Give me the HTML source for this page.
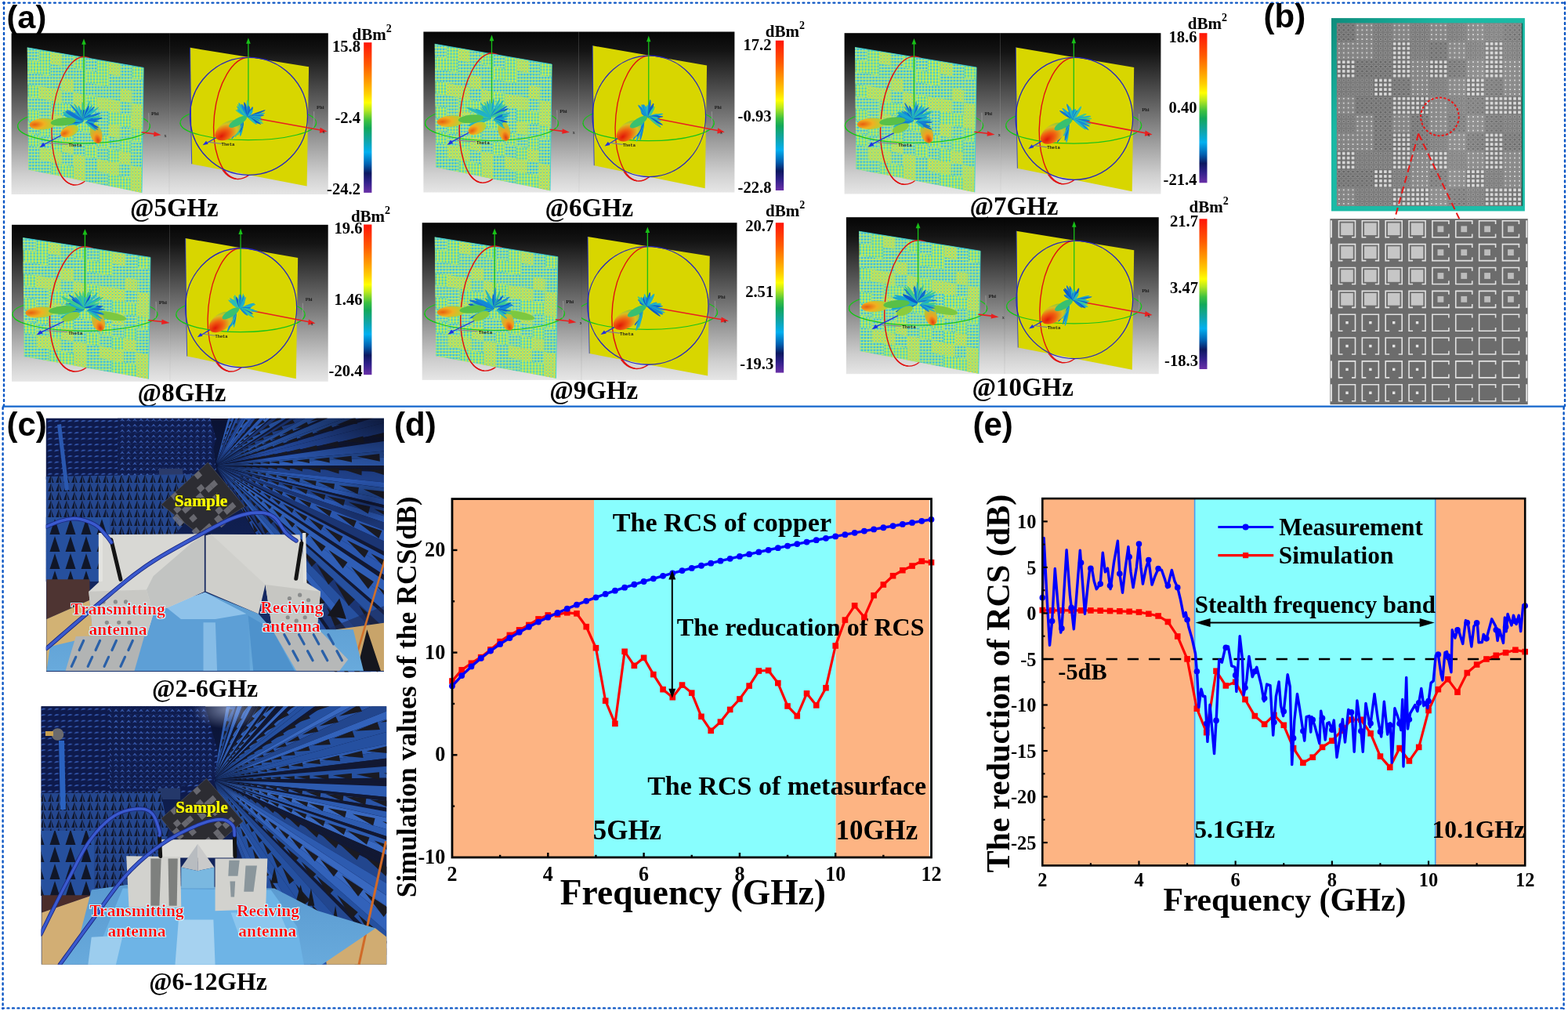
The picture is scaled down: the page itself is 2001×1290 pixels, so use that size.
<!DOCTYPE html>
<html><head><meta charset="utf-8"><title>Metasurface RCS figure</title>
<style>
html,body{margin:0;padding:0;background:#fff;}
body{width:2001px;height:1290px;overflow:hidden;position:relative;}
body>svg{position:absolute;left:0;top:0;display:block;}
</style></head>
<body>
<svg width="2001" height="1290" viewBox="0 0 2001 1290">
<defs>
<linearGradient id="simbg" x1="0" y1="0" x2="0" y2="1">
<stop offset="0" stop-color="#050505"/><stop offset="0.12" stop-color="#141414"/>
<stop offset="0.5" stop-color="#707070"/><stop offset="0.88" stop-color="#cfcfcf"/>
<stop offset="1" stop-color="#e6e6e6"/></linearGradient>
<linearGradient id="cbar" x1="0" y1="0" x2="0" y2="1">
<stop offset="0" stop-color="#ff1408"/><stop offset="0.15" stop-color="#ff5a00"/>
<stop offset="0.26" stop-color="#ff9c00"/><stop offset="0.34" stop-color="#ffcf00"/>
<stop offset="0.40" stop-color="#ffff00"/><stop offset="0.45" stop-color="#b8e820"/>
<stop offset="0.52" stop-color="#3cc040"/><stop offset="0.57" stop-color="#12a85a"/>
<stop offset="0.65" stop-color="#10a4a4"/><stop offset="0.73" stop-color="#00b0f0"/>
<stop offset="0.81" stop-color="#0060b0"/><stop offset="0.87" stop-color="#0c1860"/>
<stop offset="0.93" stop-color="#30208a"/><stop offset="1" stop-color="#6a30a8"/></linearGradient>
<pattern id="mtex" width="3.8" height="4.0" patternUnits="userSpaceOnUse">
<rect width="3.8" height="4.0" fill="#9ae67c"/>
<rect x="0.2" y="0.3" width="1.6" height="1.6" fill="#f2ee22"/>
<rect x="2.1" y="2.2" width="1.5" height="1.5" fill="#1cb8f2"/>
<rect x="2.1" y="0.3" width="1.4" height="1.3" fill="#5ce0c4"/>
</pattern>
<pattern id="mtex2" width="3.8" height="4.0" patternUnits="userSpaceOnUse">
<rect width="3.8" height="4.0" fill="#b4e868"/>
<rect x="0.2" y="0.3" width="1.7" height="1.7" fill="#ffc414"/>
<rect x="2.1" y="2.2" width="1.4" height="1.4" fill="#40c8e0"/>
</pattern>
<pattern id="mtexY" width="3.8" height="4.0" patternUnits="userSpaceOnUse">
<rect width="3.8" height="4.0" fill="#9ee27c"/>
<rect x="0.2" y="0.3" width="1.7" height="1.7" fill="#f6d62a"/>
<rect x="2.1" y="2.2" width="1.5" height="1.5" fill="#e8ee30"/>
<rect x="2.2" y="0.4" width="1.1" height="1.1" fill="#30bce8"/>
</pattern>
<pattern id="mtexB" width="3.8" height="4.0" patternUnits="userSpaceOnUse">
<rect width="3.8" height="4.0" fill="#8ee0a2"/>
<rect x="0.2" y="0.3" width="1.7" height="1.7" fill="#20acec"/>
<rect x="2.1" y="2.2" width="1.5" height="1.5" fill="#eaf030"/>
<rect x="2.2" y="0.4" width="1.1" height="1.0" fill="#40c8e0"/>
</pattern>
<radialGradient id="lobeO" cx="0.2" cy="0.5" r="0.8">
<stop offset="0" stop-color="#e86010"/><stop offset="0.45" stop-color="#f0b020"/><stop offset="1" stop-color="#a8d838"/></radialGradient>
<radialGradient id="lobeD" cx="0.5" cy="0.85" r="0.8">
<stop offset="0" stop-color="#e04010"/><stop offset="0.4" stop-color="#f0a020"/><stop offset="1" stop-color="#a0d040"/></radialGradient>
<radialGradient id="lobeR" cx="0.2" cy="0.6" r="0.8">
<stop offset="0" stop-color="#e01808"/><stop offset="0.4" stop-color="#f06010"/><stop offset="0.75" stop-color="#d8c020"/><stop offset="1" stop-color="#80c840"/></radialGradient>
<pattern id="cB" x="1705.9" y="29.6" width="5.9" height="5.83" patternUnits="userSpaceOnUse">
<rect width="5.92" height="5.92" fill="#6c6c6c"/>
<rect x="1.15" y="1.15" width="3.6" height="3.6" fill="#dcdcdc"/></pattern>
<pattern id="cD" x="1705.9" y="29.6" width="5.9" height="5.83" patternUnits="userSpaceOnUse">
<rect width="5.92" height="5.92" fill="#747474"/>
<rect x="0.9" y="0.9" width="4.1" height="4.1" fill="none" stroke="#a2a2a2" stroke-width="0.6"/>
<circle cx="2.96" cy="2.96" r="0.95" fill="#f2f2f2"/></pattern>
<pattern id="cR" x="1705.9" y="29.6" width="5.9" height="5.83" patternUnits="userSpaceOnUse">
<rect width="5.92" height="5.92" fill="#787878"/>
<circle cx="2.96" cy="2.96" r="1.7" fill="#6a6a6a" stroke="#a8a8a8" stroke-width="0.6"/></pattern>
<pattern id="cC" x="1705.9" y="29.6" width="5.9" height="5.83" patternUnits="userSpaceOnUse">
<rect width="5.92" height="5.92" fill="#727272"/>
<rect x="1.0" y="1.2" width="3.9" height="3.5" rx="1.3" fill="#5e5e5e" stroke="#b0b0b0" stroke-width="0.6"/></pattern>
<linearGradient id="tealg" x1="0" y1="0" x2="1" y2="1">
<stop offset="0" stop-color="#0e8c7c"/><stop offset="0.3" stop-color="#1ab8a4"/><stop offset="1" stop-color="#1ebfaa"/></linearGradient>
<linearGradient id="bLight" x1="0" y1="0" x2="1" y2="0.3">
<stop offset="0" stop-color="#ffffff" stop-opacity="0"/><stop offset="0.55" stop-color="#ffffff" stop-opacity="0.04"/>
<stop offset="0.8" stop-color="#ffffff" stop-opacity="0.12"/><stop offset="1" stop-color="#ffffff" stop-opacity="0.06"/></linearGradient>
<linearGradient id="chamberTop" x1="0" y1="0" x2="0" y2="1">
<stop offset="0" stop-color="#0a1232"/><stop offset="0.6" stop-color="#12245c"/><stop offset="1" stop-color="#1a3470"/></linearGradient>
<pattern id="pyr" width="8.5" height="7.5" patternUnits="userSpaceOnUse">
<rect width="8.5" height="7.5" fill="#0e1a4c"/>
<path d="M0.8 6 Q4 2.6 7.6 4.6 L4.6 5.4 Z" fill="#3a62c0"/></pattern>
<pattern id="pyr2" width="8" height="7" patternUnits="userSpaceOnUse">
<rect width="8" height="7" fill="#0f1c4e"/>
<path d="M1 5.5 L4 1.8 L7 5.5 L4 4.3 Z" fill="#4068c4"/></pattern>
<pattern id="cones" width="10" height="11" patternUnits="userSpaceOnUse">
<rect width="10" height="11" fill="#24468e"/>
<polygon points="5,0.5 8.8,11 1.2,11" fill="#101830"/><polygon points="5,0.5 6.6,11 5,11" fill="#28468a"/></pattern>
<pattern id="conesBig" width="20" height="22" patternUnits="userSpaceOnUse">
<rect width="20" height="22" fill="#26509e"/>
<polygon points="10,2 16.5,22 3.5,22" fill="#101628"/></pattern>
<linearGradient id="foamG" x1="0" y1="0" x2="0" y2="1">
<stop offset="0" stop-color="#5a9ad0"/><stop offset="1" stop-color="#68aadc"/></linearGradient>
<linearGradient id="antG" x1="0" y1="0" x2="1" y2="1">
<stop offset="0" stop-color="#e2e2de"/><stop offset="1" stop-color="#c4c4c0"/></linearGradient>
<radialGradient id="cornerDark" cx="1" cy="0" r="1">
<stop offset="0" stop-color="#060a1c" stop-opacity="0.75"/><stop offset="0.6" stop-color="#060a1c" stop-opacity="0.25"/><stop offset="1" stop-color="#060a1c" stop-opacity="0"/></radialGradient>
<radialGradient id="vpGlow" cx="0.5" cy="0.5" r="0.5">
<stop offset="0" stop-color="#05081a" stop-opacity="0.85"/><stop offset="1" stop-color="#05081a" stop-opacity="0"/></radialGradient>
<radialGradient id="lightGlow" cx="0.5" cy="0.5" r="0.5">
<stop offset="0" stop-color="#c8d8ff" stop-opacity="0.55"/><stop offset="1" stop-color="#c8d8ff" stop-opacity="0"/></radialGradient>
<filter id="rglow" x="-5%" y="-20%" width="110%" height="140%">
<feMorphology in="SourceAlpha" operator="dilate" radius="1.1" result="d"/>
<feFlood flood-color="#c8f4ff"/><feComposite in2="d" operator="in" result="o"/>
<feMerge><feMergeNode in="o"/><feMergeNode in="SourceGraphic"/></feMerge></filter>
<filter id="yshadow" x="-5%" y="-20%" width="110%" height="140%">
<feMorphology in="SourceAlpha" operator="dilate" radius="0.8" result="d"/>
<feFlood flood-color="#30301a"/><feComposite in2="d" operator="in" result="o"/>
<feMerge><feMergeNode in="o"/><feMergeNode in="SourceGraphic"/></feMerge></filter>
</defs>
<rect x="0" y="0" width="2001" height="1290" fill="#ffffff"/>
<g transform="translate(14.6 42.3)">
<rect x="0" y="0" width="201.5" height="205.7" fill="url(#simbg)"/>
<rect x="201.5" y="0" width="202.7" height="205.7" fill="url(#simbg)"/>
<line x1="201.5" y1="0" x2="201.5" y2="205.7" stroke="#000" stroke-opacity="0.07" stroke-width="1"/>
<svg x="0" y="0" width="201.5" height="205.7" viewBox="0 0 201.5 205.7" overflow="hidden">
<g transform="matrix(1 0 0 1 0 0)">
<ellipse cx="87" cy="112" rx="35" ry="82" fill="none" stroke="#e01010" stroke-width="1.4" transform="rotate(5 87 112)"/>
<ellipse cx="92.4" cy="118.6" rx="84.4" ry="22" fill="none" stroke="#18c418" stroke-width="1.2"/>
<polygon points="20.2,18.5 168.6,44.1 166.4,203.6 21.6,174.2" fill="url(#mtex)"/>
<polygon points="20.2,18.5 35.04,21.06 35.14,36.67 20.34,34.07" fill="url(#mtexB)"/>
<polygon points="49.88,23.62 64.72,26.18 64.75,41.86 49.95,39.27" fill="url(#mtexY)"/>
<polygon points="64.72,26.18 79.56,28.74 79.56,44.46 64.75,41.86" fill="url(#mtexB)"/>
<polygon points="94.4,31.3 109.24,33.86 109.16,49.66 94.36,47.06" fill="url(#mtexB)"/>
<polygon points="124.08,36.42 138.92,38.98 138.77,54.85 123.97,52.26" fill="url(#mtexY)"/>
<polygon points="138.92,38.98 153.76,41.54 153.58,57.45 138.77,54.85" fill="url(#mtexB)"/>
<polygon points="49.95,39.27 64.75,41.86 64.78,57.55 50.02,54.91" fill="url(#mtexB)"/>
<polygon points="64.75,41.86 79.56,44.46 79.55,60.18 64.78,57.55" fill="url(#mtexB)"/>
<polygon points="79.56,44.46 94.36,47.06 94.32,62.82 79.55,60.18" fill="url(#mtexB)"/>
<polygon points="123.97,52.26 138.77,54.85 138.62,70.73 123.86,68.09" fill="url(#mtexB)"/>
<polygon points="138.77,54.85 153.58,57.45 153.39,73.36 138.62,70.73" fill="url(#mtexB)"/>
<polygon points="153.58,57.45 168.38,60.05 168.16,76 153.39,73.36" fill="url(#mtexB)"/>
<polygon points="20.48,49.64 35.25,52.28 35.35,67.88 20.62,65.21" fill="url(#mtexB)"/>
<polygon points="35.25,52.28 50.02,54.91 50.08,70.56 35.35,67.88" fill="url(#mtexB)"/>
<polygon points="50.02,54.91 64.78,57.55 64.82,73.23 50.08,70.56" fill="url(#mtexB)"/>
<polygon points="64.78,57.55 79.55,60.18 79.55,75.91 64.82,73.23" fill="url(#mtexY)"/>
<polygon points="79.55,60.18 94.32,62.82 94.28,78.58 79.55,75.91" fill="url(#mtexB)"/>
<polygon points="94.32,62.82 109.09,65.46 109.01,81.25 94.28,78.58" fill="url(#mtexB)"/>
<polygon points="109.09,65.46 123.86,68.09 123.74,83.93 109.01,81.25" fill="url(#mtexB)"/>
<polygon points="123.86,68.09 138.62,70.73 138.48,86.6 123.74,83.93" fill="url(#mtexB)"/>
<polygon points="138.62,70.73 153.39,73.36 153.21,89.28 138.48,86.6" fill="url(#mtexY)"/>
<polygon points="153.39,73.36 168.16,76 167.94,91.95 153.21,89.28" fill="url(#mtexB)"/>
<polygon points="35.35,67.88 50.08,70.56 50.15,86.2 35.46,83.49" fill="url(#mtexY)"/>
<polygon points="50.08,70.56 64.82,73.23 64.85,88.92 50.15,86.2" fill="url(#mtexY)"/>
<polygon points="64.82,73.23 79.55,75.91 79.54,91.63 64.85,88.92" fill="url(#mtexB)"/>
<polygon points="79.55,75.91 94.28,78.58 94.24,94.34 79.54,91.63" fill="url(#mtexY)"/>
<polygon points="109.01,81.25 123.74,83.93 123.63,99.76 108.94,97.05" fill="url(#mtexY)"/>
<polygon points="123.74,83.93 138.48,86.6 138.33,102.48 123.63,99.76" fill="url(#mtexY)"/>
<polygon points="138.48,86.6 153.21,89.28 153.02,105.19 138.33,102.48" fill="url(#mtexB)"/>
<polygon points="153.21,89.28 167.94,91.95 167.72,107.9 153.02,105.19" fill="url(#mtexY)"/>
<polygon points="20.76,80.78 35.46,83.49 35.56,99.1 20.9,96.35" fill="url(#mtexB)"/>
<polygon points="35.46,83.49 50.15,86.2 50.22,101.85 35.56,99.1" fill="url(#mtexB)"/>
<polygon points="79.54,91.63 94.24,94.34 94.2,110.1 79.54,107.35" fill="url(#mtexY)"/>
<polygon points="94.24,94.34 108.94,97.05 108.86,112.85 94.2,110.1" fill="url(#mtexB)"/>
<polygon points="108.94,97.05 123.63,99.76 123.52,115.6 108.86,112.85" fill="url(#mtexB)"/>
<polygon points="153.02,105.19 167.72,107.9 167.5,123.85 152.84,121.1" fill="url(#mtexY)"/>
<polygon points="35.56,99.1 50.22,101.85 50.29,117.5 35.66,114.71" fill="url(#mtexB)"/>
<polygon points="50.22,101.85 64.88,104.6 64.91,120.28 50.29,117.5" fill="url(#mtexY)"/>
<polygon points="64.88,104.6 79.54,107.35 79.54,123.07 64.91,120.28" fill="url(#mtexB)"/>
<polygon points="108.86,112.85 123.52,115.6 123.41,131.44 108.78,128.65" fill="url(#mtexB)"/>
<polygon points="123.52,115.6 138.18,118.35 138.03,134.22 123.41,131.44" fill="url(#mtexY)"/>
<polygon points="138.18,118.35 152.84,121.1 152.66,137.01 138.03,134.22" fill="url(#mtexB)"/>
<polygon points="21.04,111.92 35.66,114.71 35.77,130.32 21.18,127.49" fill="url(#mtexB)"/>
<polygon points="50.29,117.5 64.91,120.28 64.94,135.97 50.36,133.14" fill="url(#mtexB)"/>
<polygon points="79.54,123.07 94.16,125.86 94.12,141.62 79.53,138.79" fill="url(#mtexB)"/>
<polygon points="94.16,125.86 108.78,128.65 108.71,144.45 94.12,141.62" fill="url(#mtexB)"/>
<polygon points="123.41,131.44 138.03,134.22 137.88,150.1 123.3,147.27" fill="url(#mtexB)"/>
<polygon points="152.66,137.01 167.28,139.8 167.06,155.75 152.47,152.92" fill="url(#mtexB)"/>
<polygon points="35.77,130.32 50.36,133.14 50.42,148.79 35.87,145.92" fill="url(#mtexB)"/>
<polygon points="64.94,135.97 79.53,138.79 79.53,154.52 64.98,151.65" fill="url(#mtexY)"/>
<polygon points="79.53,138.79 94.12,141.62 94.08,157.38 79.53,154.52" fill="url(#mtexB)"/>
<polygon points="108.71,144.45 123.3,147.27 123.18,163.11 108.63,160.24" fill="url(#mtexB)"/>
<polygon points="137.88,150.1 152.47,152.92 152.29,168.84 137.74,165.97" fill="url(#mtexY)"/>
<polygon points="152.47,152.92 167.06,155.75 166.84,171.7 152.29,168.84" fill="url(#mtexB)"/>
<polygon points="21.32,143.06 35.87,145.92 35.98,161.53 21.46,158.63" fill="url(#mtexB)"/>
<polygon points="35.87,145.92 50.42,148.79 50.49,164.43 35.98,161.53" fill="url(#mtexY)"/>
<polygon points="50.42,148.79 64.98,151.65 65.01,167.34 50.49,164.43" fill="url(#mtexY)"/>
<polygon points="64.98,151.65 79.53,154.52 79.52,170.24 65.01,167.34" fill="url(#mtexB)"/>
<polygon points="79.53,154.52 94.08,157.38 94.04,173.14 79.52,170.24" fill="url(#mtexY)"/>
<polygon points="94.08,157.38 108.63,160.24 108.56,176.04 94.04,173.14" fill="url(#mtexB)"/>
<polygon points="108.63,160.24 123.18,163.11 123.07,178.94 108.56,176.04" fill="url(#mtexY)"/>
<polygon points="123.18,163.11 137.74,165.97 137.59,181.85 123.07,178.94" fill="url(#mtexY)"/>
<polygon points="137.74,165.97 152.29,168.84 152.1,184.75 137.59,181.85" fill="url(#mtexB)"/>
<polygon points="152.29,168.84 166.84,171.7 166.62,187.65 152.1,184.75" fill="url(#mtexY)"/>
<polygon points="21.46,158.63 35.98,161.53 36.08,177.14 21.6,174.2" fill="url(#mtexB)"/>
<polygon points="35.98,161.53 50.49,164.43 50.56,180.08 36.08,177.14" fill="url(#mtexB)"/>
<polygon points="79.52,170.24 94.04,173.14 94,188.9 79.52,185.96" fill="url(#mtexY)"/>
<polygon points="94.04,173.14 108.56,176.04 108.48,191.84 94,188.9" fill="url(#mtexB)"/>
<polygon points="108.56,176.04 123.07,178.94 122.96,194.78 108.48,191.84" fill="url(#mtexB)"/>
<polygon points="152.1,184.75 166.62,187.65 166.4,203.6 151.92,200.66" fill="url(#mtexY)"/>
<polyline points="20.2,18.5 168.6,44.1 166.4,203.6" fill="none" stroke="#30d0e0" stroke-width="0.8"/>
<path d="M 94.2 30.3 A 35 82 5 0 0 79.8 193.7" fill="none" stroke="#e01010" stroke-width="1.4"/>
<path d="M 8 118.6 A 84.4 22 0 0 0 176.8 118.6" fill="none" stroke="#18c418" stroke-width="1.2"/>
<line x1="92.4" y1="111" x2="92.4" y2="12" stroke="#18c018" stroke-width="1.3"/>
<polygon points="92.4,7 89.6,14.5 95.2,14.5" fill="#18c018"/>
<line x1="166" y1="126.5" x2="184" y2="128.8" stroke="#e82020" stroke-width="1.6"/>
<polygon points="191,130 182,125.5 181.5,132" fill="#e82020"/>
<line x1="68" y1="128" x2="40" y2="143" stroke="#2030e0" stroke-width="1.3"/>
<polygon points="36,146 40.5,139.5 43.5,144" fill="#2030e0"/>
<line x1="48" y1="140" x2="72" y2="142" stroke="#808090" stroke-width="1.2"/>
<text x="73" y="145" font-family="Liberation Mono, monospace" font-size="5.6" font-weight="bold" fill="#1a1a1a">Theta</text>
<text x="178.5" y="105" font-family="Liberation Serif, serif" font-size="6.5" font-weight="bold" fill="#1a1a1a">Phi</text>
<text x="195" y="132.5" font-family="Liberation Serif, serif" font-size="6" fill="#1a1a1a">x</text>
<path d="M 174 124 Q 176 112 175 102" fill="none" stroke="#909090" stroke-width="1.2"/>
<ellipse cx="83.37" cy="109.57" rx="8.64" ry="1.3" fill="#20b0c8" transform="rotate(-177.13 83.37 109.57)"/>
<ellipse cx="83.98" cy="108.61" rx="8.14" ry="1.3" fill="#18a8d0" transform="rotate(-170.15 83.98 108.61)"/>
<ellipse cx="81.17" cy="106.44" rx="11.4" ry="1.3" fill="#3cc890" transform="rotate(-161.8 81.17 106.44)"/>
<ellipse cx="81.98" cy="105.72" rx="10.89" ry="1.3" fill="#18a8d0" transform="rotate(-156.87 81.98 105.72)"/>
<ellipse cx="81.15" cy="103.86" rx="12.46" ry="1.3" fill="#1288d8" transform="rotate(-150.51 81.15 103.86)"/>
<ellipse cx="86.11" cy="105.4" rx="7.48" ry="1.3" fill="#20b0c8" transform="rotate(-141.99 86.11 105.4)"/>
<ellipse cx="83.63" cy="100.47" rx="12.69" ry="1.3" fill="#1288d8" transform="rotate(-131.28 83.63 100.47)"/>
<ellipse cx="87.08" cy="103.98" rx="7.78" ry="1.3" fill="#1474d0" transform="rotate(-129.27 87.08 103.98)"/>
<ellipse cx="85.96" cy="100" rx="11.68" ry="1.3" fill="#2cbcb8" transform="rotate(-121.14 85.96 100)"/>
<ellipse cx="88.61" cy="101.19" rx="9.44" ry="1.3" fill="#20b0c8" transform="rotate(-111.06 88.61 101.19)"/>
<ellipse cx="90.36" cy="103.93" rx="6.28" ry="1.3" fill="#1474d0" transform="rotate(-105.09 90.36 103.93)"/>
<ellipse cx="90.95" cy="103.64" rx="6.45" ry="1.3" fill="#3cc890" transform="rotate(-99.37 90.95 103.64)"/>
<ellipse cx="91.21" cy="98.84" rx="11.19" ry="1.3" fill="#3cc890" transform="rotate(-94.03 91.21 98.84)"/>
<ellipse cx="92.15" cy="103.67" rx="6.34" ry="1.3" fill="#0a5ccc" transform="rotate(-88.62 92.15 103.67)"/>
<ellipse cx="93.51" cy="103.27" rx="6.9" ry="1.3" fill="#2cbcb8" transform="rotate(-77.32 93.51 103.27)"/>
<ellipse cx="95.99" cy="98.28" rx="12.38" ry="1.3" fill="#2cbcb8" transform="rotate(-71.2 95.99 98.28)"/>
<ellipse cx="95.47" cy="101.23" rx="9.43" ry="1.3" fill="#0a5ccc" transform="rotate(-68.44 95.47 101.23)"/>
<ellipse cx="97.57" cy="100.82" rx="10.74" ry="1.3" fill="#20b0c8" transform="rotate(-58.75 97.57 100.82)"/>
<ellipse cx="98.88" cy="101.79" rx="10.71" ry="1.3" fill="#1474d0" transform="rotate(-50.03 98.88 101.79)"/>
<ellipse cx="98.49" cy="103.45" rx="9.23" ry="1.3" fill="#18a8d0" transform="rotate(-45.26 98.49 103.45)"/>
<ellipse cx="101.79" cy="102.15" rx="12.55" ry="1.3" fill="#2cbcb8" transform="rotate(-38.75 101.79 102.15)"/>
<ellipse cx="96.62" cy="107.02" rx="5.5" ry="1.3" fill="#0a5ccc" transform="rotate(-32.79 96.62 107.02)"/>
<ellipse cx="101.4" cy="106" rx="10.21" ry="1.3" fill="#18a8d0" transform="rotate(-23.06 101.4 106)"/>
<ellipse cx="102.88" cy="106" rx="11.59" ry="1.3" fill="#1474d0" transform="rotate(-20.16 102.88 106)"/>
<ellipse cx="102.95" cy="107.97" rx="11.14" ry="1.3" fill="#3cc890" transform="rotate(-10.51 102.95 107.97)"/>
<ellipse cx="104.19" cy="109.32" rx="12.21" ry="1.3" fill="#18a8d0" transform="rotate(-3.19 104.19 109.32)"/>
<ellipse cx="78.65" cy="117.42" rx="14.41" ry="2.2" fill="#20b0c8" transform="rotate(-202.12 78.65 117.42)"/>
<ellipse cx="82.84" cy="114.27" rx="9.44" ry="2.2" fill="#18a8d0" transform="rotate(-193.9 82.84 114.27)"/>
<ellipse cx="82.06" cy="112.78" rx="9.97" ry="2.2" fill="#0a5ccc" transform="rotate(-184.48 82.06 112.78)"/>
<ellipse cx="75.93" cy="111.12" rx="16.09" ry="2.2" fill="#18a8d0" transform="rotate(-176.88 75.93 111.12)"/>
<ellipse cx="81.39" cy="110.37" rx="10.73" ry="2.2" fill="#20b0c8" transform="rotate(-171.28 81.39 110.37)"/>
<ellipse cx="79.06" cy="107.99" rx="13.55" ry="2.2" fill="#18a8d0" transform="rotate(-162.79 79.06 107.99)"/>
<ellipse cx="78.6" cy="106.42" rx="14.52" ry="2.2" fill="#2cbcb8" transform="rotate(-157.41 78.6 106.42)"/>
<ellipse cx="80.36" cy="105.77" rx="13.2" ry="2.2" fill="#1474d0" transform="rotate(-151.84 80.36 105.77)"/>
<ellipse cx="40" cy="116" rx="17" ry="7.2" fill="url(#lobeO)" transform="rotate(-4 40 116)"/>
<ellipse cx="66" cy="113" rx="16" ry="5" fill="#58c048" transform="rotate(-6 66 113)"/>
<ellipse cx="74" cy="125" rx="12" ry="7" fill="url(#lobeO)" transform="rotate(-25 74 125)"/>
<ellipse cx="108" cy="128" rx="7.5" ry="13" fill="url(#lobeD)" transform="rotate(-15 108 128)"/>
<ellipse cx="99.58" cy="111.41" rx="5.26" ry="1.3" fill="#1474d0" transform="rotate(-29.43 99.58 111.41)"/>
<ellipse cx="101.97" cy="111.52" rx="7.4" ry="1.3" fill="#1474d0" transform="rotate(-19.6 101.97 111.52)"/>
<ellipse cx="105.44" cy="110.9" rx="10.89" ry="1.3" fill="#1474d0" transform="rotate(-16.54 105.44 110.9)"/>
<ellipse cx="103.21" cy="113.02" rx="8.27" ry="1.3" fill="#1474d0" transform="rotate(-6.81 103.21 113.02)"/>
<ellipse cx="100.3" cy="114.07" rx="5.3" ry="1.3" fill="#2cbcb8" transform="rotate(0.78 100.3 114.07)"/>
<ellipse cx="100.18" cy="115.02" rx="5.28" ry="1.3" fill="#1288d8" transform="rotate(11.13 100.18 115.02)"/>
<ellipse cx="100.61" cy="115.96" rx="5.94" ry="1.3" fill="#0a5ccc" transform="rotate(19.27 100.61 115.96)"/>
<ellipse cx="103.19" cy="117.36" rx="8.85" ry="1.3" fill="#0a5ccc" transform="rotate(22.28 103.19 117.36)"/>
<ellipse cx="102.84" cy="118.66" rx="9.13" ry="1.3" fill="#1474d0" transform="rotate(30.73 102.84 118.66)"/>
<ellipse cx="101.37" cy="119.23" rx="8.24" ry="1.3" fill="#2cbcb8" transform="rotate(39.41 101.37 119.23)"/>
</g></svg>
<svg x="201.5" y="0" width="202.7" height="205.7" viewBox="201.5 0 202.7 205.7" overflow="hidden">
<g transform="matrix(1 0 0 1 0 0)">
<ellipse cx="295" cy="108.5" rx="38" ry="78" fill="none" stroke="#e01010" stroke-width="1.4" transform="rotate(6 295 108.5)"/>
<ellipse cx="302.2" cy="114.4" rx="86.8" ry="22" fill="none" stroke="#18c418" stroke-width="1.2"/>
<polygon points="228,18.5 379.5,43 377,195.2 230.1,166.9" fill="#d8d600"/>
<polyline points="228,18.5 228.5,80 230.1,166.9" fill="none" stroke="#2030d0" stroke-width="0.8"/>
<path d="M 303.1 31 A 38 78 6 0 0 286.9 186" fill="none" stroke="#e01010" stroke-width="1.4"/>
<circle cx="302.9" cy="106" r="75" fill="none" stroke="#2424c0" stroke-width="1.3"/>
<path d="M 215.4 114.4 A 86.8 22 0 0 0 389 114.4" fill="none" stroke="#18c418" stroke-width="1.2"/>
<line x1="302.3" y1="108" x2="302.3" y2="11" stroke="#18c018" stroke-width="1.3"/>
<polygon points="302.3,6 299.5,13.5 305.1,13.5" fill="#18c018"/>
<line x1="302.3" y1="107" x2="396" y2="124" stroke="#e82020" stroke-width="1.6"/>
<polygon points="403,125.5 394,120.5 393.2,127.5" fill="#e82020"/>
<line x1="262" y1="133" x2="248" y2="141" stroke="#2030e0" stroke-width="1.3"/>
<polygon points="244,143 248.5,137.5 251,141.5" fill="#2030e0"/>
<line x1="252" y1="139" x2="268" y2="141" stroke="#808090" stroke-width="1.2"/>
<text x="268" y="143.5" font-family="Liberation Mono, monospace" font-size="5.6" font-weight="bold" fill="#1a1a1a">Theta</text>
<text x="389.5" y="97" font-family="Liberation Serif, serif" font-size="6.5" font-weight="bold" fill="#1a1a1a">Phi</text>
<text x="397" y="128" font-family="Liberation Serif, serif" font-size="6" fill="#1a1a1a">x</text>
<path d="M 385 121 Q 387 110 386 100" fill="none" stroke="#909090" stroke-width="1.2"/>
<ellipse cx="294.03" cy="102.45" rx="9.17" ry="1.6" fill="#3cc890" transform="rotate(-150.3 294.03 102.45)"/>
<ellipse cx="295.06" cy="102.13" rx="8.48" ry="1.6" fill="#18a8d0" transform="rotate(-144.91 295.06 102.13)"/>
<ellipse cx="294.76" cy="100.16" rx="9.96" ry="1.6" fill="#20b0c8" transform="rotate(-136.65 294.76 100.16)"/>
<ellipse cx="295.23" cy="98.86" rx="10.58" ry="1.6" fill="#3cc890" transform="rotate(-129.75 295.23 98.86)"/>
<ellipse cx="295.93" cy="97.9" rx="10.93" ry="1.6" fill="#20b0c8" transform="rotate(-123.69 295.93 97.9)"/>
<ellipse cx="297.82" cy="98.73" rx="9.26" ry="1.6" fill="#1288d8" transform="rotate(-116.82 297.82 98.73)"/>
<ellipse cx="300.18" cy="102.04" rx="5.28" ry="1.6" fill="#18a8d0" transform="rotate(-110.1 300.18 102.04)"/>
<ellipse cx="299.55" cy="97.53" rx="9.78" ry="1.6" fill="#0a5ccc" transform="rotate(-104.52 299.55 97.53)"/>
<ellipse cx="301.62" cy="96.05" rx="10.95" ry="1.6" fill="#3cc890" transform="rotate(-92 301.62 96.05)"/>
<ellipse cx="302.14" cy="99.59" rx="7.42" ry="1.6" fill="#1474d0" transform="rotate(-88.93 302.14 99.59)"/>
<ellipse cx="302.79" cy="100.26" rx="6.79" ry="1.6" fill="#1474d0" transform="rotate(-83.29 302.79 100.26)"/>
<ellipse cx="303.55" cy="102.1" rx="5.14" ry="1.6" fill="#0a5ccc" transform="rotate(-72.49 303.55 102.1)"/>
<ellipse cx="305.01" cy="100.55" rx="7.12" ry="1.6" fill="#1474d0" transform="rotate(-65 305.01 100.55)"/>
<ellipse cx="304.78" cy="102.6" rx="5.2" ry="1.6" fill="#20b0c8" transform="rotate(-57.65 304.78 102.6)"/>
<ellipse cx="313" cy="102.58" rx="11.86" ry="1.3" fill="#0a5ccc" transform="rotate(-21.89 313 102.58)"/>
<ellipse cx="312.81" cy="104.43" rx="11.11" ry="1.3" fill="#20b0c8" transform="rotate(-13.39 312.81 104.43)"/>
<ellipse cx="308.81" cy="106.13" rx="6.86" ry="1.3" fill="#1474d0" transform="rotate(-7.29 308.81 106.13)"/>
<ellipse cx="312.34" cy="105.8" rx="10.41" ry="1.3" fill="#1474d0" transform="rotate(-6.62 312.34 105.8)"/>
<ellipse cx="310.38" cy="107.11" rx="8.38" ry="1.3" fill="#2cbcb8" transform="rotate(0.74 310.38 107.11)"/>
<ellipse cx="310.62" cy="107.99" rx="8.68" ry="1.3" fill="#1288d8" transform="rotate(6.57 310.62 107.99)"/>
<ellipse cx="311.27" cy="109.52" rx="9.61" ry="1.3" fill="#3cc890" transform="rotate(15.18 311.27 109.52)"/>
<ellipse cx="309.23" cy="109.42" rx="7.62" ry="1.3" fill="#1474d0" transform="rotate(18.48 309.23 109.42)"/>
<ellipse cx="311.62" cy="111.16" rx="10.48" ry="1.3" fill="#2cbcb8" transform="rotate(23.38 311.62 111.16)"/>
<ellipse cx="310.27" cy="111.7" rx="9.51" ry="1.3" fill="#0a5ccc" transform="rotate(29.6 310.27 111.7)"/>
<ellipse cx="307.5" cy="110.92" rx="6.75" ry="1.3" fill="#0a5ccc" transform="rotate(35.45 307.5 110.92)"/>
<ellipse cx="307.58" cy="111.76" rx="7.34" ry="1.3" fill="#2cbcb8" transform="rotate(40.47 307.58 111.76)"/>
<ellipse cx="293.95" cy="121.8" rx="10.01" ry="1.5" fill="#18a8d0" transform="rotate(101.82 293.95 121.8)"/>
<ellipse cx="293.81" cy="119.29" rx="7.61" ry="1.5" fill="#0a5ccc" transform="rotate(106.71 293.81 119.29)"/>
<ellipse cx="292.36" cy="121.22" rx="9.91" ry="1.5" fill="#3cc890" transform="rotate(111.54 292.36 121.22)"/>
<ellipse cx="293.15" cy="119.2" rx="7.74" ry="1.5" fill="#0a5ccc" transform="rotate(111.56 293.15 119.2)"/>
<ellipse cx="290.69" cy="122.44" rx="11.71" ry="1.5" fill="#3cc890" transform="rotate(116.94 290.69 122.44)"/>
<ellipse cx="288.48" cy="123.53" rx="13.76" ry="1.5" fill="#1288d8" transform="rotate(123.13 288.48 123.53)"/>
<ellipse cx="289" cy="120.33" rx="10.88" ry="1.5" fill="#1288d8" transform="rotate(130.06 289 120.33)"/>
<ellipse cx="287.26" cy="122.48" rx="13.65" ry="1.5" fill="#1474d0" transform="rotate(129.84 287.26 122.48)"/>
<ellipse cx="287.25" cy="120.23" rx="12.01" ry="1.5" fill="#1474d0" transform="rotate(136.76 287.25 120.23)"/>
<ellipse cx="286.38" cy="120.5" rx="12.84" ry="1.5" fill="#20b0c8" transform="rotate(138.53 286.38 120.5)"/>
<ellipse cx="286.48" cy="118.82" rx="11.71" ry="1.5" fill="#20b0c8" transform="rotate(144.39 286.48 118.82)"/>
<ellipse cx="284.9" cy="118.45" rx="12.84" ry="1.5" fill="#1288d8" transform="rotate(149.83 284.9 118.45)"/>
<ellipse cx="276" cy="124" rx="18" ry="10.5" fill="url(#lobeR)" transform="rotate(-32 276 124)"/>
<ellipse cx="289" cy="113" rx="13" ry="4.5" fill="#38c070" transform="rotate(-30 289 113)"/>
</g></svg>
</g>
<g transform="translate(540.4 40.5)">
<rect x="0" y="0" width="198.4" height="205" fill="url(#simbg)"/>
<rect x="198.4" y="0" width="198.6" height="205" fill="url(#simbg)"/>
<line x1="198.4" y1="0" x2="198.4" y2="205" stroke="#000" stroke-opacity="0.07" stroke-width="1"/>
<svg x="0" y="0" width="198.4" height="205" viewBox="0 0 198.4 205" overflow="hidden">
<g transform="matrix(1.007 0 0 1.01 -5.94 -2.99)">
<ellipse cx="87" cy="112" rx="35" ry="82" fill="none" stroke="#e01010" stroke-width="1.4" transform="rotate(5 87 112)"/>
<ellipse cx="92.4" cy="118.6" rx="84.4" ry="22" fill="none" stroke="#18c418" stroke-width="1.2"/>
<polygon points="20.2,18.5 168.6,44.1 166.4,203.6 21.6,174.2" fill="url(#mtex)"/>
<polygon points="20.2,18.5 35.04,21.06 35.14,36.67 20.34,34.07" fill="url(#mtexB)"/>
<polygon points="49.88,23.62 64.72,26.18 64.75,41.86 49.95,39.27" fill="url(#mtexY)"/>
<polygon points="64.72,26.18 79.56,28.74 79.56,44.46 64.75,41.86" fill="url(#mtexB)"/>
<polygon points="94.4,31.3 109.24,33.86 109.16,49.66 94.36,47.06" fill="url(#mtexB)"/>
<polygon points="124.08,36.42 138.92,38.98 138.77,54.85 123.97,52.26" fill="url(#mtexY)"/>
<polygon points="138.92,38.98 153.76,41.54 153.58,57.45 138.77,54.85" fill="url(#mtexB)"/>
<polygon points="49.95,39.27 64.75,41.86 64.78,57.55 50.02,54.91" fill="url(#mtexB)"/>
<polygon points="64.75,41.86 79.56,44.46 79.55,60.18 64.78,57.55" fill="url(#mtexB)"/>
<polygon points="79.56,44.46 94.36,47.06 94.32,62.82 79.55,60.18" fill="url(#mtexB)"/>
<polygon points="123.97,52.26 138.77,54.85 138.62,70.73 123.86,68.09" fill="url(#mtexB)"/>
<polygon points="138.77,54.85 153.58,57.45 153.39,73.36 138.62,70.73" fill="url(#mtexB)"/>
<polygon points="153.58,57.45 168.38,60.05 168.16,76 153.39,73.36" fill="url(#mtexB)"/>
<polygon points="20.48,49.64 35.25,52.28 35.35,67.88 20.62,65.21" fill="url(#mtexB)"/>
<polygon points="35.25,52.28 50.02,54.91 50.08,70.56 35.35,67.88" fill="url(#mtexB)"/>
<polygon points="50.02,54.91 64.78,57.55 64.82,73.23 50.08,70.56" fill="url(#mtexB)"/>
<polygon points="64.78,57.55 79.55,60.18 79.55,75.91 64.82,73.23" fill="url(#mtexY)"/>
<polygon points="79.55,60.18 94.32,62.82 94.28,78.58 79.55,75.91" fill="url(#mtexB)"/>
<polygon points="94.32,62.82 109.09,65.46 109.01,81.25 94.28,78.58" fill="url(#mtexB)"/>
<polygon points="109.09,65.46 123.86,68.09 123.74,83.93 109.01,81.25" fill="url(#mtexB)"/>
<polygon points="123.86,68.09 138.62,70.73 138.48,86.6 123.74,83.93" fill="url(#mtexB)"/>
<polygon points="138.62,70.73 153.39,73.36 153.21,89.28 138.48,86.6" fill="url(#mtexY)"/>
<polygon points="153.39,73.36 168.16,76 167.94,91.95 153.21,89.28" fill="url(#mtexB)"/>
<polygon points="35.35,67.88 50.08,70.56 50.15,86.2 35.46,83.49" fill="url(#mtexY)"/>
<polygon points="50.08,70.56 64.82,73.23 64.85,88.92 50.15,86.2" fill="url(#mtexY)"/>
<polygon points="64.82,73.23 79.55,75.91 79.54,91.63 64.85,88.92" fill="url(#mtexB)"/>
<polygon points="79.55,75.91 94.28,78.58 94.24,94.34 79.54,91.63" fill="url(#mtexY)"/>
<polygon points="109.01,81.25 123.74,83.93 123.63,99.76 108.94,97.05" fill="url(#mtexY)"/>
<polygon points="123.74,83.93 138.48,86.6 138.33,102.48 123.63,99.76" fill="url(#mtexY)"/>
<polygon points="138.48,86.6 153.21,89.28 153.02,105.19 138.33,102.48" fill="url(#mtexB)"/>
<polygon points="153.21,89.28 167.94,91.95 167.72,107.9 153.02,105.19" fill="url(#mtexY)"/>
<polygon points="20.76,80.78 35.46,83.49 35.56,99.1 20.9,96.35" fill="url(#mtexB)"/>
<polygon points="35.46,83.49 50.15,86.2 50.22,101.85 35.56,99.1" fill="url(#mtexB)"/>
<polygon points="79.54,91.63 94.24,94.34 94.2,110.1 79.54,107.35" fill="url(#mtexY)"/>
<polygon points="94.24,94.34 108.94,97.05 108.86,112.85 94.2,110.1" fill="url(#mtexB)"/>
<polygon points="108.94,97.05 123.63,99.76 123.52,115.6 108.86,112.85" fill="url(#mtexB)"/>
<polygon points="153.02,105.19 167.72,107.9 167.5,123.85 152.84,121.1" fill="url(#mtexY)"/>
<polygon points="35.56,99.1 50.22,101.85 50.29,117.5 35.66,114.71" fill="url(#mtexB)"/>
<polygon points="50.22,101.85 64.88,104.6 64.91,120.28 50.29,117.5" fill="url(#mtexY)"/>
<polygon points="64.88,104.6 79.54,107.35 79.54,123.07 64.91,120.28" fill="url(#mtexB)"/>
<polygon points="108.86,112.85 123.52,115.6 123.41,131.44 108.78,128.65" fill="url(#mtexB)"/>
<polygon points="123.52,115.6 138.18,118.35 138.03,134.22 123.41,131.44" fill="url(#mtexY)"/>
<polygon points="138.18,118.35 152.84,121.1 152.66,137.01 138.03,134.22" fill="url(#mtexB)"/>
<polygon points="21.04,111.92 35.66,114.71 35.77,130.32 21.18,127.49" fill="url(#mtexB)"/>
<polygon points="50.29,117.5 64.91,120.28 64.94,135.97 50.36,133.14" fill="url(#mtexB)"/>
<polygon points="79.54,123.07 94.16,125.86 94.12,141.62 79.53,138.79" fill="url(#mtexB)"/>
<polygon points="94.16,125.86 108.78,128.65 108.71,144.45 94.12,141.62" fill="url(#mtexB)"/>
<polygon points="123.41,131.44 138.03,134.22 137.88,150.1 123.3,147.27" fill="url(#mtexB)"/>
<polygon points="152.66,137.01 167.28,139.8 167.06,155.75 152.47,152.92" fill="url(#mtexB)"/>
<polygon points="35.77,130.32 50.36,133.14 50.42,148.79 35.87,145.92" fill="url(#mtexB)"/>
<polygon points="64.94,135.97 79.53,138.79 79.53,154.52 64.98,151.65" fill="url(#mtexY)"/>
<polygon points="79.53,138.79 94.12,141.62 94.08,157.38 79.53,154.52" fill="url(#mtexB)"/>
<polygon points="108.71,144.45 123.3,147.27 123.18,163.11 108.63,160.24" fill="url(#mtexB)"/>
<polygon points="137.88,150.1 152.47,152.92 152.29,168.84 137.74,165.97" fill="url(#mtexY)"/>
<polygon points="152.47,152.92 167.06,155.75 166.84,171.7 152.29,168.84" fill="url(#mtexB)"/>
<polygon points="21.32,143.06 35.87,145.92 35.98,161.53 21.46,158.63" fill="url(#mtexB)"/>
<polygon points="35.87,145.92 50.42,148.79 50.49,164.43 35.98,161.53" fill="url(#mtexY)"/>
<polygon points="50.42,148.79 64.98,151.65 65.01,167.34 50.49,164.43" fill="url(#mtexY)"/>
<polygon points="64.98,151.65 79.53,154.52 79.52,170.24 65.01,167.34" fill="url(#mtexB)"/>
<polygon points="79.53,154.52 94.08,157.38 94.04,173.14 79.52,170.24" fill="url(#mtexY)"/>
<polygon points="94.08,157.38 108.63,160.24 108.56,176.04 94.04,173.14" fill="url(#mtexB)"/>
<polygon points="108.63,160.24 123.18,163.11 123.07,178.94 108.56,176.04" fill="url(#mtexY)"/>
<polygon points="123.18,163.11 137.74,165.97 137.59,181.85 123.07,178.94" fill="url(#mtexY)"/>
<polygon points="137.74,165.97 152.29,168.84 152.1,184.75 137.59,181.85" fill="url(#mtexB)"/>
<polygon points="152.29,168.84 166.84,171.7 166.62,187.65 152.1,184.75" fill="url(#mtexY)"/>
<polygon points="21.46,158.63 35.98,161.53 36.08,177.14 21.6,174.2" fill="url(#mtexB)"/>
<polygon points="35.98,161.53 50.49,164.43 50.56,180.08 36.08,177.14" fill="url(#mtexB)"/>
<polygon points="79.52,170.24 94.04,173.14 94,188.9 79.52,185.96" fill="url(#mtexY)"/>
<polygon points="94.04,173.14 108.56,176.04 108.48,191.84 94,188.9" fill="url(#mtexB)"/>
<polygon points="108.56,176.04 123.07,178.94 122.96,194.78 108.48,191.84" fill="url(#mtexB)"/>
<polygon points="152.1,184.75 166.62,187.65 166.4,203.6 151.92,200.66" fill="url(#mtexY)"/>
<polyline points="20.2,18.5 168.6,44.1 166.4,203.6" fill="none" stroke="#30d0e0" stroke-width="0.8"/>
<path d="M 94.2 30.3 A 35 82 5 0 0 79.8 193.7" fill="none" stroke="#e01010" stroke-width="1.4"/>
<path d="M 8 118.6 A 84.4 22 0 0 0 176.8 118.6" fill="none" stroke="#18c418" stroke-width="1.2"/>
<line x1="92.4" y1="111" x2="92.4" y2="12" stroke="#18c018" stroke-width="1.3"/>
<polygon points="92.4,7 89.6,14.5 95.2,14.5" fill="#18c018"/>
<line x1="166" y1="126.5" x2="184" y2="128.8" stroke="#e82020" stroke-width="1.6"/>
<polygon points="191,130 182,125.5 181.5,132" fill="#e82020"/>
<line x1="68" y1="128" x2="40" y2="143" stroke="#2030e0" stroke-width="1.3"/>
<polygon points="36,146 40.5,139.5 43.5,144" fill="#2030e0"/>
<line x1="48" y1="140" x2="72" y2="142" stroke="#808090" stroke-width="1.2"/>
<text x="73" y="145" font-family="Liberation Mono, monospace" font-size="5.6" font-weight="bold" fill="#1a1a1a">Theta</text>
<text x="178.5" y="105" font-family="Liberation Serif, serif" font-size="6.5" font-weight="bold" fill="#1a1a1a">Phi</text>
<text x="195" y="132.5" font-family="Liberation Serif, serif" font-size="6" fill="#1a1a1a">x</text>
<path d="M 174 124 Q 176 112 175 102" fill="none" stroke="#909090" stroke-width="1.2"/>
<ellipse cx="85.47" cy="109.37" rx="6.56" ry="1.3" fill="#3cc890" transform="rotate(-174.51 85.47 109.37)"/>
<ellipse cx="83.54" cy="107.84" rx="8.74" ry="1.3" fill="#1474d0" transform="rotate(-165.66 83.54 107.84)"/>
<ellipse cx="82.7" cy="106.87" rx="9.82" ry="1.3" fill="#18a8d0" transform="rotate(-161.38 82.7 106.87)"/>
<ellipse cx="81.82" cy="105.18" rx="11.26" ry="1.3" fill="#18a8d0" transform="rotate(-154.69 81.82 105.18)"/>
<ellipse cx="87.44" cy="106.81" rx="5.56" ry="1.3" fill="#1288d8" transform="rotate(-144.97 87.44 106.81)"/>
<ellipse cx="85.16" cy="104.85" rx="8.56" ry="1.3" fill="#3cc890" transform="rotate(-143.03 85.16 104.85)"/>
<ellipse cx="85.8" cy="103.8" rx="8.77" ry="1.3" fill="#18a8d0" transform="rotate(-135 85.8 103.8)"/>
<ellipse cx="84.88" cy="101.19" rx="11.33" ry="1.3" fill="#2cbcb8" transform="rotate(-128.97 84.88 101.19)"/>
<ellipse cx="87.48" cy="102.87" rx="8.44" ry="1.3" fill="#18a8d0" transform="rotate(-122.35 87.48 102.87)"/>
<ellipse cx="87.6" cy="100.78" rx="10.22" ry="1.3" fill="#3cc890" transform="rotate(-115.53 87.6 100.78)"/>
<ellipse cx="89.17" cy="100.08" rx="10.32" ry="1.3" fill="#18a8d0" transform="rotate(-105.92 89.17 100.08)"/>
<ellipse cx="90.49" cy="102.11" rx="8.03" ry="1.3" fill="#2cbcb8" transform="rotate(-100.83 90.49 102.11)"/>
<ellipse cx="90.87" cy="99.1" rx="10.96" ry="1.3" fill="#2cbcb8" transform="rotate(-95.94 90.87 99.1)"/>
<ellipse cx="92.07" cy="101.29" rx="8.71" ry="1.3" fill="#3cc890" transform="rotate(-89.56 92.07 101.29)"/>
<ellipse cx="93.54" cy="98.74" rx="11.36" ry="1.3" fill="#18a8d0" transform="rotate(-82.23 93.54 98.74)"/>
<ellipse cx="93.59" cy="105.18" rx="5.08" ry="1.3" fill="#3cc890" transform="rotate(-71.77 93.59 105.18)"/>
<ellipse cx="97.59" cy="98.39" rx="12.88" ry="1.3" fill="#2cbcb8" transform="rotate(-64.28 97.59 98.39)"/>
<ellipse cx="94.65" cy="105.15" rx="5.53" ry="1.3" fill="#1288d8" transform="rotate(-61.31 94.65 105.15)"/>
<ellipse cx="99.75" cy="99.65" rx="12.93" ry="1.3" fill="#20b0c8" transform="rotate(-53.17 99.75 99.65)"/>
<ellipse cx="99.02" cy="102.57" rx="10.22" ry="1.3" fill="#2cbcb8" transform="rotate(-46.62 99.02 102.57)"/>
<ellipse cx="100.87" cy="102.29" rx="11.75" ry="1.3" fill="#3cc890" transform="rotate(-41 100.87 102.29)"/>
<ellipse cx="101.99" cy="103.43" rx="11.96" ry="1.3" fill="#1474d0" transform="rotate(-33.33 101.99 103.43)"/>
<ellipse cx="102.84" cy="104.89" rx="11.98" ry="1.3" fill="#0a5ccc" transform="rotate(-25.22 102.84 104.89)"/>
<ellipse cx="100.96" cy="106.53" rx="9.61" ry="1.3" fill="#3cc890" transform="rotate(-21.2 100.96 106.53)"/>
<ellipse cx="103.85" cy="108.1" rx="12.01" ry="1.3" fill="#20b0c8" transform="rotate(-9.12 103.85 108.1)"/>
<ellipse cx="102.39" cy="109.44" rx="10.41" ry="1.3" fill="#3cc890" transform="rotate(-3.1 102.39 109.44)"/>
<ellipse cx="77.31" cy="116.87" rx="15.47" ry="2.2" fill="#20b0c8" transform="rotate(-198.35 77.31 116.87)"/>
<ellipse cx="77.83" cy="115.02" rx="14.49" ry="2.2" fill="#20b0c8" transform="rotate(-192.03 77.83 115.02)"/>
<ellipse cx="75.68" cy="114.15" rx="16.46" ry="2.2" fill="#3cc890" transform="rotate(-187.51 75.68 114.15)"/>
<ellipse cx="75.89" cy="111.69" rx="16.12" ry="2.2" fill="#1288d8" transform="rotate(-178.89 75.89 111.69)"/>
<ellipse cx="81.86" cy="110.92" rx="10.2" ry="2.2" fill="#18a8d0" transform="rotate(-173.94 81.86 110.92)"/>
<ellipse cx="82.77" cy="109.57" rx="9.54" ry="2.2" fill="#3cc890" transform="rotate(-165.26 82.77 109.57)"/>
<ellipse cx="76.38" cy="105.32" rx="16.99" ry="2.2" fill="#2cbcb8" transform="rotate(-156.84 76.38 105.32)"/>
<ellipse cx="82.03" cy="106.84" rx="11.23" ry="2.2" fill="#20b0c8" transform="rotate(-152.66 82.03 106.84)"/>
<ellipse cx="40" cy="116" rx="17" ry="7.2" fill="url(#lobeO)" transform="rotate(-4 40 116)"/>
<ellipse cx="66" cy="113" rx="16" ry="5" fill="#58c048" transform="rotate(-6 66 113)"/>
<ellipse cx="74" cy="125" rx="12" ry="7" fill="url(#lobeO)" transform="rotate(-25 74 125)"/>
<ellipse cx="108" cy="128" rx="7.5" ry="13" fill="url(#lobeD)" transform="rotate(-15 108 128)"/>
<ellipse cx="100.72" cy="110.56" rx="6.68" ry="1.3" fill="#1288d8" transform="rotate(-31.03 100.72 110.56)"/>
<ellipse cx="100.7" cy="111.5" rx="6.23" ry="1.3" fill="#0a5ccc" transform="rotate(-23.72 100.7 111.5)"/>
<ellipse cx="104.5" cy="111.58" rx="9.8" ry="1.3" fill="#18a8d0" transform="rotate(-14.3 104.5 111.58)"/>
<ellipse cx="101.62" cy="113.05" rx="6.68" ry="1.3" fill="#1288d8" transform="rotate(-8.2 101.62 113.05)"/>
<ellipse cx="103.79" cy="113.72" rx="8.8" ry="1.3" fill="#20b0c8" transform="rotate(-1.82 103.79 113.72)"/>
<ellipse cx="103.81" cy="115.49" rx="8.94" ry="1.3" fill="#0a5ccc" transform="rotate(9.57 103.81 115.49)"/>
<ellipse cx="101.1" cy="116.04" rx="6.43" ry="1.3" fill="#18a8d0" transform="rotate(18.49 101.1 116.04)"/>
<ellipse cx="100.63" cy="116.54" rx="6.17" ry="1.3" fill="#3cc890" transform="rotate(24.27 100.63 116.54)"/>
<ellipse cx="100.91" cy="117.76" rx="7.01" ry="1.3" fill="#1288d8" transform="rotate(32.43 100.91 117.76)"/>
<ellipse cx="102.08" cy="119.68" rx="9.07" ry="1.3" fill="#2cbcb8" transform="rotate(38.73 102.08 119.68)"/>
</g></svg>
<svg x="198.4" y="0" width="198.6" height="205" viewBox="198.4 0 198.6 205" overflow="hidden">
<g transform="matrix(0.963 0 0 1.03 -3.76 -1.26)">
<ellipse cx="295" cy="108.5" rx="38" ry="78" fill="none" stroke="#e01010" stroke-width="1.4" transform="rotate(6 295 108.5)"/>
<ellipse cx="302.2" cy="114.4" rx="86.8" ry="22" fill="none" stroke="#18c418" stroke-width="1.2"/>
<polygon points="228,18.5 379.5,43 377,195.2 230.1,166.9" fill="#d8d600"/>
<polyline points="228,18.5 228.5,80 230.1,166.9" fill="none" stroke="#2030d0" stroke-width="0.8"/>
<path d="M 303.1 31 A 38 78 6 0 0 286.9 186" fill="none" stroke="#e01010" stroke-width="1.4"/>
<circle cx="302.9" cy="106" r="75" fill="none" stroke="#2424c0" stroke-width="1.3"/>
<path d="M 215.4 114.4 A 86.8 22 0 0 0 389 114.4" fill="none" stroke="#18c418" stroke-width="1.2"/>
<line x1="302.3" y1="108" x2="302.3" y2="11" stroke="#18c018" stroke-width="1.3"/>
<polygon points="302.3,6 299.5,13.5 305.1,13.5" fill="#18c018"/>
<line x1="302.3" y1="107" x2="396" y2="124" stroke="#e82020" stroke-width="1.6"/>
<polygon points="403,125.5 394,120.5 393.2,127.5" fill="#e82020"/>
<line x1="262" y1="133" x2="248" y2="141" stroke="#2030e0" stroke-width="1.3"/>
<polygon points="244,143 248.5,137.5 251,141.5" fill="#2030e0"/>
<line x1="252" y1="139" x2="268" y2="141" stroke="#808090" stroke-width="1.2"/>
<text x="268" y="143.5" font-family="Liberation Mono, monospace" font-size="5.6" font-weight="bold" fill="#1a1a1a">Theta</text>
<text x="389.5" y="97" font-family="Liberation Serif, serif" font-size="6.5" font-weight="bold" fill="#1a1a1a">Phi</text>
<text x="397" y="128" font-family="Liberation Serif, serif" font-size="6" fill="#1a1a1a">x</text>
<path d="M 385 121 Q 387 110 386 100" fill="none" stroke="#909090" stroke-width="1.2"/>
<ellipse cx="297.36" cy="104.39" rx="5.33" ry="1.6" fill="#1288d8" transform="rotate(-150.6 297.36 104.39)"/>
<ellipse cx="296.97" cy="103.21" rx="6.3" ry="1.6" fill="#1474d0" transform="rotate(-142.98 296.97 103.21)"/>
<ellipse cx="296.72" cy="102.32" rx="7.05" ry="1.6" fill="#18a8d0" transform="rotate(-138.43 296.72 102.32)"/>
<ellipse cx="295.19" cy="99.46" rx="10.16" ry="1.6" fill="#1288d8" transform="rotate(-132.09 295.19 99.46)"/>
<ellipse cx="297.27" cy="99.2" rx="9.12" ry="1.6" fill="#18a8d0" transform="rotate(-121.25 297.27 99.2)"/>
<ellipse cx="298.26" cy="99.08" rx="8.76" ry="1.6" fill="#1288d8" transform="rotate(-115.31 298.26 99.08)"/>
<ellipse cx="299.08" cy="99.26" rx="8.28" ry="1.6" fill="#18a8d0" transform="rotate(-110.7 299.08 99.26)"/>
<ellipse cx="300.5" cy="100.36" rx="6.81" ry="1.6" fill="#18a8d0" transform="rotate(-102.74 300.5 100.36)"/>
<ellipse cx="301.18" cy="99.43" rx="7.61" ry="1.6" fill="#2cbcb8" transform="rotate(-96.17 301.18 99.43)"/>
<ellipse cx="302.85" cy="97.53" rx="9.51" ry="1.6" fill="#1288d8" transform="rotate(-84.85 302.85 97.53)"/>
<ellipse cx="303.25" cy="96.11" rx="10.96" ry="1.6" fill="#1474d0" transform="rotate(-83.47 303.25 96.11)"/>
<ellipse cx="304.41" cy="99.76" rx="7.63" ry="1.6" fill="#0a5ccc" transform="rotate(-71.57 304.41 99.76)"/>
<ellipse cx="305.42" cy="98.39" rx="9.26" ry="1.6" fill="#0a5ccc" transform="rotate(-68.31 305.42 98.39)"/>
<ellipse cx="306.09" cy="100.37" rx="7.79" ry="1.6" fill="#3cc890" transform="rotate(-58.36 306.09 100.37)"/>
<ellipse cx="308.06" cy="105.09" rx="6.35" ry="1.3" fill="#2cbcb8" transform="rotate(-17.47 308.06 105.09)"/>
<ellipse cx="311.79" cy="104.92" rx="10" ry="1.3" fill="#20b0c8" transform="rotate(-11.98 311.79 104.92)"/>
<ellipse cx="308.79" cy="106" rx="6.86" ry="1.3" fill="#1474d0" transform="rotate(-8.39 308.79 106)"/>
<ellipse cx="311.81" cy="106.69" rx="9.81" ry="1.3" fill="#0a5ccc" transform="rotate(-1.8 311.81 106.69)"/>
<ellipse cx="309.59" cy="107.39" rx="7.6" ry="1.3" fill="#1474d0" transform="rotate(2.97 309.59 107.39)"/>
<ellipse cx="308.49" cy="107.57" rx="6.52" ry="1.3" fill="#3cc890" transform="rotate(5 308.49 107.57)"/>
<ellipse cx="309.78" cy="109.01" rx="8.03" ry="1.3" fill="#1474d0" transform="rotate(14.52 309.78 109.01)"/>
<ellipse cx="310.49" cy="109.37" rx="8.82" ry="1.3" fill="#2cbcb8" transform="rotate(15.62 310.49 109.37)"/>
<ellipse cx="307.63" cy="109.19" rx="6.04" ry="1.3" fill="#18a8d0" transform="rotate(21.29 307.63 109.19)"/>
<ellipse cx="311.57" cy="111.96" rx="10.78" ry="1.3" fill="#0a5ccc" transform="rotate(27.39 311.57 111.96)"/>
<ellipse cx="310.26" cy="113.32" rx="10.4" ry="1.3" fill="#1474d0" transform="rotate(37.43 310.26 113.32)"/>
<ellipse cx="310.19" cy="113.38" rx="10.38" ry="1.3" fill="#3cc890" transform="rotate(37.95 310.19 113.38)"/>
<ellipse cx="293.53" cy="123.92" rx="12.17" ry="1.5" fill="#1288d8" transform="rotate(101.69 293.53 123.92)"/>
<ellipse cx="294.21" cy="119.04" rx="7.26" ry="1.5" fill="#1288d8" transform="rotate(104.24 294.21 119.04)"/>
<ellipse cx="291.03" cy="124.65" rx="13.59" ry="1.5" fill="#20b0c8" transform="rotate(111.47 291.03 124.65)"/>
<ellipse cx="291.34" cy="121.5" rx="10.58" ry="1.5" fill="#1288d8" transform="rotate(116.15 291.34 121.5)"/>
<ellipse cx="291.34" cy="121.63" rx="10.69" ry="1.5" fill="#0a5ccc" transform="rotate(115.81 291.34 121.63)"/>
<ellipse cx="288.89" cy="123.5" rx="13.52" ry="1.5" fill="#1288d8" transform="rotate(121.73 288.89 123.5)"/>
<ellipse cx="289.66" cy="120.2" rx="10.37" ry="1.5" fill="#1288d8" transform="rotate(127.73 289.66 120.2)"/>
<ellipse cx="287.15" cy="122.74" rx="13.92" ry="1.5" fill="#2cbcb8" transform="rotate(129.48 287.15 122.74)"/>
<ellipse cx="287.23" cy="120.17" rx="11.99" ry="1.5" fill="#3cc890" transform="rotate(137.03 287.23 120.17)"/>
<ellipse cx="285.07" cy="120.68" rx="13.96" ry="1.5" fill="#2cbcb8" transform="rotate(141.52 285.07 120.68)"/>
<ellipse cx="286.02" cy="118.49" rx="11.9" ry="1.5" fill="#0a5ccc" transform="rotate(146.98 286.02 118.49)"/>
<ellipse cx="286.84" cy="117.56" rx="10.72" ry="1.5" fill="#0a5ccc" transform="rotate(148.73 286.84 117.56)"/>
<ellipse cx="276" cy="124" rx="18" ry="10.5" fill="url(#lobeR)" transform="rotate(-32 276 124)"/>
<ellipse cx="289" cy="113" rx="13" ry="4.5" fill="#38c070" transform="rotate(-30 289 113)"/>
</g></svg>
</g>
<g transform="translate(1077.6 42.2)">
<rect x="0" y="0" width="199.2" height="205.3" fill="url(#simbg)"/>
<rect x="199.2" y="0" width="204.6" height="205.3" fill="url(#simbg)"/>
<line x1="199.2" y1="0" x2="199.2" y2="205.3" stroke="#000" stroke-opacity="0.07" stroke-width="1"/>
<svg x="0" y="0" width="199.2" height="205.3" viewBox="0 0 199.2 205.3" overflow="hidden">
<g transform="matrix(1.045 0 0 0.998 -7.71 -0.26)">
<ellipse cx="87" cy="112" rx="35" ry="82" fill="none" stroke="#e01010" stroke-width="1.4" transform="rotate(5 87 112)"/>
<ellipse cx="92.4" cy="118.6" rx="84.4" ry="22" fill="none" stroke="#18c418" stroke-width="1.2"/>
<polygon points="20.2,18.5 168.6,44.1 166.4,203.6 21.6,174.2" fill="url(#mtex)"/>
<polygon points="20.2,18.5 35.04,21.06 35.14,36.67 20.34,34.07" fill="url(#mtexB)"/>
<polygon points="49.88,23.62 64.72,26.18 64.75,41.86 49.95,39.27" fill="url(#mtexY)"/>
<polygon points="64.72,26.18 79.56,28.74 79.56,44.46 64.75,41.86" fill="url(#mtexB)"/>
<polygon points="94.4,31.3 109.24,33.86 109.16,49.66 94.36,47.06" fill="url(#mtexB)"/>
<polygon points="124.08,36.42 138.92,38.98 138.77,54.85 123.97,52.26" fill="url(#mtexY)"/>
<polygon points="138.92,38.98 153.76,41.54 153.58,57.45 138.77,54.85" fill="url(#mtexB)"/>
<polygon points="49.95,39.27 64.75,41.86 64.78,57.55 50.02,54.91" fill="url(#mtexB)"/>
<polygon points="64.75,41.86 79.56,44.46 79.55,60.18 64.78,57.55" fill="url(#mtexB)"/>
<polygon points="79.56,44.46 94.36,47.06 94.32,62.82 79.55,60.18" fill="url(#mtexB)"/>
<polygon points="123.97,52.26 138.77,54.85 138.62,70.73 123.86,68.09" fill="url(#mtexB)"/>
<polygon points="138.77,54.85 153.58,57.45 153.39,73.36 138.62,70.73" fill="url(#mtexB)"/>
<polygon points="153.58,57.45 168.38,60.05 168.16,76 153.39,73.36" fill="url(#mtexB)"/>
<polygon points="20.48,49.64 35.25,52.28 35.35,67.88 20.62,65.21" fill="url(#mtexB)"/>
<polygon points="35.25,52.28 50.02,54.91 50.08,70.56 35.35,67.88" fill="url(#mtexB)"/>
<polygon points="50.02,54.91 64.78,57.55 64.82,73.23 50.08,70.56" fill="url(#mtexB)"/>
<polygon points="64.78,57.55 79.55,60.18 79.55,75.91 64.82,73.23" fill="url(#mtexY)"/>
<polygon points="79.55,60.18 94.32,62.82 94.28,78.58 79.55,75.91" fill="url(#mtexB)"/>
<polygon points="94.32,62.82 109.09,65.46 109.01,81.25 94.28,78.58" fill="url(#mtexB)"/>
<polygon points="109.09,65.46 123.86,68.09 123.74,83.93 109.01,81.25" fill="url(#mtexB)"/>
<polygon points="123.86,68.09 138.62,70.73 138.48,86.6 123.74,83.93" fill="url(#mtexB)"/>
<polygon points="138.62,70.73 153.39,73.36 153.21,89.28 138.48,86.6" fill="url(#mtexY)"/>
<polygon points="153.39,73.36 168.16,76 167.94,91.95 153.21,89.28" fill="url(#mtexB)"/>
<polygon points="35.35,67.88 50.08,70.56 50.15,86.2 35.46,83.49" fill="url(#mtexY)"/>
<polygon points="50.08,70.56 64.82,73.23 64.85,88.92 50.15,86.2" fill="url(#mtexY)"/>
<polygon points="64.82,73.23 79.55,75.91 79.54,91.63 64.85,88.92" fill="url(#mtexB)"/>
<polygon points="79.55,75.91 94.28,78.58 94.24,94.34 79.54,91.63" fill="url(#mtexY)"/>
<polygon points="109.01,81.25 123.74,83.93 123.63,99.76 108.94,97.05" fill="url(#mtexY)"/>
<polygon points="123.74,83.93 138.48,86.6 138.33,102.48 123.63,99.76" fill="url(#mtexY)"/>
<polygon points="138.48,86.6 153.21,89.28 153.02,105.19 138.33,102.48" fill="url(#mtexB)"/>
<polygon points="153.21,89.28 167.94,91.95 167.72,107.9 153.02,105.19" fill="url(#mtexY)"/>
<polygon points="20.76,80.78 35.46,83.49 35.56,99.1 20.9,96.35" fill="url(#mtexB)"/>
<polygon points="35.46,83.49 50.15,86.2 50.22,101.85 35.56,99.1" fill="url(#mtexB)"/>
<polygon points="79.54,91.63 94.24,94.34 94.2,110.1 79.54,107.35" fill="url(#mtexY)"/>
<polygon points="94.24,94.34 108.94,97.05 108.86,112.85 94.2,110.1" fill="url(#mtexB)"/>
<polygon points="108.94,97.05 123.63,99.76 123.52,115.6 108.86,112.85" fill="url(#mtexB)"/>
<polygon points="153.02,105.19 167.72,107.9 167.5,123.85 152.84,121.1" fill="url(#mtexY)"/>
<polygon points="35.56,99.1 50.22,101.85 50.29,117.5 35.66,114.71" fill="url(#mtexB)"/>
<polygon points="50.22,101.85 64.88,104.6 64.91,120.28 50.29,117.5" fill="url(#mtexY)"/>
<polygon points="64.88,104.6 79.54,107.35 79.54,123.07 64.91,120.28" fill="url(#mtexB)"/>
<polygon points="108.86,112.85 123.52,115.6 123.41,131.44 108.78,128.65" fill="url(#mtexB)"/>
<polygon points="123.52,115.6 138.18,118.35 138.03,134.22 123.41,131.44" fill="url(#mtexY)"/>
<polygon points="138.18,118.35 152.84,121.1 152.66,137.01 138.03,134.22" fill="url(#mtexB)"/>
<polygon points="21.04,111.92 35.66,114.71 35.77,130.32 21.18,127.49" fill="url(#mtexB)"/>
<polygon points="50.29,117.5 64.91,120.28 64.94,135.97 50.36,133.14" fill="url(#mtexB)"/>
<polygon points="79.54,123.07 94.16,125.86 94.12,141.62 79.53,138.79" fill="url(#mtexB)"/>
<polygon points="94.16,125.86 108.78,128.65 108.71,144.45 94.12,141.62" fill="url(#mtexB)"/>
<polygon points="123.41,131.44 138.03,134.22 137.88,150.1 123.3,147.27" fill="url(#mtexB)"/>
<polygon points="152.66,137.01 167.28,139.8 167.06,155.75 152.47,152.92" fill="url(#mtexB)"/>
<polygon points="35.77,130.32 50.36,133.14 50.42,148.79 35.87,145.92" fill="url(#mtexB)"/>
<polygon points="64.94,135.97 79.53,138.79 79.53,154.52 64.98,151.65" fill="url(#mtexY)"/>
<polygon points="79.53,138.79 94.12,141.62 94.08,157.38 79.53,154.52" fill="url(#mtexB)"/>
<polygon points="108.71,144.45 123.3,147.27 123.18,163.11 108.63,160.24" fill="url(#mtexB)"/>
<polygon points="137.88,150.1 152.47,152.92 152.29,168.84 137.74,165.97" fill="url(#mtexY)"/>
<polygon points="152.47,152.92 167.06,155.75 166.84,171.7 152.29,168.84" fill="url(#mtexB)"/>
<polygon points="21.32,143.06 35.87,145.92 35.98,161.53 21.46,158.63" fill="url(#mtexB)"/>
<polygon points="35.87,145.92 50.42,148.79 50.49,164.43 35.98,161.53" fill="url(#mtexY)"/>
<polygon points="50.42,148.79 64.98,151.65 65.01,167.34 50.49,164.43" fill="url(#mtexY)"/>
<polygon points="64.98,151.65 79.53,154.52 79.52,170.24 65.01,167.34" fill="url(#mtexB)"/>
<polygon points="79.53,154.52 94.08,157.38 94.04,173.14 79.52,170.24" fill="url(#mtexY)"/>
<polygon points="94.08,157.38 108.63,160.24 108.56,176.04 94.04,173.14" fill="url(#mtexB)"/>
<polygon points="108.63,160.24 123.18,163.11 123.07,178.94 108.56,176.04" fill="url(#mtexY)"/>
<polygon points="123.18,163.11 137.74,165.97 137.59,181.85 123.07,178.94" fill="url(#mtexY)"/>
<polygon points="137.74,165.97 152.29,168.84 152.1,184.75 137.59,181.85" fill="url(#mtexB)"/>
<polygon points="152.29,168.84 166.84,171.7 166.62,187.65 152.1,184.75" fill="url(#mtexY)"/>
<polygon points="21.46,158.63 35.98,161.53 36.08,177.14 21.6,174.2" fill="url(#mtexB)"/>
<polygon points="35.98,161.53 50.49,164.43 50.56,180.08 36.08,177.14" fill="url(#mtexB)"/>
<polygon points="79.52,170.24 94.04,173.14 94,188.9 79.52,185.96" fill="url(#mtexY)"/>
<polygon points="94.04,173.14 108.56,176.04 108.48,191.84 94,188.9" fill="url(#mtexB)"/>
<polygon points="108.56,176.04 123.07,178.94 122.96,194.78 108.48,191.84" fill="url(#mtexB)"/>
<polygon points="152.1,184.75 166.62,187.65 166.4,203.6 151.92,200.66" fill="url(#mtexY)"/>
<polyline points="20.2,18.5 168.6,44.1 166.4,203.6" fill="none" stroke="#30d0e0" stroke-width="0.8"/>
<path d="M 94.2 30.3 A 35 82 5 0 0 79.8 193.7" fill="none" stroke="#e01010" stroke-width="1.4"/>
<path d="M 8 118.6 A 84.4 22 0 0 0 176.8 118.6" fill="none" stroke="#18c418" stroke-width="1.2"/>
<line x1="92.4" y1="111" x2="92.4" y2="12" stroke="#18c018" stroke-width="1.3"/>
<polygon points="92.4,7 89.6,14.5 95.2,14.5" fill="#18c018"/>
<line x1="166" y1="126.5" x2="184" y2="128.8" stroke="#e82020" stroke-width="1.6"/>
<polygon points="191,130 182,125.5 181.5,132" fill="#e82020"/>
<line x1="68" y1="128" x2="40" y2="143" stroke="#2030e0" stroke-width="1.3"/>
<polygon points="36,146 40.5,139.5 43.5,144" fill="#2030e0"/>
<line x1="48" y1="140" x2="72" y2="142" stroke="#808090" stroke-width="1.2"/>
<text x="73" y="145" font-family="Liberation Mono, monospace" font-size="5.6" font-weight="bold" fill="#1a1a1a">Theta</text>
<text x="178.5" y="105" font-family="Liberation Serif, serif" font-size="6.5" font-weight="bold" fill="#1a1a1a">Phi</text>
<text x="195" y="132.5" font-family="Liberation Serif, serif" font-size="6" fill="#1a1a1a">x</text>
<path d="M 174 124 Q 176 112 175 102" fill="none" stroke="#909090" stroke-width="1.2"/>
<ellipse cx="82.08" cy="109.5" rx="9.93" ry="1.3" fill="#1288d8" transform="rotate(-177.11 82.08 109.5)"/>
<ellipse cx="81.94" cy="107.84" rx="10.29" ry="1.3" fill="#1288d8" transform="rotate(-167.87 81.94 107.84)"/>
<ellipse cx="82.54" cy="106.94" rx="9.94" ry="1.3" fill="#3cc890" transform="rotate(-162.09 82.54 106.94)"/>
<ellipse cx="82.29" cy="105.29" rx="10.79" ry="1.3" fill="#3cc890" transform="rotate(-154.11 82.29 105.29)"/>
<ellipse cx="84.31" cy="105.02" rx="9.16" ry="1.3" fill="#1288d8" transform="rotate(-147.08 84.31 105.02)"/>
<ellipse cx="85.9" cy="104.8" rx="8.02" ry="1.3" fill="#1288d8" transform="rotate(-139.59 85.9 104.8)"/>
<ellipse cx="88.04" cy="105.92" rx="5.68" ry="1.3" fill="#0a5ccc" transform="rotate(-134.14 88.04 105.92)"/>
<ellipse cx="86.16" cy="102.04" rx="9.87" ry="1.3" fill="#2cbcb8" transform="rotate(-126.26 86.16 102.04)"/>
<ellipse cx="86.47" cy="99.69" rx="11.7" ry="1.3" fill="#1474d0" transform="rotate(-118.21 86.47 99.69)"/>
<ellipse cx="89.53" cy="104.35" rx="6.16" ry="1.3" fill="#3cc890" transform="rotate(-113.62 89.53 104.35)"/>
<ellipse cx="89.34" cy="101.58" rx="8.83" ry="1.3" fill="#0a5ccc" transform="rotate(-107.53 89.34 101.58)"/>
<ellipse cx="90.83" cy="104.38" rx="5.74" ry="1.3" fill="#18a8d0" transform="rotate(-101.72 90.83 104.38)"/>
<ellipse cx="91.53" cy="103.46" rx="6.56" ry="1.3" fill="#2cbcb8" transform="rotate(-94.13 91.53 103.46)"/>
<ellipse cx="92.72" cy="101.58" rx="8.45" ry="1.3" fill="#2cbcb8" transform="rotate(-85.11 92.72 101.58)"/>
<ellipse cx="93.59" cy="98.67" rx="11.44" ry="1.3" fill="#18a8d0" transform="rotate(-82 93.59 98.67)"/>
<ellipse cx="94.55" cy="100.63" rx="9.71" ry="1.3" fill="#1474d0" transform="rotate(-74.76 94.55 100.63)"/>
<ellipse cx="94.31" cy="104.44" rx="6.02" ry="1.3" fill="#3cc890" transform="rotate(-67.43 94.31 104.44)"/>
<ellipse cx="97.21" cy="101.06" rx="10.35" ry="1.3" fill="#18a8d0" transform="rotate(-59.76 97.21 101.06)"/>
<ellipse cx="98.41" cy="102.18" rx="10.11" ry="1.3" fill="#2cbcb8" transform="rotate(-50.65 98.41 102.18)"/>
<ellipse cx="98.57" cy="103.43" rx="9.29" ry="1.3" fill="#20b0c8" transform="rotate(-44.97 98.57 103.43)"/>
<ellipse cx="101.38" cy="102.6" rx="11.95" ry="1.3" fill="#1474d0" transform="rotate(-38.25 101.38 102.6)"/>
<ellipse cx="97.77" cy="106.12" rx="6.95" ry="1.3" fill="#1288d8" transform="rotate(-33.96 97.77 106.12)"/>
<ellipse cx="103.18" cy="104.83" rx="12.32" ry="1.3" fill="#3cc890" transform="rotate(-24.8 103.18 104.83)"/>
<ellipse cx="102.95" cy="105.88" rx="11.7" ry="1.3" fill="#18a8d0" transform="rotate(-20.63 102.95 105.88)"/>
<ellipse cx="100.02" cy="108.35" rx="8.19" ry="1.3" fill="#2cbcb8" transform="rotate(-11.63 100.02 108.35)"/>
<ellipse cx="98.37" cy="109.74" rx="6.38" ry="1.3" fill="#0a5ccc" transform="rotate(-2.34 98.37 109.74)"/>
<ellipse cx="79.48" cy="116.15" rx="13.18" ry="2.2" fill="#2cbcb8" transform="rotate(-198.33 79.48 116.15)"/>
<ellipse cx="79.92" cy="114.46" rx="12.32" ry="2.2" fill="#1288d8" transform="rotate(-191.5 79.92 114.46)"/>
<ellipse cx="79.52" cy="113.63" rx="12.58" ry="2.2" fill="#1474d0" transform="rotate(-187.44 79.52 113.63)"/>
<ellipse cx="78.88" cy="112.14" rx="13.13" ry="2.2" fill="#1288d8" transform="rotate(-180.63 78.88 112.14)"/>
<ellipse cx="79.24" cy="110.56" rx="12.84" ry="2.2" fill="#1288d8" transform="rotate(-173.57 79.24 110.56)"/>
<ellipse cx="81.34" cy="109.58" rx="10.93" ry="2.2" fill="#18a8d0" transform="rotate(-167.22 81.34 109.58)"/>
<ellipse cx="82.7" cy="108.47" rx="9.95" ry="2.2" fill="#1288d8" transform="rotate(-159.24 82.7 108.47)"/>
<ellipse cx="82.03" cy="106.92" rx="11.19" ry="2.2" fill="#18a8d0" transform="rotate(-152.97 82.03 106.92)"/>
<ellipse cx="40" cy="116" rx="17" ry="7.2" fill="url(#lobeO)" transform="rotate(-4 40 116)"/>
<ellipse cx="66" cy="113" rx="16" ry="5" fill="#58c048" transform="rotate(-6 66 113)"/>
<ellipse cx="76" cy="122" rx="11" ry="5" fill="#8ccc3c" transform="rotate(-25 76 122)"/>
<ellipse cx="108" cy="128" rx="7.5" ry="13" fill="url(#lobeD)" transform="rotate(-15 108 128)"/>
<ellipse cx="101.57" cy="110.41" rx="7.49" ry="1.3" fill="#1288d8" transform="rotate(-28.63 101.57 110.41)"/>
<ellipse cx="103.41" cy="110.49" rx="9.12" ry="1.3" fill="#20b0c8" transform="rotate(-22.64 103.41 110.49)"/>
<ellipse cx="101.05" cy="112.6" rx="6.21" ry="1.3" fill="#2cbcb8" transform="rotate(-12.98 101.05 112.6)"/>
<ellipse cx="104.58" cy="112.56" rx="9.69" ry="1.3" fill="#20b0c8" transform="rotate(-8.54 104.58 112.56)"/>
<ellipse cx="105.06" cy="114.16" rx="10.06" ry="1.3" fill="#1474d0" transform="rotate(0.89 105.06 114.16)"/>
<ellipse cx="101.45" cy="115.18" rx="6.55" ry="1.3" fill="#1288d8" transform="rotate(10.33 101.45 115.18)"/>
<ellipse cx="103.78" cy="117.03" rx="9.29" ry="1.3" fill="#1474d0" transform="rotate(19.03 103.78 117.03)"/>
<ellipse cx="104.67" cy="118.82" rx="10.8" ry="1.3" fill="#1474d0" transform="rotate(26.47 104.67 118.82)"/>
<ellipse cx="99.28" cy="116.68" rx="5.05" ry="1.3" fill="#18a8d0" transform="rotate(32.04 99.28 116.68)"/>
<ellipse cx="99.72" cy="117.88" rx="6.11" ry="1.3" fill="#2cbcb8" transform="rotate(39.44 99.72 117.88)"/>
</g></svg>
<svg x="199.2" y="0" width="204.6" height="205.3" viewBox="199.2 0 204.6 205.3" overflow="hidden">
<g transform="matrix(0.996 0 0 1.04 -8.39 -1.04)">
<ellipse cx="295" cy="108.5" rx="38" ry="78" fill="none" stroke="#e01010" stroke-width="1.4" transform="rotate(6 295 108.5)"/>
<ellipse cx="302.2" cy="114.4" rx="86.8" ry="22" fill="none" stroke="#18c418" stroke-width="1.2"/>
<polygon points="228,18.5 379.5,43 377,195.2 230.1,166.9" fill="#d8d600"/>
<polyline points="228,18.5 228.5,80 230.1,166.9" fill="none" stroke="#2030d0" stroke-width="0.8"/>
<path d="M 303.1 31 A 38 78 6 0 0 286.9 186" fill="none" stroke="#e01010" stroke-width="1.4"/>
<circle cx="302.9" cy="106" r="75" fill="none" stroke="#2424c0" stroke-width="1.3"/>
<path d="M 215.4 114.4 A 86.8 22 0 0 0 389 114.4" fill="none" stroke="#18c418" stroke-width="1.2"/>
<line x1="302.3" y1="108" x2="302.3" y2="11" stroke="#18c018" stroke-width="1.3"/>
<polygon points="302.3,6 299.5,13.5 305.1,13.5" fill="#18c018"/>
<line x1="302.3" y1="107" x2="396" y2="124" stroke="#e82020" stroke-width="1.6"/>
<polygon points="403,125.5 394,120.5 393.2,127.5" fill="#e82020"/>
<line x1="262" y1="133" x2="248" y2="141" stroke="#2030e0" stroke-width="1.3"/>
<polygon points="244,143 248.5,137.5 251,141.5" fill="#2030e0"/>
<line x1="252" y1="139" x2="268" y2="141" stroke="#808090" stroke-width="1.2"/>
<text x="268" y="143.5" font-family="Liberation Mono, monospace" font-size="5.6" font-weight="bold" fill="#1a1a1a">Theta</text>
<text x="389.5" y="97" font-family="Liberation Serif, serif" font-size="6.5" font-weight="bold" fill="#1a1a1a">Phi</text>
<text x="397" y="128" font-family="Liberation Serif, serif" font-size="6" fill="#1a1a1a">x</text>
<path d="M 385 121 Q 387 110 386 100" fill="none" stroke="#909090" stroke-width="1.2"/>
<ellipse cx="292.99" cy="101.54" rx="10.53" ry="1.6" fill="#1474d0" transform="rotate(-148.79 292.99 101.54)"/>
<ellipse cx="297.54" cy="103.89" rx="5.44" ry="1.6" fill="#0a5ccc" transform="rotate(-145.12 297.54 103.89)"/>
<ellipse cx="294.75" cy="100.08" rx="10.02" ry="1.6" fill="#18a8d0" transform="rotate(-136.31 294.75 100.08)"/>
<ellipse cx="298.31" cy="102.29" rx="5.98" ry="1.6" fill="#1288d8" transform="rotate(-128.09 298.31 102.29)"/>
<ellipse cx="299.31" cy="102.36" rx="5.36" ry="1.6" fill="#1288d8" transform="rotate(-120.11 299.31 102.36)"/>
<ellipse cx="297.66" cy="97.42" rx="10.52" ry="1.6" fill="#1288d8" transform="rotate(-114.37 297.66 97.42)"/>
<ellipse cx="299.23" cy="98.85" rx="8.61" ry="1.6" fill="#2cbcb8" transform="rotate(-108.75 299.23 98.85)"/>
<ellipse cx="301.05" cy="101.64" rx="5.45" ry="1.6" fill="#20b0c8" transform="rotate(-100.09 301.05 101.64)"/>
<ellipse cx="301.44" cy="101.22" rx="5.81" ry="1.6" fill="#20b0c8" transform="rotate(-95.57 301.44 101.22)"/>
<ellipse cx="302.23" cy="100.51" rx="6.49" ry="1.6" fill="#1288d8" transform="rotate(-87.97 302.23 100.51)"/>
<ellipse cx="303.2" cy="100.55" rx="6.56" ry="1.6" fill="#18a8d0" transform="rotate(-79.48 303.2 100.55)"/>
<ellipse cx="303.88" cy="101.4" rx="5.91" ry="1.6" fill="#2cbcb8" transform="rotate(-71.44 303.88 101.4)"/>
<ellipse cx="304.71" cy="101.45" rx="6.18" ry="1.6" fill="#0a5ccc" transform="rotate(-64.01 304.71 101.45)"/>
<ellipse cx="306.99" cy="98.88" rx="9.53" ry="1.6" fill="#2cbcb8" transform="rotate(-58.45 306.99 98.88)"/>
<ellipse cx="310.33" cy="103.49" rx="9.04" ry="1.3" fill="#3cc890" transform="rotate(-22.81 310.33 103.49)"/>
<ellipse cx="308.76" cy="105.3" rx="6.97" ry="1.3" fill="#18a8d0" transform="rotate(-14.07 308.76 105.3)"/>
<ellipse cx="313.23" cy="104.93" rx="11.42" ry="1.3" fill="#20b0c8" transform="rotate(-10.45 313.23 104.93)"/>
<ellipse cx="313.74" cy="106.5" rx="11.76" ry="1.3" fill="#3cc890" transform="rotate(-2.43 313.74 106.5)"/>
<ellipse cx="312.72" cy="107.8" rx="10.75" ry="1.3" fill="#1474d0" transform="rotate(4.25 312.72 107.8)"/>
<ellipse cx="312.47" cy="107.9" rx="10.51" ry="1.3" fill="#1474d0" transform="rotate(4.9 312.47 107.9)"/>
<ellipse cx="313.19" cy="109.72" rx="11.52" ry="1.3" fill="#20b0c8" transform="rotate(13.67 313.19 109.72)"/>
<ellipse cx="308.8" cy="108.9" rx="7.06" ry="1.3" fill="#2cbcb8" transform="rotate(15.59 308.8 108.9)"/>
<ellipse cx="312.48" cy="111.24" rx="11.3" ry="1.3" fill="#1288d8" transform="rotate(22 312.48 111.24)"/>
<ellipse cx="311.02" cy="112.39" rx="10.5" ry="1.3" fill="#18a8d0" transform="rotate(30.86 311.02 112.39)"/>
<ellipse cx="311.81" cy="113.54" rx="11.79" ry="1.3" fill="#1288d8" transform="rotate(33.7 311.81 113.54)"/>
<ellipse cx="309.88" cy="113.21" rx="10.03" ry="1.3" fill="#2cbcb8" transform="rotate(38.25 309.88 113.21)"/>
<ellipse cx="294.42" cy="123.73" rx="11.83" ry="1.5" fill="#18a8d0" transform="rotate(97.65 294.42 123.73)"/>
<ellipse cx="293.47" cy="122.45" rx="10.76" ry="1.5" fill="#1474d0" transform="rotate(103.63 293.47 122.45)"/>
<ellipse cx="293.89" cy="119.07" rx="7.38" ry="1.5" fill="#1474d0" transform="rotate(106.62 293.89 119.07)"/>
<ellipse cx="292.64" cy="119.79" rx="8.48" ry="1.5" fill="#2cbcb8" transform="rotate(113.37 292.64 119.79)"/>
<ellipse cx="292.67" cy="119.04" rx="7.79" ry="1.5" fill="#18a8d0" transform="rotate(115.34 292.67 119.04)"/>
<ellipse cx="288.5" cy="123.59" rx="13.8" ry="1.5" fill="#0a5ccc" transform="rotate(122.9 288.5 123.59)"/>
<ellipse cx="287.19" cy="122.57" rx="13.76" ry="1.5" fill="#1474d0" transform="rotate(129.82 287.19 122.57)"/>
<ellipse cx="289.36" cy="119.59" rx="10.08" ry="1.5" fill="#2cbcb8" transform="rotate(131.16 289.36 119.59)"/>
<ellipse cx="285.73" cy="121.33" rx="13.87" ry="1.5" fill="#1474d0" transform="rotate(137.75 285.73 121.33)"/>
<ellipse cx="288.98" cy="118.04" rx="9.26" ry="1.5" fill="#20b0c8" transform="rotate(139.29 288.98 118.04)"/>
<ellipse cx="284.9" cy="120.03" rx="13.7" ry="1.5" fill="#1474d0" transform="rotate(144.11 284.9 120.03)"/>
<ellipse cx="284.27" cy="118.48" rx="13.4" ry="1.5" fill="#20b0c8" transform="rotate(151.09 284.27 118.48)"/>
<ellipse cx="276" cy="124" rx="18" ry="10.5" fill="url(#lobeR)" transform="rotate(-32 276 124)"/>
<ellipse cx="289" cy="113" rx="13" ry="4.5" fill="#38c070" transform="rotate(-30 289 113)"/>
</g></svg>
</g>
<g transform="translate(15 286.8)">
<rect x="0" y="0" width="201.8" height="200" fill="url(#simbg)"/>
<rect x="201.8" y="0" width="201.9" height="200" fill="url(#simbg)"/>
<line x1="201.8" y1="0" x2="201.8" y2="200" stroke="#000" stroke-opacity="0.07" stroke-width="1"/>
<svg x="0" y="0" width="201.8" height="200" viewBox="0 0 201.8 200" overflow="hidden">
<g transform="matrix(1.096 0 0 0.973 -7.84 -1.3)">
<ellipse cx="87" cy="112" rx="35" ry="82" fill="none" stroke="#e01010" stroke-width="1.4" transform="rotate(5 87 112)"/>
<ellipse cx="92.4" cy="118.6" rx="84.4" ry="22" fill="none" stroke="#18c418" stroke-width="1.2"/>
<polygon points="20.2,18.5 168.6,44.1 166.4,203.6 21.6,174.2" fill="url(#mtex)"/>
<polygon points="20.2,18.5 35.04,21.06 35.14,36.67 20.34,34.07" fill="url(#mtexB)"/>
<polygon points="49.88,23.62 64.72,26.18 64.75,41.86 49.95,39.27" fill="url(#mtexY)"/>
<polygon points="64.72,26.18 79.56,28.74 79.56,44.46 64.75,41.86" fill="url(#mtexB)"/>
<polygon points="94.4,31.3 109.24,33.86 109.16,49.66 94.36,47.06" fill="url(#mtexB)"/>
<polygon points="124.08,36.42 138.92,38.98 138.77,54.85 123.97,52.26" fill="url(#mtexY)"/>
<polygon points="138.92,38.98 153.76,41.54 153.58,57.45 138.77,54.85" fill="url(#mtexB)"/>
<polygon points="49.95,39.27 64.75,41.86 64.78,57.55 50.02,54.91" fill="url(#mtexB)"/>
<polygon points="64.75,41.86 79.56,44.46 79.55,60.18 64.78,57.55" fill="url(#mtexB)"/>
<polygon points="79.56,44.46 94.36,47.06 94.32,62.82 79.55,60.18" fill="url(#mtexB)"/>
<polygon points="123.97,52.26 138.77,54.85 138.62,70.73 123.86,68.09" fill="url(#mtexB)"/>
<polygon points="138.77,54.85 153.58,57.45 153.39,73.36 138.62,70.73" fill="url(#mtexB)"/>
<polygon points="153.58,57.45 168.38,60.05 168.16,76 153.39,73.36" fill="url(#mtexB)"/>
<polygon points="20.48,49.64 35.25,52.28 35.35,67.88 20.62,65.21" fill="url(#mtexB)"/>
<polygon points="35.25,52.28 50.02,54.91 50.08,70.56 35.35,67.88" fill="url(#mtexB)"/>
<polygon points="50.02,54.91 64.78,57.55 64.82,73.23 50.08,70.56" fill="url(#mtexB)"/>
<polygon points="64.78,57.55 79.55,60.18 79.55,75.91 64.82,73.23" fill="url(#mtexY)"/>
<polygon points="79.55,60.18 94.32,62.82 94.28,78.58 79.55,75.91" fill="url(#mtexB)"/>
<polygon points="94.32,62.82 109.09,65.46 109.01,81.25 94.28,78.58" fill="url(#mtexB)"/>
<polygon points="109.09,65.46 123.86,68.09 123.74,83.93 109.01,81.25" fill="url(#mtexB)"/>
<polygon points="123.86,68.09 138.62,70.73 138.48,86.6 123.74,83.93" fill="url(#mtexB)"/>
<polygon points="138.62,70.73 153.39,73.36 153.21,89.28 138.48,86.6" fill="url(#mtexY)"/>
<polygon points="153.39,73.36 168.16,76 167.94,91.95 153.21,89.28" fill="url(#mtexB)"/>
<polygon points="35.35,67.88 50.08,70.56 50.15,86.2 35.46,83.49" fill="url(#mtexY)"/>
<polygon points="50.08,70.56 64.82,73.23 64.85,88.92 50.15,86.2" fill="url(#mtexY)"/>
<polygon points="64.82,73.23 79.55,75.91 79.54,91.63 64.85,88.92" fill="url(#mtexB)"/>
<polygon points="79.55,75.91 94.28,78.58 94.24,94.34 79.54,91.63" fill="url(#mtexY)"/>
<polygon points="109.01,81.25 123.74,83.93 123.63,99.76 108.94,97.05" fill="url(#mtexY)"/>
<polygon points="123.74,83.93 138.48,86.6 138.33,102.48 123.63,99.76" fill="url(#mtexY)"/>
<polygon points="138.48,86.6 153.21,89.28 153.02,105.19 138.33,102.48" fill="url(#mtexB)"/>
<polygon points="153.21,89.28 167.94,91.95 167.72,107.9 153.02,105.19" fill="url(#mtexY)"/>
<polygon points="20.76,80.78 35.46,83.49 35.56,99.1 20.9,96.35" fill="url(#mtexB)"/>
<polygon points="35.46,83.49 50.15,86.2 50.22,101.85 35.56,99.1" fill="url(#mtexB)"/>
<polygon points="79.54,91.63 94.24,94.34 94.2,110.1 79.54,107.35" fill="url(#mtexY)"/>
<polygon points="94.24,94.34 108.94,97.05 108.86,112.85 94.2,110.1" fill="url(#mtexB)"/>
<polygon points="108.94,97.05 123.63,99.76 123.52,115.6 108.86,112.85" fill="url(#mtexB)"/>
<polygon points="153.02,105.19 167.72,107.9 167.5,123.85 152.84,121.1" fill="url(#mtexY)"/>
<polygon points="35.56,99.1 50.22,101.85 50.29,117.5 35.66,114.71" fill="url(#mtexB)"/>
<polygon points="50.22,101.85 64.88,104.6 64.91,120.28 50.29,117.5" fill="url(#mtexY)"/>
<polygon points="64.88,104.6 79.54,107.35 79.54,123.07 64.91,120.28" fill="url(#mtexB)"/>
<polygon points="108.86,112.85 123.52,115.6 123.41,131.44 108.78,128.65" fill="url(#mtexB)"/>
<polygon points="123.52,115.6 138.18,118.35 138.03,134.22 123.41,131.44" fill="url(#mtexY)"/>
<polygon points="138.18,118.35 152.84,121.1 152.66,137.01 138.03,134.22" fill="url(#mtexB)"/>
<polygon points="21.04,111.92 35.66,114.71 35.77,130.32 21.18,127.49" fill="url(#mtexB)"/>
<polygon points="50.29,117.5 64.91,120.28 64.94,135.97 50.36,133.14" fill="url(#mtexB)"/>
<polygon points="79.54,123.07 94.16,125.86 94.12,141.62 79.53,138.79" fill="url(#mtexB)"/>
<polygon points="94.16,125.86 108.78,128.65 108.71,144.45 94.12,141.62" fill="url(#mtexB)"/>
<polygon points="123.41,131.44 138.03,134.22 137.88,150.1 123.3,147.27" fill="url(#mtexB)"/>
<polygon points="152.66,137.01 167.28,139.8 167.06,155.75 152.47,152.92" fill="url(#mtexB)"/>
<polygon points="35.77,130.32 50.36,133.14 50.42,148.79 35.87,145.92" fill="url(#mtexB)"/>
<polygon points="64.94,135.97 79.53,138.79 79.53,154.52 64.98,151.65" fill="url(#mtexY)"/>
<polygon points="79.53,138.79 94.12,141.62 94.08,157.38 79.53,154.52" fill="url(#mtexB)"/>
<polygon points="108.71,144.45 123.3,147.27 123.18,163.11 108.63,160.24" fill="url(#mtexB)"/>
<polygon points="137.88,150.1 152.47,152.92 152.29,168.84 137.74,165.97" fill="url(#mtexY)"/>
<polygon points="152.47,152.92 167.06,155.75 166.84,171.7 152.29,168.84" fill="url(#mtexB)"/>
<polygon points="21.32,143.06 35.87,145.92 35.98,161.53 21.46,158.63" fill="url(#mtexB)"/>
<polygon points="35.87,145.92 50.42,148.79 50.49,164.43 35.98,161.53" fill="url(#mtexY)"/>
<polygon points="50.42,148.79 64.98,151.65 65.01,167.34 50.49,164.43" fill="url(#mtexY)"/>
<polygon points="64.98,151.65 79.53,154.52 79.52,170.24 65.01,167.34" fill="url(#mtexB)"/>
<polygon points="79.53,154.52 94.08,157.38 94.04,173.14 79.52,170.24" fill="url(#mtexY)"/>
<polygon points="94.08,157.38 108.63,160.24 108.56,176.04 94.04,173.14" fill="url(#mtexB)"/>
<polygon points="108.63,160.24 123.18,163.11 123.07,178.94 108.56,176.04" fill="url(#mtexY)"/>
<polygon points="123.18,163.11 137.74,165.97 137.59,181.85 123.07,178.94" fill="url(#mtexY)"/>
<polygon points="137.74,165.97 152.29,168.84 152.1,184.75 137.59,181.85" fill="url(#mtexB)"/>
<polygon points="152.29,168.84 166.84,171.7 166.62,187.65 152.1,184.75" fill="url(#mtexY)"/>
<polygon points="21.46,158.63 35.98,161.53 36.08,177.14 21.6,174.2" fill="url(#mtexB)"/>
<polygon points="35.98,161.53 50.49,164.43 50.56,180.08 36.08,177.14" fill="url(#mtexB)"/>
<polygon points="79.52,170.24 94.04,173.14 94,188.9 79.52,185.96" fill="url(#mtexY)"/>
<polygon points="94.04,173.14 108.56,176.04 108.48,191.84 94,188.9" fill="url(#mtexB)"/>
<polygon points="108.56,176.04 123.07,178.94 122.96,194.78 108.48,191.84" fill="url(#mtexB)"/>
<polygon points="152.1,184.75 166.62,187.65 166.4,203.6 151.92,200.66" fill="url(#mtexY)"/>
<polyline points="20.2,18.5 168.6,44.1 166.4,203.6" fill="none" stroke="#30d0e0" stroke-width="0.8"/>
<path d="M 94.2 30.3 A 35 82 5 0 0 79.8 193.7" fill="none" stroke="#e01010" stroke-width="1.4"/>
<path d="M 8 118.6 A 84.4 22 0 0 0 176.8 118.6" fill="none" stroke="#18c418" stroke-width="1.2"/>
<line x1="92.4" y1="111" x2="92.4" y2="12" stroke="#18c018" stroke-width="1.3"/>
<polygon points="92.4,7 89.6,14.5 95.2,14.5" fill="#18c018"/>
<line x1="166" y1="126.5" x2="184" y2="128.8" stroke="#e82020" stroke-width="1.6"/>
<polygon points="191,130 182,125.5 181.5,132" fill="#e82020"/>
<line x1="68" y1="128" x2="40" y2="143" stroke="#2030e0" stroke-width="1.3"/>
<polygon points="36,146 40.5,139.5 43.5,144" fill="#2030e0"/>
<line x1="48" y1="140" x2="72" y2="142" stroke="#808090" stroke-width="1.2"/>
<text x="73" y="145" font-family="Liberation Mono, monospace" font-size="5.6" font-weight="bold" fill="#1a1a1a">Theta</text>
<text x="178.5" y="105" font-family="Liberation Serif, serif" font-size="6.5" font-weight="bold" fill="#1a1a1a">Phi</text>
<text x="195" y="132.5" font-family="Liberation Serif, serif" font-size="6" fill="#1a1a1a">x</text>
<path d="M 174 124 Q 176 112 175 102" fill="none" stroke="#909090" stroke-width="1.2"/>
<ellipse cx="83.43" cy="108.81" rx="8.65" ry="1.3" fill="#1474d0" transform="rotate(-172.13 83.43 108.81)"/>
<ellipse cx="80.75" cy="107.41" rx="11.55" ry="1.3" fill="#1474d0" transform="rotate(-167.02 80.75 107.41)"/>
<ellipse cx="82.56" cy="107.28" rx="9.82" ry="1.3" fill="#0a5ccc" transform="rotate(-163.93 82.56 107.28)"/>
<ellipse cx="84.21" cy="106.15" rx="8.69" ry="1.3" fill="#18a8d0" transform="rotate(-153.67 84.21 106.15)"/>
<ellipse cx="87.09" cy="106.64" rx="5.95" ry="1.3" fill="#0a5ccc" transform="rotate(-145.57 87.09 106.64)"/>
<ellipse cx="84.26" cy="104.21" rx="9.67" ry="1.3" fill="#0a5ccc" transform="rotate(-143.21 84.26 104.21)"/>
<ellipse cx="82.73" cy="101.33" rx="12.69" ry="1.3" fill="#1474d0" transform="rotate(-136.94 82.73 101.33)"/>
<ellipse cx="86.14" cy="102.92" rx="9.19" ry="1.3" fill="#1288d8" transform="rotate(-129.63 86.14 102.92)"/>
<ellipse cx="86.21" cy="99.62" rx="11.89" ry="1.3" fill="#3cc890" transform="rotate(-119.12 86.21 99.62)"/>
<ellipse cx="88.82" cy="102.31" rx="8.32" ry="1.3" fill="#20b0c8" transform="rotate(-112.46 88.82 102.31)"/>
<ellipse cx="88.91" cy="99.26" rx="11.17" ry="1.3" fill="#3cc890" transform="rotate(-106.06 88.91 99.26)"/>
<ellipse cx="90.39" cy="102.21" rx="7.95" ry="1.3" fill="#3cc890" transform="rotate(-101.71 90.39 102.21)"/>
<ellipse cx="91.06" cy="99.49" rx="10.55" ry="1.3" fill="#3cc890" transform="rotate(-95.09 91.06 99.49)"/>
<ellipse cx="92.4" cy="103" rx="7.01" ry="1.3" fill="#18a8d0" transform="rotate(-86.75 92.4 103)"/>
<ellipse cx="94.42" cy="99.21" rx="11.06" ry="1.3" fill="#3cc890" transform="rotate(-77.36 94.42 99.21)"/>
<ellipse cx="96.02" cy="98.53" rx="12.16" ry="1.3" fill="#3cc890" transform="rotate(-70.68 96.02 98.53)"/>
<ellipse cx="95.44" cy="101.48" rx="9.19" ry="1.3" fill="#0a5ccc" transform="rotate(-68.04 95.44 101.48)"/>
<ellipse cx="95.13" cy="104.69" rx="6.16" ry="1.3" fill="#2cbcb8" transform="rotate(-59.51 95.13 104.69)"/>
<ellipse cx="99.52" cy="100.19" rx="12.36" ry="1.3" fill="#2cbcb8" transform="rotate(-52.52 99.52 100.19)"/>
<ellipse cx="96.2" cy="106.04" rx="5.77" ry="1.3" fill="#20b0c8" transform="rotate(-43.28 96.2 106.04)"/>
<ellipse cx="101.11" cy="102.87" rx="11.57" ry="1.3" fill="#18a8d0" transform="rotate(-38.05 101.11 102.87)"/>
<ellipse cx="102.96" cy="103.07" rx="12.97" ry="1.3" fill="#3cc890" transform="rotate(-32.29 102.96 103.07)"/>
<ellipse cx="97.27" cy="107.67" rx="5.76" ry="1.3" fill="#2cbcb8" transform="rotate(-23.8 97.27 107.67)"/>
<ellipse cx="100.84" cy="106.81" rx="9.4" ry="1.3" fill="#3cc890" transform="rotate(-19.85 100.84 106.81)"/>
<ellipse cx="99.9" cy="108.45" rx="8.05" ry="1.3" fill="#1474d0" transform="rotate(-11.08 99.9 108.45)"/>
<ellipse cx="102.95" cy="108.98" rx="11" ry="1.3" fill="#0a5ccc" transform="rotate(-5.33 102.95 108.98)"/>
<ellipse cx="77.87" cy="117.69" rx="15.23" ry="2.2" fill="#18a8d0" transform="rotate(-201.94 77.87 117.69)"/>
<ellipse cx="76.37" cy="115.32" rx="15.98" ry="2.2" fill="#3cc890" transform="rotate(-191.98 76.37 115.32)"/>
<ellipse cx="81.19" cy="113.38" rx="10.9" ry="2.2" fill="#1288d8" transform="rotate(-187.28 81.19 113.38)"/>
<ellipse cx="79.91" cy="112.04" rx="12.09" ry="2.2" fill="#3cc890" transform="rotate(-180.2 79.91 112.04)"/>
<ellipse cx="77.72" cy="110.48" rx="14.36" ry="2.2" fill="#0a5ccc" transform="rotate(-173.92 77.72 110.48)"/>
<ellipse cx="80.78" cy="108.87" rx="11.65" ry="2.2" fill="#3cc890" transform="rotate(-164.42 80.78 108.87)"/>
<ellipse cx="83.32" cy="108.71" rx="9.28" ry="2.2" fill="#18a8d0" transform="rotate(-159.27 83.32 108.71)"/>
<ellipse cx="78.48" cy="103.84" rx="15.79" ry="2.2" fill="#3cc890" transform="rotate(-148.89 78.48 103.84)"/>
<ellipse cx="40" cy="116" rx="17" ry="7.2" fill="url(#lobeO)" transform="rotate(-4 40 116)"/>
<ellipse cx="66" cy="113" rx="16" ry="5" fill="#58c048" transform="rotate(-6 66 113)"/>
<ellipse cx="76" cy="122" rx="11" ry="5" fill="#8ccc3c" transform="rotate(-25 76 122)"/>
<ellipse cx="122" cy="121" rx="19" ry="5" fill="#7cc840" transform="rotate(12 122 121)"/>
<ellipse cx="108" cy="128" rx="7.5" ry="13" fill="url(#lobeD)" transform="rotate(-15 108 128)"/>
<ellipse cx="101.53" cy="109.85" rx="7.74" ry="1.3" fill="#2cbcb8" transform="rotate(-32.43 101.53 109.85)"/>
<ellipse cx="100.73" cy="111.95" rx="6.09" ry="1.3" fill="#18a8d0" transform="rotate(-19.7 100.73 111.95)"/>
<ellipse cx="103.32" cy="111.89" rx="8.58" ry="1.3" fill="#1474d0" transform="rotate(-14.27 103.32 111.89)"/>
<ellipse cx="105.17" cy="112.93" rx="10.23" ry="1.3" fill="#1474d0" transform="rotate(-5.98 105.17 112.93)"/>
<ellipse cx="102.07" cy="114.27" rx="7.07" ry="1.3" fill="#18a8d0" transform="rotate(2.2 102.07 114.27)"/>
<ellipse cx="104.35" cy="115.61" rx="9.49" ry="1.3" fill="#20b0c8" transform="rotate(9.77 104.35 115.61)"/>
<ellipse cx="104.99" cy="116.46" rx="10.29" ry="1.3" fill="#1474d0" transform="rotate(13.84 104.99 116.46)"/>
<ellipse cx="101.72" cy="117.25" rx="7.46" ry="1.3" fill="#20b0c8" transform="rotate(25.85 101.72 117.25)"/>
<ellipse cx="103.76" cy="119.25" rx="10.22" ry="1.3" fill="#18a8d0" transform="rotate(30.96 103.76 119.25)"/>
<ellipse cx="102.98" cy="120.84" rx="10.51" ry="1.3" fill="#3cc890" transform="rotate(40.58 102.98 120.84)"/>
</g></svg>
<svg x="201.8" y="0" width="201.9" height="200" viewBox="201.8 0 201.9 200" overflow="hidden">
<g transform="matrix(0.947 0 0 1.0136 5.78 -1.45)">
<ellipse cx="295" cy="108.5" rx="38" ry="78" fill="none" stroke="#e01010" stroke-width="1.4" transform="rotate(6 295 108.5)"/>
<ellipse cx="302.2" cy="114.4" rx="86.8" ry="22" fill="none" stroke="#18c418" stroke-width="1.2"/>
<polygon points="228,18.5 379.5,43 377,195.2 230.1,166.9" fill="#d8d600"/>
<polyline points="228,18.5 228.5,80 230.1,166.9" fill="none" stroke="#2030d0" stroke-width="0.8"/>
<path d="M 303.1 31 A 38 78 6 0 0 286.9 186" fill="none" stroke="#e01010" stroke-width="1.4"/>
<circle cx="302.9" cy="106" r="75" fill="none" stroke="#2424c0" stroke-width="1.3"/>
<path d="M 215.4 114.4 A 86.8 22 0 0 0 389 114.4" fill="none" stroke="#18c418" stroke-width="1.2"/>
<line x1="302.3" y1="108" x2="302.3" y2="11" stroke="#18c018" stroke-width="1.3"/>
<polygon points="302.3,6 299.5,13.5 305.1,13.5" fill="#18c018"/>
<line x1="302.3" y1="107" x2="396" y2="124" stroke="#e82020" stroke-width="1.6"/>
<polygon points="403,125.5 394,120.5 393.2,127.5" fill="#e82020"/>
<line x1="262" y1="133" x2="248" y2="141" stroke="#2030e0" stroke-width="1.3"/>
<polygon points="244,143 248.5,137.5 251,141.5" fill="#2030e0"/>
<line x1="252" y1="139" x2="268" y2="141" stroke="#808090" stroke-width="1.2"/>
<text x="268" y="143.5" font-family="Liberation Mono, monospace" font-size="5.6" font-weight="bold" fill="#1a1a1a">Theta</text>
<text x="389.5" y="97" font-family="Liberation Serif, serif" font-size="6.5" font-weight="bold" fill="#1a1a1a">Phi</text>
<text x="397" y="128" font-family="Liberation Serif, serif" font-size="6" fill="#1a1a1a">x</text>
<path d="M 385 121 Q 387 110 386 100" fill="none" stroke="#909090" stroke-width="1.2"/>
<ellipse cx="296.3" cy="103.85" rx="6.51" ry="1.6" fill="#3cc890" transform="rotate(-151.09 296.3 103.85)"/>
<ellipse cx="293.84" cy="101.47" rx="9.85" ry="1.6" fill="#2cbcb8" transform="rotate(-145.87 293.84 101.47)"/>
<ellipse cx="294.84" cy="100.36" rx="9.77" ry="1.6" fill="#2cbcb8" transform="rotate(-137.18 294.84 100.36)"/>
<ellipse cx="296.88" cy="101.18" rx="7.75" ry="1.6" fill="#2cbcb8" transform="rotate(-131.38 296.88 101.18)"/>
<ellipse cx="297.47" cy="99.13" rx="9.09" ry="1.6" fill="#3cc890" transform="rotate(-119.94 297.47 99.13)"/>
<ellipse cx="298.05" cy="98.3" rx="9.56" ry="1.6" fill="#3cc890" transform="rotate(-114.42 298.05 98.3)"/>
<ellipse cx="299.11" cy="99.62" rx="7.93" ry="1.6" fill="#0a5ccc" transform="rotate(-111.41 299.11 99.62)"/>
<ellipse cx="301.02" cy="101.17" rx="5.91" ry="1.6" fill="#3cc890" transform="rotate(-99.55 301.02 101.17)"/>
<ellipse cx="301.23" cy="97.97" rx="9.06" ry="1.6" fill="#20b0c8" transform="rotate(-94.85 301.23 97.97)"/>
<ellipse cx="302" cy="97.94" rx="9.06" ry="1.6" fill="#1474d0" transform="rotate(-89.99 302 97.94)"/>
<ellipse cx="304.05" cy="97.53" rx="9.69" ry="1.6" fill="#3cc890" transform="rotate(-77.77 304.05 97.53)"/>
<ellipse cx="304.45" cy="98.66" rx="8.69" ry="1.6" fill="#1288d8" transform="rotate(-73.59 304.45 98.66)"/>
<ellipse cx="305.54" cy="99.63" rx="8.18" ry="1.6" fill="#20b0c8" transform="rotate(-64.32 305.54 99.63)"/>
<ellipse cx="304.79" cy="102.51" rx="5.29" ry="1.6" fill="#20b0c8" transform="rotate(-58.19 304.79 102.51)"/>
<ellipse cx="311.57" cy="103.59" rx="10.16" ry="1.3" fill="#18a8d0" transform="rotate(-19.63 311.57 103.59)"/>
<ellipse cx="312.25" cy="104.27" rx="10.61" ry="1.3" fill="#20b0c8" transform="rotate(-14.94 312.25 104.27)"/>
<ellipse cx="310.15" cy="105.52" rx="8.28" ry="1.3" fill="#20b0c8" transform="rotate(-10.33 310.15 105.52)"/>
<ellipse cx="309.15" cy="106.53" rx="7.17" ry="1.3" fill="#1474d0" transform="rotate(-3.78 309.15 106.53)"/>
<ellipse cx="311.44" cy="107.72" rx="9.47" ry="1.3" fill="#2cbcb8" transform="rotate(4.39 311.44 107.72)"/>
<ellipse cx="313.74" cy="108.78" rx="11.88" ry="1.3" fill="#18a8d0" transform="rotate(8.63 313.74 108.78)"/>
<ellipse cx="309.6" cy="108.39" rx="7.72" ry="1.3" fill="#3cc890" transform="rotate(10.37 309.6 108.39)"/>
<ellipse cx="310.47" cy="110.28" rx="9.08" ry="1.3" fill="#0a5ccc" transform="rotate(21.16 310.47 110.28)"/>
<ellipse cx="309.86" cy="110.87" rx="8.77" ry="1.3" fill="#20b0c8" transform="rotate(26.22 309.86 110.87)"/>
<ellipse cx="310.59" cy="112.03" rx="9.96" ry="1.3" fill="#2cbcb8" transform="rotate(30.35 310.59 112.03)"/>
<ellipse cx="311.15" cy="112.64" rx="10.75" ry="1.3" fill="#3cc890" transform="rotate(31.68 311.15 112.64)"/>
<ellipse cx="306.94" cy="111.39" rx="6.61" ry="1.3" fill="#1288d8" transform="rotate(41.63 306.94 111.39)"/>
<ellipse cx="294.52" cy="121.38" rx="9.5" ry="1.5" fill="#2cbcb8" transform="rotate(98.95 294.52 121.38)"/>
<ellipse cx="294.16" cy="119.66" rx="7.87" ry="1.5" fill="#0a5ccc" transform="rotate(103.52 294.16 119.66)"/>
<ellipse cx="292.86" cy="120.64" rx="9.2" ry="1.5" fill="#2cbcb8" transform="rotate(109.99 292.86 120.64)"/>
<ellipse cx="290.18" cy="124.15" rx="13.48" ry="1.5" fill="#1288d8" transform="rotate(115.6 290.18 124.15)"/>
<ellipse cx="291.68" cy="120.19" rx="9.27" ry="1.5" fill="#18a8d0" transform="rotate(117.82 291.68 120.19)"/>
<ellipse cx="291.01" cy="119.4" rx="8.92" ry="1.5" fill="#3cc890" transform="rotate(124.02 291.01 119.4)"/>
<ellipse cx="291.36" cy="118.23" rx="7.77" ry="1.5" fill="#1474d0" transform="rotate(126.67 291.36 118.23)"/>
<ellipse cx="290.29" cy="117.75" rx="8.1" ry="1.5" fill="#1474d0" transform="rotate(134.78 290.29 117.75)"/>
<ellipse cx="287.6" cy="120.04" rx="11.63" ry="1.5" fill="#3cc890" transform="rotate(136.26 287.6 120.04)"/>
<ellipse cx="288.27" cy="118.53" rx="10.12" ry="1.5" fill="#3cc890" transform="rotate(139.83 288.27 118.53)"/>
<ellipse cx="289.99" cy="116.01" rx="7.22" ry="1.5" fill="#1288d8" transform="rotate(146.3 289.99 116.01)"/>
<ellipse cx="288.97" cy="116.07" rx="8.12" ry="1.5" fill="#0a5ccc" transform="rotate(149.94 288.97 116.07)"/>
<ellipse cx="276" cy="124" rx="18" ry="10.5" fill="url(#lobeR)" transform="rotate(-32 276 124)"/>
<ellipse cx="289" cy="113" rx="13" ry="4.5" fill="#38c070" transform="rotate(-30 289 113)"/>
</g></svg>
</g>
<g transform="translate(538.7 284.2)">
<rect x="0" y="0" width="203.3" height="200.7" fill="url(#simbg)"/>
<rect x="203.3" y="0" width="198.5" height="200.7" fill="url(#simbg)"/>
<line x1="203.3" y1="0" x2="203.3" y2="200.7" stroke="#000" stroke-opacity="0.07" stroke-width="1"/>
<svg x="0" y="0" width="203.3" height="200.7" viewBox="0 0 203.3 200.7" overflow="hidden">
<g transform="matrix(1.058 0 0 0.972 -5.27 0.62)">
<ellipse cx="87" cy="112" rx="35" ry="82" fill="none" stroke="#e01010" stroke-width="1.4" transform="rotate(5 87 112)"/>
<ellipse cx="92.4" cy="118.6" rx="84.4" ry="22" fill="none" stroke="#18c418" stroke-width="1.2"/>
<polygon points="20.2,18.5 168.6,44.1 166.4,203.6 21.6,174.2" fill="url(#mtex)"/>
<polygon points="20.2,18.5 35.04,21.06 35.14,36.67 20.34,34.07" fill="url(#mtexB)"/>
<polygon points="49.88,23.62 64.72,26.18 64.75,41.86 49.95,39.27" fill="url(#mtexY)"/>
<polygon points="64.72,26.18 79.56,28.74 79.56,44.46 64.75,41.86" fill="url(#mtexB)"/>
<polygon points="94.4,31.3 109.24,33.86 109.16,49.66 94.36,47.06" fill="url(#mtexB)"/>
<polygon points="124.08,36.42 138.92,38.98 138.77,54.85 123.97,52.26" fill="url(#mtexY)"/>
<polygon points="138.92,38.98 153.76,41.54 153.58,57.45 138.77,54.85" fill="url(#mtexB)"/>
<polygon points="49.95,39.27 64.75,41.86 64.78,57.55 50.02,54.91" fill="url(#mtexB)"/>
<polygon points="64.75,41.86 79.56,44.46 79.55,60.18 64.78,57.55" fill="url(#mtexB)"/>
<polygon points="79.56,44.46 94.36,47.06 94.32,62.82 79.55,60.18" fill="url(#mtexB)"/>
<polygon points="123.97,52.26 138.77,54.85 138.62,70.73 123.86,68.09" fill="url(#mtexB)"/>
<polygon points="138.77,54.85 153.58,57.45 153.39,73.36 138.62,70.73" fill="url(#mtexB)"/>
<polygon points="153.58,57.45 168.38,60.05 168.16,76 153.39,73.36" fill="url(#mtexB)"/>
<polygon points="20.48,49.64 35.25,52.28 35.35,67.88 20.62,65.21" fill="url(#mtexB)"/>
<polygon points="35.25,52.28 50.02,54.91 50.08,70.56 35.35,67.88" fill="url(#mtexB)"/>
<polygon points="50.02,54.91 64.78,57.55 64.82,73.23 50.08,70.56" fill="url(#mtexB)"/>
<polygon points="64.78,57.55 79.55,60.18 79.55,75.91 64.82,73.23" fill="url(#mtexY)"/>
<polygon points="79.55,60.18 94.32,62.82 94.28,78.58 79.55,75.91" fill="url(#mtexB)"/>
<polygon points="94.32,62.82 109.09,65.46 109.01,81.25 94.28,78.58" fill="url(#mtexB)"/>
<polygon points="109.09,65.46 123.86,68.09 123.74,83.93 109.01,81.25" fill="url(#mtexB)"/>
<polygon points="123.86,68.09 138.62,70.73 138.48,86.6 123.74,83.93" fill="url(#mtexB)"/>
<polygon points="138.62,70.73 153.39,73.36 153.21,89.28 138.48,86.6" fill="url(#mtexY)"/>
<polygon points="153.39,73.36 168.16,76 167.94,91.95 153.21,89.28" fill="url(#mtexB)"/>
<polygon points="35.35,67.88 50.08,70.56 50.15,86.2 35.46,83.49" fill="url(#mtexY)"/>
<polygon points="50.08,70.56 64.82,73.23 64.85,88.92 50.15,86.2" fill="url(#mtexY)"/>
<polygon points="64.82,73.23 79.55,75.91 79.54,91.63 64.85,88.92" fill="url(#mtexB)"/>
<polygon points="79.55,75.91 94.28,78.58 94.24,94.34 79.54,91.63" fill="url(#mtexY)"/>
<polygon points="109.01,81.25 123.74,83.93 123.63,99.76 108.94,97.05" fill="url(#mtexY)"/>
<polygon points="123.74,83.93 138.48,86.6 138.33,102.48 123.63,99.76" fill="url(#mtexY)"/>
<polygon points="138.48,86.6 153.21,89.28 153.02,105.19 138.33,102.48" fill="url(#mtexB)"/>
<polygon points="153.21,89.28 167.94,91.95 167.72,107.9 153.02,105.19" fill="url(#mtexY)"/>
<polygon points="20.76,80.78 35.46,83.49 35.56,99.1 20.9,96.35" fill="url(#mtexB)"/>
<polygon points="35.46,83.49 50.15,86.2 50.22,101.85 35.56,99.1" fill="url(#mtexB)"/>
<polygon points="79.54,91.63 94.24,94.34 94.2,110.1 79.54,107.35" fill="url(#mtexY)"/>
<polygon points="94.24,94.34 108.94,97.05 108.86,112.85 94.2,110.1" fill="url(#mtexB)"/>
<polygon points="108.94,97.05 123.63,99.76 123.52,115.6 108.86,112.85" fill="url(#mtexB)"/>
<polygon points="153.02,105.19 167.72,107.9 167.5,123.85 152.84,121.1" fill="url(#mtexY)"/>
<polygon points="35.56,99.1 50.22,101.85 50.29,117.5 35.66,114.71" fill="url(#mtexB)"/>
<polygon points="50.22,101.85 64.88,104.6 64.91,120.28 50.29,117.5" fill="url(#mtexY)"/>
<polygon points="64.88,104.6 79.54,107.35 79.54,123.07 64.91,120.28" fill="url(#mtexB)"/>
<polygon points="108.86,112.85 123.52,115.6 123.41,131.44 108.78,128.65" fill="url(#mtexB)"/>
<polygon points="123.52,115.6 138.18,118.35 138.03,134.22 123.41,131.44" fill="url(#mtexY)"/>
<polygon points="138.18,118.35 152.84,121.1 152.66,137.01 138.03,134.22" fill="url(#mtexB)"/>
<polygon points="21.04,111.92 35.66,114.71 35.77,130.32 21.18,127.49" fill="url(#mtexB)"/>
<polygon points="50.29,117.5 64.91,120.28 64.94,135.97 50.36,133.14" fill="url(#mtexB)"/>
<polygon points="79.54,123.07 94.16,125.86 94.12,141.62 79.53,138.79" fill="url(#mtexB)"/>
<polygon points="94.16,125.86 108.78,128.65 108.71,144.45 94.12,141.62" fill="url(#mtexB)"/>
<polygon points="123.41,131.44 138.03,134.22 137.88,150.1 123.3,147.27" fill="url(#mtexB)"/>
<polygon points="152.66,137.01 167.28,139.8 167.06,155.75 152.47,152.92" fill="url(#mtexB)"/>
<polygon points="35.77,130.32 50.36,133.14 50.42,148.79 35.87,145.92" fill="url(#mtexB)"/>
<polygon points="64.94,135.97 79.53,138.79 79.53,154.52 64.98,151.65" fill="url(#mtexY)"/>
<polygon points="79.53,138.79 94.12,141.62 94.08,157.38 79.53,154.52" fill="url(#mtexB)"/>
<polygon points="108.71,144.45 123.3,147.27 123.18,163.11 108.63,160.24" fill="url(#mtexB)"/>
<polygon points="137.88,150.1 152.47,152.92 152.29,168.84 137.74,165.97" fill="url(#mtexY)"/>
<polygon points="152.47,152.92 167.06,155.75 166.84,171.7 152.29,168.84" fill="url(#mtexB)"/>
<polygon points="21.32,143.06 35.87,145.92 35.98,161.53 21.46,158.63" fill="url(#mtexB)"/>
<polygon points="35.87,145.92 50.42,148.79 50.49,164.43 35.98,161.53" fill="url(#mtexY)"/>
<polygon points="50.42,148.79 64.98,151.65 65.01,167.34 50.49,164.43" fill="url(#mtexY)"/>
<polygon points="64.98,151.65 79.53,154.52 79.52,170.24 65.01,167.34" fill="url(#mtexB)"/>
<polygon points="79.53,154.52 94.08,157.38 94.04,173.14 79.52,170.24" fill="url(#mtexY)"/>
<polygon points="94.08,157.38 108.63,160.24 108.56,176.04 94.04,173.14" fill="url(#mtexB)"/>
<polygon points="108.63,160.24 123.18,163.11 123.07,178.94 108.56,176.04" fill="url(#mtexY)"/>
<polygon points="123.18,163.11 137.74,165.97 137.59,181.85 123.07,178.94" fill="url(#mtexY)"/>
<polygon points="137.74,165.97 152.29,168.84 152.1,184.75 137.59,181.85" fill="url(#mtexB)"/>
<polygon points="152.29,168.84 166.84,171.7 166.62,187.65 152.1,184.75" fill="url(#mtexY)"/>
<polygon points="21.46,158.63 35.98,161.53 36.08,177.14 21.6,174.2" fill="url(#mtexB)"/>
<polygon points="35.98,161.53 50.49,164.43 50.56,180.08 36.08,177.14" fill="url(#mtexB)"/>
<polygon points="79.52,170.24 94.04,173.14 94,188.9 79.52,185.96" fill="url(#mtexY)"/>
<polygon points="94.04,173.14 108.56,176.04 108.48,191.84 94,188.9" fill="url(#mtexB)"/>
<polygon points="108.56,176.04 123.07,178.94 122.96,194.78 108.48,191.84" fill="url(#mtexB)"/>
<polygon points="152.1,184.75 166.62,187.65 166.4,203.6 151.92,200.66" fill="url(#mtexY)"/>
<polyline points="20.2,18.5 168.6,44.1 166.4,203.6" fill="none" stroke="#30d0e0" stroke-width="0.8"/>
<path d="M 94.2 30.3 A 35 82 5 0 0 79.8 193.7" fill="none" stroke="#e01010" stroke-width="1.4"/>
<path d="M 8 118.6 A 84.4 22 0 0 0 176.8 118.6" fill="none" stroke="#18c418" stroke-width="1.2"/>
<line x1="92.4" y1="111" x2="92.4" y2="12" stroke="#18c018" stroke-width="1.3"/>
<polygon points="92.4,7 89.6,14.5 95.2,14.5" fill="#18c018"/>
<line x1="166" y1="126.5" x2="184" y2="128.8" stroke="#e82020" stroke-width="1.6"/>
<polygon points="191,130 182,125.5 181.5,132" fill="#e82020"/>
<line x1="68" y1="128" x2="40" y2="143" stroke="#2030e0" stroke-width="1.3"/>
<polygon points="36,146 40.5,139.5 43.5,144" fill="#2030e0"/>
<line x1="48" y1="140" x2="72" y2="142" stroke="#808090" stroke-width="1.2"/>
<text x="73" y="145" font-family="Liberation Mono, monospace" font-size="5.6" font-weight="bold" fill="#1a1a1a">Theta</text>
<text x="178.5" y="105" font-family="Liberation Serif, serif" font-size="6.5" font-weight="bold" fill="#1a1a1a">Phi</text>
<text x="195" y="132.5" font-family="Liberation Serif, serif" font-size="6" fill="#1a1a1a">x</text>
<path d="M 174 124 Q 176 112 175 102" fill="none" stroke="#909090" stroke-width="1.2"/>
<ellipse cx="80.13" cy="108.38" rx="11.97" ry="1.3" fill="#1474d0" transform="rotate(-172.24 80.13 108.38)"/>
<ellipse cx="84.09" cy="108.11" rx="8.13" ry="1.3" fill="#0a5ccc" transform="rotate(-166.58 84.09 108.11)"/>
<ellipse cx="81.23" cy="106.1" rx="11.45" ry="1.3" fill="#0a5ccc" transform="rotate(-160.12 81.23 106.1)"/>
<ellipse cx="86.84" cy="107.27" rx="5.84" ry="1.3" fill="#1288d8" transform="rotate(-152.13 86.84 107.27)"/>
<ellipse cx="83.12" cy="104.89" rx="10.24" ry="1.3" fill="#18a8d0" transform="rotate(-150.09 83.12 104.89)"/>
<ellipse cx="87.69" cy="106.61" rx="5.49" ry="1.3" fill="#1288d8" transform="rotate(-141.79 87.69 106.61)"/>
<ellipse cx="86.38" cy="104.12" rx="8.13" ry="1.3" fill="#18a8d0" transform="rotate(-133.71 86.38 104.12)"/>
<ellipse cx="88.37" cy="104.76" rx="6.37" ry="1.3" fill="#18a8d0" transform="rotate(-124.72 88.37 104.76)"/>
<ellipse cx="87.48" cy="102.53" rx="8.73" ry="1.3" fill="#3cc890" transform="rotate(-121.14 87.48 102.53)"/>
<ellipse cx="86.57" cy="98.53" rx="12.69" ry="1.3" fill="#20b0c8" transform="rotate(-115.34 86.57 98.53)"/>
<ellipse cx="90.34" cy="104.44" rx="5.8" ry="1.3" fill="#3cc890" transform="rotate(-106.59 90.34 104.44)"/>
<ellipse cx="91.12" cy="104.07" rx="5.99" ry="1.3" fill="#1288d8" transform="rotate(-98.49 91.12 104.07)"/>
<ellipse cx="91.29" cy="101.71" rx="8.32" ry="1.3" fill="#0a5ccc" transform="rotate(-94.89 91.29 101.71)"/>
<ellipse cx="92.56" cy="97.08" rx="12.93" ry="1.3" fill="#1288d8" transform="rotate(-87.5 92.56 97.08)"/>
<ellipse cx="93.2" cy="104.37" rx="5.76" ry="1.3" fill="#1474d0" transform="rotate(-77.92 93.2 104.37)"/>
<ellipse cx="95.54" cy="99.12" rx="11.44" ry="1.3" fill="#3cc890" transform="rotate(-71.99 95.54 99.12)"/>
<ellipse cx="94.43" cy="104.45" rx="6.06" ry="1.3" fill="#1288d8" transform="rotate(-66.34 94.43 104.45)"/>
<ellipse cx="95.56" cy="104.64" rx="6.43" ry="1.3" fill="#3cc890" transform="rotate(-56.42 95.56 104.64)"/>
<ellipse cx="97.4" cy="102.42" rx="9.3" ry="1.3" fill="#0a5ccc" transform="rotate(-54.5 97.4 102.42)"/>
<ellipse cx="96.21" cy="105.34" rx="6.28" ry="1.3" fill="#3cc890" transform="rotate(-47.93 96.21 105.34)"/>
<ellipse cx="96.25" cy="106.51" rx="5.5" ry="1.3" fill="#0a5ccc" transform="rotate(-39.35 96.25 106.51)"/>
<ellipse cx="101.41" cy="103.38" rx="11.51" ry="1.3" fill="#1288d8" transform="rotate(-35.14 101.41 103.38)"/>
<ellipse cx="99.77" cy="105.93" rx="8.77" ry="1.3" fill="#3cc890" transform="rotate(-27.66 99.77 105.93)"/>
<ellipse cx="101.59" cy="107.01" rx="10.04" ry="1.3" fill="#3cc890" transform="rotate(-17.29 101.59 107.01)"/>
<ellipse cx="98.36" cy="108.66" rx="6.5" ry="1.3" fill="#2cbcb8" transform="rotate(-11.93 98.36 108.66)"/>
<ellipse cx="103.67" cy="108.74" rx="11.74" ry="1.3" fill="#1474d0" transform="rotate(-6.14 103.67 108.74)"/>
<ellipse cx="77.21" cy="118.23" rx="16.05" ry="2.2" fill="#1474d0" transform="rotate(-202.85 77.21 118.23)"/>
<ellipse cx="79.08" cy="114.47" rx="13.15" ry="2.2" fill="#3cc890" transform="rotate(-190.82 79.08 114.47)"/>
<ellipse cx="82.88" cy="112.71" rx="9.15" ry="2.2" fill="#20b0c8" transform="rotate(-184.43 82.88 112.71)"/>
<ellipse cx="75.67" cy="112.4" rx="16.34" ry="2.2" fill="#1288d8" transform="rotate(-181.4 75.67 112.4)"/>
<ellipse cx="76.21" cy="109.14" rx="16.05" ry="2.2" fill="#0a5ccc" transform="rotate(-169.75 76.21 109.14)"/>
<ellipse cx="78.74" cy="108.87" rx="13.63" ry="2.2" fill="#3cc890" transform="rotate(-166.73 78.74 108.87)"/>
<ellipse cx="76.89" cy="106.39" rx="16.12" ry="2.2" fill="#1474d0" transform="rotate(-159.62 76.89 106.39)"/>
<ellipse cx="80.16" cy="105.48" rx="13.52" ry="2.2" fill="#1288d8" transform="rotate(-151.16 80.16 105.48)"/>
<ellipse cx="40" cy="116" rx="17" ry="7.2" fill="url(#lobeO)" transform="rotate(-4 40 116)"/>
<ellipse cx="66" cy="113" rx="16" ry="5" fill="#58c048" transform="rotate(-6 66 113)"/>
<ellipse cx="76" cy="122" rx="11" ry="5" fill="#8ccc3c" transform="rotate(-25 76 122)"/>
<ellipse cx="122" cy="121" rx="19" ry="5" fill="#7cc840" transform="rotate(12 122 121)"/>
<ellipse cx="108" cy="128" rx="7.5" ry="13" fill="url(#lobeD)" transform="rotate(-15 108 128)"/>
<ellipse cx="103.79" cy="109.09" rx="10.06" ry="1.3" fill="#0a5ccc" transform="rotate(-29.18 103.79 109.09)"/>
<ellipse cx="104.16" cy="110.17" rx="9.93" ry="1.3" fill="#1288d8" transform="rotate(-22.72 104.16 110.17)"/>
<ellipse cx="102.96" cy="111.85" rx="8.25" ry="1.3" fill="#1288d8" transform="rotate(-15.11 102.96 111.85)"/>
<ellipse cx="101.19" cy="113" rx="6.27" ry="1.3" fill="#1288d8" transform="rotate(-9.15 101.19 113)"/>
<ellipse cx="103.53" cy="114.49" rx="8.55" ry="1.3" fill="#1474d0" transform="rotate(3.26 103.53 114.49)"/>
<ellipse cx="101.16" cy="114.69" rx="6.2" ry="1.3" fill="#0a5ccc" transform="rotate(6.39 101.16 114.69)"/>
<ellipse cx="103.88" cy="116.54" rx="9.23" ry="1.3" fill="#3cc890" transform="rotate(15.98 103.88 116.54)"/>
<ellipse cx="100.84" cy="116.68" rx="6.43" ry="1.3" fill="#1288d8" transform="rotate(24.63 100.84 116.68)"/>
<ellipse cx="99.21" cy="116.78" rx="5.05" ry="1.3" fill="#20b0c8" transform="rotate(33.48 99.21 116.78)"/>
<ellipse cx="101.19" cy="119.64" rx="8.38" ry="1.3" fill="#2cbcb8" transform="rotate(42.31 101.19 119.64)"/>
</g></svg>
<svg x="203.3" y="0" width="198.5" height="200.7" viewBox="203.3 0 198.5 200.7" overflow="hidden">
<g transform="matrix(1.028 0 0 1.004 -23.08 -0.67)">
<ellipse cx="295" cy="108.5" rx="38" ry="78" fill="none" stroke="#e01010" stroke-width="1.4" transform="rotate(6 295 108.5)"/>
<ellipse cx="302.2" cy="114.4" rx="86.8" ry="22" fill="none" stroke="#18c418" stroke-width="1.2"/>
<polygon points="228,18.5 379.5,43 377,195.2 230.1,166.9" fill="#d8d600"/>
<polyline points="228,18.5 228.5,80 230.1,166.9" fill="none" stroke="#2030d0" stroke-width="0.8"/>
<path d="M 303.1 31 A 38 78 6 0 0 286.9 186" fill="none" stroke="#e01010" stroke-width="1.4"/>
<circle cx="302.9" cy="106" r="75" fill="none" stroke="#2424c0" stroke-width="1.3"/>
<path d="M 215.4 114.4 A 86.8 22 0 0 0 389 114.4" fill="none" stroke="#18c418" stroke-width="1.2"/>
<line x1="302.3" y1="108" x2="302.3" y2="11" stroke="#18c018" stroke-width="1.3"/>
<polygon points="302.3,6 299.5,13.5 305.1,13.5" fill="#18c018"/>
<line x1="302.3" y1="107" x2="396" y2="124" stroke="#e82020" stroke-width="1.6"/>
<polygon points="403,125.5 394,120.5 393.2,127.5" fill="#e82020"/>
<line x1="262" y1="133" x2="248" y2="141" stroke="#2030e0" stroke-width="1.3"/>
<polygon points="244,143 248.5,137.5 251,141.5" fill="#2030e0"/>
<line x1="252" y1="139" x2="268" y2="141" stroke="#808090" stroke-width="1.2"/>
<text x="268" y="143.5" font-family="Liberation Mono, monospace" font-size="5.6" font-weight="bold" fill="#1a1a1a">Theta</text>
<text x="389.5" y="97" font-family="Liberation Serif, serif" font-size="6.5" font-weight="bold" fill="#1a1a1a">Phi</text>
<text x="397" y="128" font-family="Liberation Serif, serif" font-size="6" fill="#1a1a1a">x</text>
<path d="M 385 121 Q 387 110 386 100" fill="none" stroke="#909090" stroke-width="1.2"/>
<ellipse cx="297.22" cy="104.42" rx="5.43" ry="1.6" fill="#0a5ccc" transform="rotate(-151.65 297.22 104.42)"/>
<ellipse cx="296.11" cy="102.58" rx="7.36" ry="1.6" fill="#1288d8" transform="rotate(-143.11 296.11 102.58)"/>
<ellipse cx="296.02" cy="100.71" rx="8.68" ry="1.6" fill="#3cc890" transform="rotate(-133.59 296.02 100.71)"/>
<ellipse cx="298.54" cy="102.81" rx="5.43" ry="1.6" fill="#3cc890" transform="rotate(-129.58 298.54 102.81)"/>
<ellipse cx="297.96" cy="101.12" rx="7.13" ry="1.6" fill="#20b0c8" transform="rotate(-124.51 297.96 101.12)"/>
<ellipse cx="299.5" cy="101.61" rx="5.94" ry="1.6" fill="#0a5ccc" transform="rotate(-114.91 299.5 101.61)"/>
<ellipse cx="299.69" cy="100.79" rx="6.62" ry="1.6" fill="#0a5ccc" transform="rotate(-110.41 299.69 100.79)"/>
<ellipse cx="300.17" cy="99.04" rx="8.17" ry="1.6" fill="#2cbcb8" transform="rotate(-102.97 300.17 99.04)"/>
<ellipse cx="301.22" cy="100.98" rx="6.07" ry="1.6" fill="#1288d8" transform="rotate(-97.39 301.22 100.98)"/>
<ellipse cx="302.22" cy="101.26" rx="5.74" ry="1.6" fill="#1474d0" transform="rotate(-87.77 302.22 101.26)"/>
<ellipse cx="303.62" cy="98.1" rx="9.05" ry="1.6" fill="#0a5ccc" transform="rotate(-79.66 303.62 98.1)"/>
<ellipse cx="303.64" cy="100.19" rx="7" ry="1.6" fill="#1288d8" transform="rotate(-76.46 303.64 100.19)"/>
<ellipse cx="305.34" cy="99.8" rx="7.94" ry="1.6" fill="#18a8d0" transform="rotate(-65.13 305.34 99.8)"/>
<ellipse cx="306.36" cy="98.94" rx="9.16" ry="1.6" fill="#20b0c8" transform="rotate(-61.55 306.36 98.94)"/>
<ellipse cx="308.07" cy="104.48" rx="6.57" ry="1.3" fill="#18a8d0" transform="rotate(-22.59 308.07 104.48)"/>
<ellipse cx="310.61" cy="105.06" rx="8.83" ry="1.3" fill="#2cbcb8" transform="rotate(-12.72 310.61 105.06)"/>
<ellipse cx="310.92" cy="105.78" rx="9" ry="1.3" fill="#20b0c8" transform="rotate(-7.8 310.92 105.78)"/>
<ellipse cx="311.71" cy="106.85" rx="9.71" ry="1.3" fill="#1288d8" transform="rotate(-0.87 311.71 106.85)"/>
<ellipse cx="310.23" cy="106.96" rx="8.23" ry="1.3" fill="#0a5ccc" transform="rotate(-0.28 310.23 106.96)"/>
<ellipse cx="308.79" cy="107.93" rx="6.86" ry="1.3" fill="#2cbcb8" transform="rotate(7.78 308.79 107.93)"/>
<ellipse cx="313.14" cy="109.28" rx="11.37" ry="1.3" fill="#1288d8" transform="rotate(11.55 313.14 109.28)"/>
<ellipse cx="313.01" cy="111.02" rx="11.72" ry="1.3" fill="#20b0c8" transform="rotate(20.06 313.01 111.02)"/>
<ellipse cx="311.89" cy="111.74" rx="10.97" ry="1.3" fill="#1474d0" transform="rotate(25.58 311.89 111.74)"/>
<ellipse cx="311.63" cy="112.18" rx="10.93" ry="1.3" fill="#1288d8" transform="rotate(28.27 311.63 112.18)"/>
<ellipse cx="307.2" cy="110.37" rx="6.2" ry="1.3" fill="#18a8d0" transform="rotate(32.98 307.2 110.37)"/>
<ellipse cx="310.14" cy="113.3" rx="10.29" ry="1.3" fill="#0a5ccc" transform="rotate(37.77 310.14 113.3)"/>
<ellipse cx="293.52" cy="123.48" rx="11.75" ry="1.5" fill="#2cbcb8" transform="rotate(102.19 293.52 123.48)"/>
<ellipse cx="294.36" cy="119.31" rx="7.49" ry="1.5" fill="#18a8d0" transform="rotate(102.64 294.36 119.31)"/>
<ellipse cx="292.02" cy="124.91" rx="13.51" ry="1.5" fill="#18a8d0" transform="rotate(107.12 292.02 124.91)"/>
<ellipse cx="291.16" cy="121.67" rx="10.82" ry="1.5" fill="#0a5ccc" transform="rotate(116.57 291.16 121.67)"/>
<ellipse cx="292.54" cy="119.07" rx="7.87" ry="1.5" fill="#3cc890" transform="rotate(116.06 292.54 119.07)"/>
<ellipse cx="290.86" cy="120.49" rx="9.92" ry="1.5" fill="#1474d0" transform="rotate(121.2 290.86 120.49)"/>
<ellipse cx="289.25" cy="121.37" rx="11.55" ry="1.5" fill="#20b0c8" transform="rotate(125.74 289.25 121.37)"/>
<ellipse cx="288.55" cy="119.58" rx="10.63" ry="1.5" fill="#20b0c8" transform="rotate(134.52 288.55 119.58)"/>
<ellipse cx="288.61" cy="119.63" rx="10.62" ry="1.5" fill="#1474d0" transform="rotate(134.07 288.61 119.63)"/>
<ellipse cx="286.09" cy="120.36" rx="12.96" ry="1.5" fill="#18a8d0" transform="rotate(139.85 286.09 120.36)"/>
<ellipse cx="285.14" cy="119.58" rx="13.24" ry="1.5" fill="#2cbcb8" transform="rotate(145.07 285.14 119.58)"/>
<ellipse cx="285.94" cy="117.53" rx="11.48" ry="1.5" fill="#20b0c8" transform="rotate(151.21 285.94 117.53)"/>
<ellipse cx="276" cy="124" rx="18" ry="10.5" fill="url(#lobeR)" transform="rotate(-32 276 124)"/>
<ellipse cx="289" cy="113" rx="13" ry="4.5" fill="#38c070" transform="rotate(-30 289 113)"/>
</g></svg>
</g>
<g transform="translate(1079.9 277.2)">
<rect x="0" y="0" width="202.1" height="200" fill="url(#simbg)"/>
<rect x="202.1" y="0" width="196.7" height="200" fill="url(#simbg)"/>
<line x1="202.1" y1="0" x2="202.1" y2="200" stroke="#000" stroke-opacity="0.07" stroke-width="1"/>
<svg x="0" y="0" width="202.1" height="200" viewBox="0 0 202.1 200" overflow="hidden">
<g transform="matrix(1.044 0 0 0.981 -4.79 -0.15)">
<ellipse cx="87" cy="112" rx="35" ry="82" fill="none" stroke="#e01010" stroke-width="1.4" transform="rotate(5 87 112)"/>
<ellipse cx="92.4" cy="118.6" rx="84.4" ry="22" fill="none" stroke="#18c418" stroke-width="1.2"/>
<polygon points="20.2,18.5 168.6,44.1 166.4,203.6 21.6,174.2" fill="url(#mtex)"/>
<polygon points="20.2,18.5 35.04,21.06 35.14,36.67 20.34,34.07" fill="url(#mtexB)"/>
<polygon points="49.88,23.62 64.72,26.18 64.75,41.86 49.95,39.27" fill="url(#mtexY)"/>
<polygon points="64.72,26.18 79.56,28.74 79.56,44.46 64.75,41.86" fill="url(#mtexB)"/>
<polygon points="94.4,31.3 109.24,33.86 109.16,49.66 94.36,47.06" fill="url(#mtexB)"/>
<polygon points="124.08,36.42 138.92,38.98 138.77,54.85 123.97,52.26" fill="url(#mtexY)"/>
<polygon points="138.92,38.98 153.76,41.54 153.58,57.45 138.77,54.85" fill="url(#mtexB)"/>
<polygon points="49.95,39.27 64.75,41.86 64.78,57.55 50.02,54.91" fill="url(#mtexB)"/>
<polygon points="64.75,41.86 79.56,44.46 79.55,60.18 64.78,57.55" fill="url(#mtexB)"/>
<polygon points="79.56,44.46 94.36,47.06 94.32,62.82 79.55,60.18" fill="url(#mtexB)"/>
<polygon points="123.97,52.26 138.77,54.85 138.62,70.73 123.86,68.09" fill="url(#mtexB)"/>
<polygon points="138.77,54.85 153.58,57.45 153.39,73.36 138.62,70.73" fill="url(#mtexB)"/>
<polygon points="153.58,57.45 168.38,60.05 168.16,76 153.39,73.36" fill="url(#mtexB)"/>
<polygon points="20.48,49.64 35.25,52.28 35.35,67.88 20.62,65.21" fill="url(#mtexB)"/>
<polygon points="35.25,52.28 50.02,54.91 50.08,70.56 35.35,67.88" fill="url(#mtexB)"/>
<polygon points="50.02,54.91 64.78,57.55 64.82,73.23 50.08,70.56" fill="url(#mtexB)"/>
<polygon points="64.78,57.55 79.55,60.18 79.55,75.91 64.82,73.23" fill="url(#mtexY)"/>
<polygon points="79.55,60.18 94.32,62.82 94.28,78.58 79.55,75.91" fill="url(#mtexB)"/>
<polygon points="94.32,62.82 109.09,65.46 109.01,81.25 94.28,78.58" fill="url(#mtexB)"/>
<polygon points="109.09,65.46 123.86,68.09 123.74,83.93 109.01,81.25" fill="url(#mtexB)"/>
<polygon points="123.86,68.09 138.62,70.73 138.48,86.6 123.74,83.93" fill="url(#mtexB)"/>
<polygon points="138.62,70.73 153.39,73.36 153.21,89.28 138.48,86.6" fill="url(#mtexY)"/>
<polygon points="153.39,73.36 168.16,76 167.94,91.95 153.21,89.28" fill="url(#mtexB)"/>
<polygon points="35.35,67.88 50.08,70.56 50.15,86.2 35.46,83.49" fill="url(#mtexY)"/>
<polygon points="50.08,70.56 64.82,73.23 64.85,88.92 50.15,86.2" fill="url(#mtexY)"/>
<polygon points="64.82,73.23 79.55,75.91 79.54,91.63 64.85,88.92" fill="url(#mtexB)"/>
<polygon points="79.55,75.91 94.28,78.58 94.24,94.34 79.54,91.63" fill="url(#mtexY)"/>
<polygon points="109.01,81.25 123.74,83.93 123.63,99.76 108.94,97.05" fill="url(#mtexY)"/>
<polygon points="123.74,83.93 138.48,86.6 138.33,102.48 123.63,99.76" fill="url(#mtexY)"/>
<polygon points="138.48,86.6 153.21,89.28 153.02,105.19 138.33,102.48" fill="url(#mtexB)"/>
<polygon points="153.21,89.28 167.94,91.95 167.72,107.9 153.02,105.19" fill="url(#mtexY)"/>
<polygon points="20.76,80.78 35.46,83.49 35.56,99.1 20.9,96.35" fill="url(#mtexB)"/>
<polygon points="35.46,83.49 50.15,86.2 50.22,101.85 35.56,99.1" fill="url(#mtexB)"/>
<polygon points="79.54,91.63 94.24,94.34 94.2,110.1 79.54,107.35" fill="url(#mtexY)"/>
<polygon points="94.24,94.34 108.94,97.05 108.86,112.85 94.2,110.1" fill="url(#mtexB)"/>
<polygon points="108.94,97.05 123.63,99.76 123.52,115.6 108.86,112.85" fill="url(#mtexB)"/>
<polygon points="153.02,105.19 167.72,107.9 167.5,123.85 152.84,121.1" fill="url(#mtexY)"/>
<polygon points="35.56,99.1 50.22,101.85 50.29,117.5 35.66,114.71" fill="url(#mtexB)"/>
<polygon points="50.22,101.85 64.88,104.6 64.91,120.28 50.29,117.5" fill="url(#mtexY)"/>
<polygon points="64.88,104.6 79.54,107.35 79.54,123.07 64.91,120.28" fill="url(#mtexB)"/>
<polygon points="108.86,112.85 123.52,115.6 123.41,131.44 108.78,128.65" fill="url(#mtexB)"/>
<polygon points="123.52,115.6 138.18,118.35 138.03,134.22 123.41,131.44" fill="url(#mtexY)"/>
<polygon points="138.18,118.35 152.84,121.1 152.66,137.01 138.03,134.22" fill="url(#mtexB)"/>
<polygon points="21.04,111.92 35.66,114.71 35.77,130.32 21.18,127.49" fill="url(#mtexB)"/>
<polygon points="50.29,117.5 64.91,120.28 64.94,135.97 50.36,133.14" fill="url(#mtexB)"/>
<polygon points="79.54,123.07 94.16,125.86 94.12,141.62 79.53,138.79" fill="url(#mtexB)"/>
<polygon points="94.16,125.86 108.78,128.65 108.71,144.45 94.12,141.62" fill="url(#mtexB)"/>
<polygon points="123.41,131.44 138.03,134.22 137.88,150.1 123.3,147.27" fill="url(#mtexB)"/>
<polygon points="152.66,137.01 167.28,139.8 167.06,155.75 152.47,152.92" fill="url(#mtexB)"/>
<polygon points="35.77,130.32 50.36,133.14 50.42,148.79 35.87,145.92" fill="url(#mtexB)"/>
<polygon points="64.94,135.97 79.53,138.79 79.53,154.52 64.98,151.65" fill="url(#mtexY)"/>
<polygon points="79.53,138.79 94.12,141.62 94.08,157.38 79.53,154.52" fill="url(#mtexB)"/>
<polygon points="108.71,144.45 123.3,147.27 123.18,163.11 108.63,160.24" fill="url(#mtexB)"/>
<polygon points="137.88,150.1 152.47,152.92 152.29,168.84 137.74,165.97" fill="url(#mtexY)"/>
<polygon points="152.47,152.92 167.06,155.75 166.84,171.7 152.29,168.84" fill="url(#mtexB)"/>
<polygon points="21.32,143.06 35.87,145.92 35.98,161.53 21.46,158.63" fill="url(#mtexB)"/>
<polygon points="35.87,145.92 50.42,148.79 50.49,164.43 35.98,161.53" fill="url(#mtexY)"/>
<polygon points="50.42,148.79 64.98,151.65 65.01,167.34 50.49,164.43" fill="url(#mtexY)"/>
<polygon points="64.98,151.65 79.53,154.52 79.52,170.24 65.01,167.34" fill="url(#mtexB)"/>
<polygon points="79.53,154.52 94.08,157.38 94.04,173.14 79.52,170.24" fill="url(#mtexY)"/>
<polygon points="94.08,157.38 108.63,160.24 108.56,176.04 94.04,173.14" fill="url(#mtexB)"/>
<polygon points="108.63,160.24 123.18,163.11 123.07,178.94 108.56,176.04" fill="url(#mtexY)"/>
<polygon points="123.18,163.11 137.74,165.97 137.59,181.85 123.07,178.94" fill="url(#mtexY)"/>
<polygon points="137.74,165.97 152.29,168.84 152.1,184.75 137.59,181.85" fill="url(#mtexB)"/>
<polygon points="152.29,168.84 166.84,171.7 166.62,187.65 152.1,184.75" fill="url(#mtexY)"/>
<polygon points="21.46,158.63 35.98,161.53 36.08,177.14 21.6,174.2" fill="url(#mtexB)"/>
<polygon points="35.98,161.53 50.49,164.43 50.56,180.08 36.08,177.14" fill="url(#mtexB)"/>
<polygon points="79.52,170.24 94.04,173.14 94,188.9 79.52,185.96" fill="url(#mtexY)"/>
<polygon points="94.04,173.14 108.56,176.04 108.48,191.84 94,188.9" fill="url(#mtexB)"/>
<polygon points="108.56,176.04 123.07,178.94 122.96,194.78 108.48,191.84" fill="url(#mtexB)"/>
<polygon points="152.1,184.75 166.62,187.65 166.4,203.6 151.92,200.66" fill="url(#mtexY)"/>
<polyline points="20.2,18.5 168.6,44.1 166.4,203.6" fill="none" stroke="#30d0e0" stroke-width="0.8"/>
<path d="M 94.2 30.3 A 35 82 5 0 0 79.8 193.7" fill="none" stroke="#e01010" stroke-width="1.4"/>
<path d="M 8 118.6 A 84.4 22 0 0 0 176.8 118.6" fill="none" stroke="#18c418" stroke-width="1.2"/>
<line x1="92.4" y1="111" x2="92.4" y2="12" stroke="#18c018" stroke-width="1.3"/>
<polygon points="92.4,7 89.6,14.5 95.2,14.5" fill="#18c018"/>
<line x1="166" y1="126.5" x2="184" y2="128.8" stroke="#e82020" stroke-width="1.6"/>
<polygon points="191,130 182,125.5 181.5,132" fill="#e82020"/>
<line x1="68" y1="128" x2="40" y2="143" stroke="#2030e0" stroke-width="1.3"/>
<polygon points="36,146 40.5,139.5 43.5,144" fill="#2030e0"/>
<line x1="48" y1="140" x2="72" y2="142" stroke="#808090" stroke-width="1.2"/>
<text x="73" y="145" font-family="Liberation Mono, monospace" font-size="5.6" font-weight="bold" fill="#1a1a1a">Theta</text>
<text x="178.5" y="105" font-family="Liberation Serif, serif" font-size="6.5" font-weight="bold" fill="#1a1a1a">Phi</text>
<text x="195" y="132.5" font-family="Liberation Serif, serif" font-size="6" fill="#1a1a1a">x</text>
<path d="M 174 124 Q 176 112 175 102" fill="none" stroke="#909090" stroke-width="1.2"/>
<ellipse cx="84.27" cy="109.01" rx="7.79" ry="1.3" fill="#20b0c8" transform="rotate(-172.73 84.27 109.01)"/>
<ellipse cx="87.05" cy="109.18" rx="5.02" ry="1.3" fill="#3cc890" transform="rotate(-170.55 87.05 109.18)"/>
<ellipse cx="84.8" cy="107.35" rx="7.68" ry="1.3" fill="#1288d8" transform="rotate(-159.79 84.8 107.35)"/>
<ellipse cx="86.39" cy="107.08" rx="6.33" ry="1.3" fill="#1288d8" transform="rotate(-152.5 86.39 107.08)"/>
<ellipse cx="84.91" cy="105.94" rx="8.17" ry="1.3" fill="#1288d8" transform="rotate(-150.2 84.91 105.94)"/>
<ellipse cx="84.52" cy="103.48" rx="9.92" ry="1.3" fill="#20b0c8" transform="rotate(-138.92 84.52 103.48)"/>
<ellipse cx="83.56" cy="101.4" rx="12.05" ry="1.3" fill="#1474d0" transform="rotate(-134.44 83.56 101.4)"/>
<ellipse cx="83.87" cy="99.98" rx="12.9" ry="1.3" fill="#3cc890" transform="rotate(-129.04 83.87 99.98)"/>
<ellipse cx="85.52" cy="99.52" rx="12.32" ry="1.3" fill="#3cc890" transform="rotate(-121.74 85.52 99.52)"/>
<ellipse cx="90.01" cy="104.89" rx="5.49" ry="1.3" fill="#18a8d0" transform="rotate(-111.3 90.01 104.89)"/>
<ellipse cx="89.58" cy="100.3" rx="10" ry="1.3" fill="#0a5ccc" transform="rotate(-104.01 89.58 100.3)"/>
<ellipse cx="89.93" cy="99.4" rx="10.8" ry="1.3" fill="#1474d0" transform="rotate(-101.05 89.93 99.4)"/>
<ellipse cx="91.75" cy="97.19" rx="12.81" ry="1.3" fill="#20b0c8" transform="rotate(-91.12 91.75 97.19)"/>
<ellipse cx="92.68" cy="101.89" rx="8.14" ry="1.3" fill="#3cc890" transform="rotate(-85.18 92.68 101.89)"/>
<ellipse cx="94.06" cy="100.68" rx="9.54" ry="1.3" fill="#1474d0" transform="rotate(-77.52 94.06 100.68)"/>
<ellipse cx="95.54" cy="98.94" rx="11.61" ry="1.3" fill="#3cc890" transform="rotate(-72.24 95.54 98.94)"/>
<ellipse cx="94.86" cy="103.28" rx="7.31" ry="1.3" fill="#20b0c8" transform="rotate(-66.93 94.86 103.28)"/>
<ellipse cx="96.93" cy="102.25" rx="9.19" ry="1.3" fill="#0a5ccc" transform="rotate(-57.52 96.93 102.25)"/>
<ellipse cx="96.82" cy="103.79" rx="7.86" ry="1.3" fill="#1474d0" transform="rotate(-52.2 96.82 103.79)"/>
<ellipse cx="96.09" cy="105.58" rx="6.02" ry="1.3" fill="#0a5ccc" transform="rotate(-47.22 96.09 105.58)"/>
<ellipse cx="101.23" cy="102.61" rx="11.82" ry="1.3" fill="#2cbcb8" transform="rotate(-38.69 101.23 102.61)"/>
<ellipse cx="103.03" cy="103.63" rx="12.74" ry="1.3" fill="#3cc890" transform="rotate(-30 103.03 103.63)"/>
<ellipse cx="100.59" cy="106.21" rx="9.38" ry="1.3" fill="#1288d8" transform="rotate(-23.8 100.59 106.21)"/>
<ellipse cx="103.13" cy="105.67" rx="11.94" ry="1.3" fill="#18a8d0" transform="rotate(-21.26 103.13 105.67)"/>
<ellipse cx="100.27" cy="108.51" rx="8.4" ry="1.3" fill="#20b0c8" transform="rotate(-10.25 100.27 108.51)"/>
<ellipse cx="103.78" cy="109.07" rx="11.81" ry="1.3" fill="#1474d0" transform="rotate(-4.5 103.78 109.07)"/>
<ellipse cx="78.57" cy="117.65" rx="14.57" ry="2.2" fill="#0a5ccc" transform="rotate(-202.81 78.57 117.65)"/>
<ellipse cx="75.67" cy="115.99" rx="16.81" ry="2.2" fill="#18a8d0" transform="rotate(-193.72 75.67 115.99)"/>
<ellipse cx="77.84" cy="113.18" rx="14.21" ry="2.2" fill="#18a8d0" transform="rotate(-184.77 77.84 113.18)"/>
<ellipse cx="82.34" cy="111.85" rx="9.66" ry="2.2" fill="#20b0c8" transform="rotate(-179.09 82.34 111.85)"/>
<ellipse cx="82.19" cy="110.93" rx="9.87" ry="2.2" fill="#20b0c8" transform="rotate(-173.76 82.19 110.93)"/>
<ellipse cx="76.53" cy="108.22" rx="15.93" ry="2.2" fill="#18a8d0" transform="rotate(-166.28 76.53 108.22)"/>
<ellipse cx="77.85" cy="106.74" rx="15.09" ry="2.2" fill="#18a8d0" transform="rotate(-159.62 77.85 106.74)"/>
<ellipse cx="82.8" cy="106.19" rx="10.88" ry="2.2" fill="#0a5ccc" transform="rotate(-147.71 82.8 106.19)"/>
<ellipse cx="40" cy="116" rx="17" ry="7.2" fill="url(#lobeO)" transform="rotate(-4 40 116)"/>
<ellipse cx="66" cy="113" rx="16" ry="5" fill="#58c048" transform="rotate(-6 66 113)"/>
<ellipse cx="76" cy="122" rx="11" ry="5" fill="#8ccc3c" transform="rotate(-25 76 122)"/>
<ellipse cx="122" cy="121" rx="19" ry="5" fill="#7cc840" transform="rotate(12 122 121)"/>
<ellipse cx="108" cy="128" rx="7.5" ry="13" fill="url(#lobeD)" transform="rotate(-15 108 128)"/>
<ellipse cx="100.41" cy="111.14" rx="6.12" ry="1.3" fill="#3cc890" transform="rotate(-27.83 100.41 111.14)"/>
<ellipse cx="102.96" cy="110.47" rx="8.71" ry="1.3" fill="#18a8d0" transform="rotate(-23.96 102.96 110.47)"/>
<ellipse cx="100.49" cy="112.45" rx="5.71" ry="1.3" fill="#20b0c8" transform="rotate(-15.78 100.49 112.45)"/>
<ellipse cx="104.98" cy="113.03" rx="10.03" ry="1.3" fill="#3cc890" transform="rotate(-5.56 104.98 113.03)"/>
<ellipse cx="104.55" cy="114.58" rx="9.57" ry="1.3" fill="#3cc890" transform="rotate(3.44 104.55 114.58)"/>
<ellipse cx="104.09" cy="115.1" rx="9.15" ry="1.3" fill="#20b0c8" transform="rotate(6.88 104.09 115.1)"/>
<ellipse cx="103.84" cy="116.36" rx="9.15" ry="1.3" fill="#1474d0" transform="rotate(14.93 103.84 116.36)"/>
<ellipse cx="104.08" cy="118.41" rx="10.09" ry="1.3" fill="#20b0c8" transform="rotate(25.93 104.08 118.41)"/>
<ellipse cx="100.49" cy="117.32" rx="6.41" ry="1.3" fill="#20b0c8" transform="rotate(31.15 100.49 117.32)"/>
<ellipse cx="100.57" cy="118.52" rx="7.17" ry="1.3" fill="#1288d8" transform="rotate(39.1 100.57 118.52)"/>
</g></svg>
<svg x="202.1" y="0" width="196.7" height="200" viewBox="202.1 0 196.7 200" overflow="hidden">
<g transform="matrix(0.991 0 0 1.002 -8.75 -0.94)">
<ellipse cx="295" cy="108.5" rx="38" ry="78" fill="none" stroke="#e01010" stroke-width="1.4" transform="rotate(6 295 108.5)"/>
<ellipse cx="302.2" cy="114.4" rx="86.8" ry="22" fill="none" stroke="#18c418" stroke-width="1.2"/>
<polygon points="228,18.5 379.5,43 377,195.2 230.1,166.9" fill="#d8d600"/>
<polyline points="228,18.5 228.5,80 230.1,166.9" fill="none" stroke="#2030d0" stroke-width="0.8"/>
<path d="M 303.1 31 A 38 78 6 0 0 286.9 186" fill="none" stroke="#e01010" stroke-width="1.4"/>
<circle cx="302.9" cy="106" r="75" fill="none" stroke="#2424c0" stroke-width="1.3"/>
<path d="M 215.4 114.4 A 86.8 22 0 0 0 389 114.4" fill="none" stroke="#18c418" stroke-width="1.2"/>
<line x1="302.3" y1="108" x2="302.3" y2="11" stroke="#18c018" stroke-width="1.3"/>
<polygon points="302.3,6 299.5,13.5 305.1,13.5" fill="#18c018"/>
<line x1="302.3" y1="107" x2="396" y2="124" stroke="#e82020" stroke-width="1.6"/>
<polygon points="403,125.5 394,120.5 393.2,127.5" fill="#e82020"/>
<line x1="262" y1="133" x2="248" y2="141" stroke="#2030e0" stroke-width="1.3"/>
<polygon points="244,143 248.5,137.5 251,141.5" fill="#2030e0"/>
<line x1="252" y1="139" x2="268" y2="141" stroke="#808090" stroke-width="1.2"/>
<text x="268" y="143.5" font-family="Liberation Mono, monospace" font-size="5.6" font-weight="bold" fill="#1a1a1a">Theta</text>
<text x="389.5" y="97" font-family="Liberation Serif, serif" font-size="6.5" font-weight="bold" fill="#1a1a1a">Phi</text>
<text x="397" y="128" font-family="Liberation Serif, serif" font-size="6" fill="#1a1a1a">x</text>
<path d="M 385 121 Q 387 110 386 100" fill="none" stroke="#909090" stroke-width="1.2"/>
<ellipse cx="295.59" cy="103.45" rx="7.33" ry="1.6" fill="#1474d0" transform="rotate(-151.03 295.59 103.45)"/>
<ellipse cx="297.02" cy="103" rx="6.39" ry="1.6" fill="#18a8d0" transform="rotate(-141.22 297.02 103)"/>
<ellipse cx="295.2" cy="99.88" rx="9.85" ry="1.6" fill="#0a5ccc" transform="rotate(-133.68 295.2 99.88)"/>
<ellipse cx="295.93" cy="99.11" rx="9.95" ry="1.6" fill="#0a5ccc" transform="rotate(-127.56 295.93 99.11)"/>
<ellipse cx="299.45" cy="102.47" rx="5.19" ry="1.6" fill="#0a5ccc" transform="rotate(-119.36 299.45 102.47)"/>
<ellipse cx="297.29" cy="97.46" rx="10.64" ry="1.6" fill="#1474d0" transform="rotate(-116.29 297.29 97.46)"/>
<ellipse cx="299.29" cy="97.83" rx="9.56" ry="1.6" fill="#1474d0" transform="rotate(-106.45 299.29 97.83)"/>
<ellipse cx="300.39" cy="99.34" rx="7.82" ry="1.6" fill="#2cbcb8" transform="rotate(-101.88 300.39 99.34)"/>
<ellipse cx="301.43" cy="102.02" rx="5.01" ry="1.6" fill="#1474d0" transform="rotate(-96.58 301.43 102.02)"/>
<ellipse cx="302.5" cy="100.21" rx="6.81" ry="1.6" fill="#2cbcb8" transform="rotate(-85.77 302.5 100.21)"/>
<ellipse cx="303.12" cy="100.99" rx="6.12" ry="1.6" fill="#1288d8" transform="rotate(-79.4 303.12 100.99)"/>
<ellipse cx="303.22" cy="101.97" rx="5.18" ry="1.6" fill="#1288d8" transform="rotate(-76.42 303.22 101.97)"/>
<ellipse cx="305.27" cy="99.05" rx="8.6" ry="1.6" fill="#0a5ccc" transform="rotate(-67.65 305.27 99.05)"/>
<ellipse cx="304.89" cy="102.26" rx="5.55" ry="1.6" fill="#2cbcb8" transform="rotate(-58.67 304.89 102.26)"/>
<ellipse cx="312.09" cy="103.88" rx="10.56" ry="1.3" fill="#20b0c8" transform="rotate(-17.17 312.09 103.88)"/>
<ellipse cx="308.25" cy="105.34" rx="6.46" ry="1.3" fill="#2cbcb8" transform="rotate(-14.85 308.25 105.34)"/>
<ellipse cx="313.72" cy="104.56" rx="11.97" ry="1.3" fill="#1474d0" transform="rotate(-11.76 313.72 104.56)"/>
<ellipse cx="310.1" cy="106.58" rx="8.12" ry="1.3" fill="#3cc890" transform="rotate(-2.95 310.1 106.58)"/>
<ellipse cx="312.05" cy="107.55" rx="10.07" ry="1.3" fill="#20b0c8" transform="rotate(3.12 312.05 107.55)"/>
<ellipse cx="311.26" cy="108.53" rx="9.38" ry="1.3" fill="#0a5ccc" transform="rotate(9.39 311.26 108.53)"/>
<ellipse cx="308.86" cy="108.86" rx="7.11" ry="1.3" fill="#0a5ccc" transform="rotate(15.16 308.86 108.86)"/>
<ellipse cx="310.8" cy="109.49" rx="9.15" ry="1.3" fill="#3cc890" transform="rotate(15.79 310.8 109.49)"/>
<ellipse cx="311.14" cy="111.17" rx="10.04" ry="1.3" fill="#2cbcb8" transform="rotate(24.52 311.14 111.17)"/>
<ellipse cx="309.91" cy="111.39" rx="9.05" ry="1.3" fill="#18a8d0" transform="rotate(29.04 309.91 111.39)"/>
<ellipse cx="309.35" cy="111.81" rx="8.78" ry="1.3" fill="#0a5ccc" transform="rotate(33.23 309.35 111.81)"/>
<ellipse cx="307.41" cy="111.53" rx="7.06" ry="1.3" fill="#1474d0" transform="rotate(39.97 307.41 111.53)"/>
<ellipse cx="293.32" cy="125.58" rx="13.85" ry="1.5" fill="#18a8d0" transform="rotate(101.15 293.32 125.58)"/>
<ellipse cx="293.38" cy="121.27" rx="9.63" ry="1.5" fill="#18a8d0" transform="rotate(105.75 293.38 121.27)"/>
<ellipse cx="291.84" cy="124.73" rx="13.39" ry="1.5" fill="#1288d8" transform="rotate(108.1 291.84 124.73)"/>
<ellipse cx="292.09" cy="119.88" rx="8.79" ry="1.5" fill="#3cc890" transform="rotate(116.38 292.09 119.88)"/>
<ellipse cx="291.26" cy="121.05" rx="10.21" ry="1.5" fill="#2cbcb8" transform="rotate(117.63 291.26 121.05)"/>
<ellipse cx="288.89" cy="123.01" rx="13.1" ry="1.5" fill="#0a5ccc" transform="rotate(122.87 288.89 123.01)"/>
<ellipse cx="291.5" cy="117.5" rx="7.1" ry="1.5" fill="#0a5ccc" transform="rotate(129.29 291.5 117.5)"/>
<ellipse cx="287.89" cy="121.45" rx="12.45" ry="1.5" fill="#2cbcb8" transform="rotate(130.63 287.89 121.45)"/>
<ellipse cx="286.62" cy="121.17" rx="13.11" ry="1.5" fill="#20b0c8" transform="rotate(135.65 286.62 121.17)"/>
<ellipse cx="288.37" cy="118.52" rx="10.04" ry="1.5" fill="#18a8d0" transform="rotate(139.45 288.37 118.52)"/>
<ellipse cx="285.74" cy="118.86" rx="12.34" ry="1.5" fill="#3cc890" transform="rotate(146.22 285.74 118.86)"/>
<ellipse cx="289.33" cy="115.5" rx="7.53" ry="1.5" fill="#2cbcb8" transform="rotate(152.27 289.33 115.5)"/>
<ellipse cx="276" cy="124" rx="18" ry="10.5" fill="url(#lobeR)" transform="rotate(-32 276 124)"/>
<ellipse cx="289" cy="113" rx="13" ry="4.5" fill="#38c070" transform="rotate(-30 289 113)"/>
</g></svg>
</g>
<rect x="464.2" y="54.2" width="10.2" height="191.7" fill="url(#cbar)"/>
<text x="460" y="65.7" font-family="Liberation Serif, serif" font-size="20.6" font-weight="bold" fill="#000" text-anchor="end" >15.8</text>
<text x="460" y="157.3" font-family="Liberation Serif, serif" font-size="20.6" font-weight="bold" fill="#000" text-anchor="end" >-2.4</text>
<text x="460" y="247.5" font-family="Liberation Serif, serif" font-size="20.6" font-weight="bold" fill="#000" text-anchor="end" >-24.2</text>
<rect x="989.8" y="51.7" width="10.4" height="191.3" fill="url(#cbar)"/>
<text x="984.5" y="63.5" font-family="Liberation Serif, serif" font-size="20.6" font-weight="bold" fill="#000" text-anchor="end" >17.2</text>
<text x="984.5" y="154.9" font-family="Liberation Serif, serif" font-size="20.6" font-weight="bold" fill="#000" text-anchor="end" >-0.93</text>
<text x="984.5" y="245.5" font-family="Liberation Serif, serif" font-size="20.6" font-weight="bold" fill="#000" text-anchor="end" >-22.8</text>
<rect x="1530.5" y="42.2" width="10" height="191.1" fill="url(#cbar)"/>
<text x="1527.5" y="53.6" font-family="Liberation Serif, serif" font-size="20.6" font-weight="bold" fill="#000" text-anchor="end" >18.6</text>
<text x="1527.5" y="144.3" font-family="Liberation Serif, serif" font-size="20.6" font-weight="bold" fill="#000" text-anchor="end" >0.40</text>
<text x="1527.5" y="235.8" font-family="Liberation Serif, serif" font-size="20.6" font-weight="bold" fill="#000" text-anchor="end" >-21.4</text>
<rect x="464.1" y="286.5" width="10.3" height="191.7" fill="url(#cbar)"/>
<text x="462.5" y="297.8" font-family="Liberation Serif, serif" font-size="20.6" font-weight="bold" fill="#000" text-anchor="end" >19.6</text>
<text x="462.5" y="389.3" font-family="Liberation Serif, serif" font-size="20.6" font-weight="bold" fill="#000" text-anchor="end" >1.46</text>
<text x="462.5" y="479.7" font-family="Liberation Serif, serif" font-size="20.6" font-weight="bold" fill="#000" text-anchor="end" >-20.4</text>
<rect x="989.8" y="284.2" width="10.4" height="191.4" fill="url(#cbar)"/>
<text x="987.2" y="295.1" font-family="Liberation Serif, serif" font-size="20.6" font-weight="bold" fill="#000" text-anchor="end" >20.7</text>
<text x="987.2" y="379.2" font-family="Liberation Serif, serif" font-size="20.6" font-weight="bold" fill="#000" text-anchor="end" >2.51</text>
<text x="987.2" y="471.1" font-family="Liberation Serif, serif" font-size="20.6" font-weight="bold" fill="#000" text-anchor="end" >-19.3</text>
<rect x="1530.5" y="279.3" width="10" height="191.7" fill="url(#cbar)"/>
<text x="1529" y="288.8" font-family="Liberation Serif, serif" font-size="20.6" font-weight="bold" fill="#000" text-anchor="end" >21.7</text>
<text x="1529" y="374.4" font-family="Liberation Serif, serif" font-size="20.6" font-weight="bold" fill="#000" text-anchor="end" >3.47</text>
<text x="1529" y="466.5" font-family="Liberation Serif, serif" font-size="20.6" font-weight="bold" fill="#000" text-anchor="end" >-18.3</text>
<text x="449.6" y="50.8" font-family="Liberation Serif, serif" font-size="21" font-weight="bold">dBm<tspan font-size="14" dy="-10">2</tspan></text>
<text x="976.8" y="46.6" font-family="Liberation Serif, serif" font-size="21" font-weight="bold">dBm<tspan font-size="14" dy="-10">2</tspan></text>
<text x="1515.8" y="36.8" font-family="Liberation Serif, serif" font-size="21" font-weight="bold">dBm<tspan font-size="14" dy="-10">2</tspan></text>
<text x="447.9" y="283.3" font-family="Liberation Serif, serif" font-size="21" font-weight="bold">dBm<tspan font-size="14" dy="-10">2</tspan></text>
<text x="977" y="275.6" font-family="Liberation Serif, serif" font-size="21" font-weight="bold">dBm<tspan font-size="14" dy="-10">2</tspan></text>
<text x="1517.5" y="271.3" font-family="Liberation Serif, serif" font-size="21" font-weight="bold">dBm<tspan font-size="14" dy="-10">2</tspan></text>
<text x="165.9" y="276" font-family="Liberation Serif, serif" font-size="32.9" font-weight="bold" fill="#000" text-anchor="start" >@5GHz</text>
<text x="695.4" y="275.8" font-family="Liberation Serif, serif" font-size="32.9" font-weight="bold" fill="#000" text-anchor="start" >@6GHz</text>
<text x="1237.5" y="273.7" font-family="Liberation Serif, serif" font-size="32.9" font-weight="bold" fill="#000" text-anchor="start" >@7GHz</text>
<text x="175.6" y="512.2" font-family="Liberation Serif, serif" font-size="32.9" font-weight="bold" fill="#000" text-anchor="start" >@8GHz</text>
<text x="701.2" y="509.2" font-family="Liberation Serif, serif" font-size="32.9" font-weight="bold" fill="#000" text-anchor="start" >@9GHz</text>
<text x="1240.5" y="505" font-family="Liberation Serif, serif" font-size="32.9" font-weight="bold" fill="#000" text-anchor="start" >@10GHz</text>
<rect x="1699" y="23.1" width="246.9" height="246.3" fill="url(#tealg)"/>
<rect x="1705.9" y="29.6" width="236.0" height="233.2" fill="#858585"/>
<rect x="1705.9" y="29.6" width="23.65" height="23.37" fill="url(#cC)"/>
<rect x="1729.5" y="29.6" width="23.65" height="23.37" fill="url(#cD)"/>
<rect x="1753.1" y="29.6" width="23.65" height="23.37" fill="url(#cR)"/>
<rect x="1776.7" y="29.6" width="23.65" height="23.37" fill="url(#cD)"/>
<rect x="1800.3" y="29.6" width="23.65" height="23.37" fill="url(#cR)"/>
<rect x="1823.9" y="29.6" width="23.65" height="23.37" fill="url(#cD)"/>
<rect x="1847.5" y="29.6" width="23.65" height="23.37" fill="url(#cR)"/>
<rect x="1871.1" y="29.6" width="23.65" height="23.37" fill="url(#cD)"/>
<rect x="1894.7" y="29.6" width="23.65" height="23.37" fill="url(#cR)"/>
<rect x="1918.3" y="29.6" width="23.65" height="23.37" fill="url(#cC)"/>
<rect x="1705.9" y="52.92" width="23.65" height="23.37" fill="url(#cD)"/>
<rect x="1729.5" y="52.92" width="23.65" height="23.37" fill="url(#cD)"/>
<rect x="1753.1" y="52.92" width="23.65" height="23.37" fill="url(#cR)"/>
<rect x="1776.7" y="52.92" width="23.65" height="23.37" fill="url(#cB)"/>
<rect x="1800.3" y="52.92" width="23.65" height="23.37" fill="url(#cR)"/>
<rect x="1823.9" y="52.92" width="23.65" height="23.37" fill="url(#cC)"/>
<rect x="1847.5" y="52.92" width="23.65" height="23.37" fill="url(#cD)"/>
<rect x="1871.1" y="52.92" width="23.65" height="23.37" fill="url(#cR)"/>
<rect x="1894.7" y="52.92" width="23.65" height="23.37" fill="url(#cB)"/>
<rect x="1918.3" y="52.92" width="23.65" height="23.37" fill="url(#cR)"/>
<rect x="1705.9" y="76.24" width="23.65" height="23.37" fill="url(#cB)"/>
<rect x="1729.5" y="76.24" width="23.65" height="23.37" fill="url(#cC)"/>
<rect x="1753.1" y="76.24" width="23.65" height="23.37" fill="url(#cC)"/>
<rect x="1776.7" y="76.24" width="23.65" height="23.37" fill="url(#cB)"/>
<rect x="1800.3" y="76.24" width="23.65" height="23.37" fill="url(#cD)"/>
<rect x="1823.9" y="76.24" width="23.65" height="23.37" fill="url(#cB)"/>
<rect x="1847.5" y="76.24" width="23.65" height="23.37" fill="url(#cC)"/>
<rect x="1871.1" y="76.24" width="23.65" height="23.37" fill="url(#cD)"/>
<rect x="1894.7" y="76.24" width="23.65" height="23.37" fill="url(#cB)"/>
<rect x="1918.3" y="76.24" width="23.65" height="23.37" fill="url(#cD)"/>
<rect x="1705.9" y="99.56" width="23.65" height="23.37" fill="url(#cR)"/>
<rect x="1729.5" y="99.56" width="23.65" height="23.37" fill="url(#cR)"/>
<rect x="1753.1" y="99.56" width="23.65" height="23.37" fill="url(#cB)"/>
<rect x="1776.7" y="99.56" width="23.65" height="23.37" fill="url(#cC)"/>
<rect x="1800.3" y="99.56" width="23.65" height="23.37" fill="url(#cD)"/>
<rect x="1823.9" y="99.56" width="23.65" height="23.37" fill="url(#cR)"/>
<rect x="1847.5" y="99.56" width="23.65" height="23.37" fill="url(#cD)"/>
<rect x="1871.1" y="99.56" width="23.65" height="23.37" fill="url(#cB)"/>
<rect x="1894.7" y="99.56" width="23.65" height="23.37" fill="url(#cC)"/>
<rect x="1918.3" y="99.56" width="23.65" height="23.37" fill="url(#cD)"/>
<rect x="1705.9" y="122.88" width="23.65" height="23.37" fill="url(#cD)"/>
<rect x="1729.5" y="122.88" width="23.65" height="23.37" fill="url(#cC)"/>
<rect x="1753.1" y="122.88" width="23.65" height="23.37" fill="url(#cC)"/>
<rect x="1776.7" y="122.88" width="23.65" height="23.37" fill="url(#cB)"/>
<rect x="1800.3" y="122.88" width="23.65" height="23.37" fill="url(#cB)"/>
<rect x="1823.9" y="122.88" width="23.65" height="23.37" fill="url(#cD)"/>
<rect x="1847.5" y="122.88" width="23.65" height="23.37" fill="url(#cR)"/>
<rect x="1871.1" y="122.88" width="23.65" height="23.37" fill="url(#cC)"/>
<rect x="1894.7" y="122.88" width="23.65" height="23.37" fill="url(#cB)"/>
<rect x="1918.3" y="122.88" width="23.65" height="23.37" fill="url(#cB)"/>
<rect x="1705.9" y="146.2" width="23.65" height="23.37" fill="url(#cR)"/>
<rect x="1729.5" y="146.2" width="23.65" height="23.37" fill="url(#cD)"/>
<rect x="1753.1" y="146.2" width="23.65" height="23.37" fill="url(#cC)"/>
<rect x="1776.7" y="146.2" width="23.65" height="23.37" fill="url(#cD)"/>
<rect x="1800.3" y="146.2" width="23.65" height="23.37" fill="url(#cC)"/>
<rect x="1823.9" y="146.2" width="23.65" height="23.37" fill="url(#cD)"/>
<rect x="1847.5" y="146.2" width="23.65" height="23.37" fill="url(#cC)"/>
<rect x="1871.1" y="146.2" width="23.65" height="23.37" fill="url(#cD)"/>
<rect x="1894.7" y="146.2" width="23.65" height="23.37" fill="url(#cC)"/>
<rect x="1918.3" y="146.2" width="23.65" height="23.37" fill="url(#cR)"/>
<rect x="1705.9" y="169.52" width="23.65" height="23.37" fill="url(#cD)"/>
<rect x="1729.5" y="169.52" width="23.65" height="23.37" fill="url(#cD)"/>
<rect x="1753.1" y="169.52" width="23.65" height="23.37" fill="url(#cC)"/>
<rect x="1776.7" y="169.52" width="23.65" height="23.37" fill="url(#cB)"/>
<rect x="1800.3" y="169.52" width="23.65" height="23.37" fill="url(#cC)"/>
<rect x="1823.9" y="169.52" width="23.65" height="23.37" fill="url(#cR)"/>
<rect x="1847.5" y="169.52" width="23.65" height="23.37" fill="url(#cD)"/>
<rect x="1871.1" y="169.52" width="23.65" height="23.37" fill="url(#cC)"/>
<rect x="1894.7" y="169.52" width="23.65" height="23.37" fill="url(#cB)"/>
<rect x="1918.3" y="169.52" width="23.65" height="23.37" fill="url(#cC)"/>
<rect x="1705.9" y="192.84" width="23.65" height="23.37" fill="url(#cB)"/>
<rect x="1729.5" y="192.84" width="23.65" height="23.37" fill="url(#cR)"/>
<rect x="1753.1" y="192.84" width="23.65" height="23.37" fill="url(#cR)"/>
<rect x="1776.7" y="192.84" width="23.65" height="23.37" fill="url(#cB)"/>
<rect x="1800.3" y="192.84" width="23.65" height="23.37" fill="url(#cD)"/>
<rect x="1823.9" y="192.84" width="23.65" height="23.37" fill="url(#cB)"/>
<rect x="1847.5" y="192.84" width="23.65" height="23.37" fill="url(#cR)"/>
<rect x="1871.1" y="192.84" width="23.65" height="23.37" fill="url(#cD)"/>
<rect x="1894.7" y="192.84" width="23.65" height="23.37" fill="url(#cB)"/>
<rect x="1918.3" y="192.84" width="23.65" height="23.37" fill="url(#cD)"/>
<rect x="1705.9" y="216.16" width="23.65" height="23.37" fill="url(#cC)"/>
<rect x="1729.5" y="216.16" width="23.65" height="23.37" fill="url(#cC)"/>
<rect x="1753.1" y="216.16" width="23.65" height="23.37" fill="url(#cB)"/>
<rect x="1776.7" y="216.16" width="23.65" height="23.37" fill="url(#cR)"/>
<rect x="1800.3" y="216.16" width="23.65" height="23.37" fill="url(#cD)"/>
<rect x="1823.9" y="216.16" width="23.65" height="23.37" fill="url(#cC)"/>
<rect x="1847.5" y="216.16" width="23.65" height="23.37" fill="url(#cD)"/>
<rect x="1871.1" y="216.16" width="23.65" height="23.37" fill="url(#cB)"/>
<rect x="1894.7" y="216.16" width="23.65" height="23.37" fill="url(#cR)"/>
<rect x="1918.3" y="216.16" width="23.65" height="23.37" fill="url(#cD)"/>
<rect x="1705.9" y="239.48" width="23.65" height="23.37" fill="url(#cD)"/>
<rect x="1729.5" y="239.48" width="23.65" height="23.37" fill="url(#cR)"/>
<rect x="1753.1" y="239.48" width="23.65" height="23.37" fill="url(#cR)"/>
<rect x="1776.7" y="239.48" width="23.65" height="23.37" fill="url(#cB)"/>
<rect x="1800.3" y="239.48" width="23.65" height="23.37" fill="url(#cB)"/>
<rect x="1823.9" y="239.48" width="23.65" height="23.37" fill="url(#cD)"/>
<rect x="1847.5" y="239.48" width="23.65" height="23.37" fill="url(#cC)"/>
<rect x="1871.1" y="239.48" width="23.65" height="23.37" fill="url(#cR)"/>
<rect x="1894.7" y="239.48" width="23.65" height="23.37" fill="url(#cB)"/>
<rect x="1918.3" y="239.48" width="23.65" height="23.37" fill="url(#cB)"/>
<rect x="1705.9" y="29.6" width="236.0" height="233.2" fill="url(#bLight)"/>
<line x1="1942.5" y1="29.6" x2="1942.5" y2="262.8" stroke="#0a5a4c" stroke-width="1.2"/>
<circle cx="1837.4" cy="148.9" r="24.3" fill="none" stroke="#e81818" stroke-width="2" stroke-dasharray="3.2 2.2"/>
<line x1="1810.2" y1="170.6" x2="1779.8" y2="279.2" stroke="#e81818" stroke-width="2" stroke-dasharray="9 5"/>
<line x1="1810.2" y1="170.6" x2="1862.3" y2="279.2" stroke="#e81818" stroke-width="2" stroke-dasharray="9 5"/>
<rect x="1697.4" y="279.1" width="252.3" height="237" fill="#6c6c6c"/>
<svg x="1697.4" y="279.1" width="252.3" height="237" viewBox="1697.4 279.1 252.3 237" overflow="hidden">
<path d="M 1713.5 302.79 H 1708.5 V 281.79 H 1729.5 V 302.79 H 1725" fill="none" stroke="#e2e2e2" stroke-width="1.6"/>
<rect x="1711.2" y="284.49" width="15.6" height="15.6" fill="#c6c6c6"/>
<path d="M 1743.35 302.79 H 1738.35 V 281.79 H 1759.35 V 302.79 H 1754.85" fill="none" stroke="#e2e2e2" stroke-width="1.6"/>
<rect x="1741.05" y="284.49" width="15.6" height="15.6" fill="#c6c6c6"/>
<path d="M 1773.2 302.79 H 1768.2 V 281.79 H 1789.2 V 302.79 H 1784.7" fill="none" stroke="#e2e2e2" stroke-width="1.6"/>
<rect x="1770.9" y="284.49" width="15.6" height="15.6" fill="#c6c6c6"/>
<path d="M 1803.05 302.79 H 1798.05 V 281.79 H 1819.05 V 302.79 H 1814.55" fill="none" stroke="#e2e2e2" stroke-width="1.6"/>
<rect x="1800.75" y="284.49" width="15.6" height="15.6" fill="#c6c6c6"/>
<path d="M 1848.9 286.09 V 281.79 H 1827.9 V 302.79 H 1848.9 V 298.49" fill="none" stroke="#e2e2e2" stroke-width="1.6"/>
<rect x="1834.5" y="288.39" width="7.8" height="7.8" fill="#bcbcbc"/>
<path d="M 1878.75 286.09 V 281.79 H 1857.75 V 302.79 H 1878.75 V 298.49" fill="none" stroke="#e2e2e2" stroke-width="1.6"/>
<rect x="1864.35" y="288.39" width="7.8" height="7.8" fill="#bcbcbc"/>
<path d="M 1908.6 286.09 V 281.79 H 1887.6 V 302.79 H 1908.6 V 298.49" fill="none" stroke="#e2e2e2" stroke-width="1.6"/>
<rect x="1894.2" y="288.39" width="7.8" height="7.8" fill="#bcbcbc"/>
<path d="M 1938.45 286.09 V 281.79 H 1917.45 V 302.79 H 1938.45 V 298.49" fill="none" stroke="#e2e2e2" stroke-width="1.6"/>
<rect x="1924.05" y="288.39" width="7.8" height="7.8" fill="#bcbcbc"/>
<path d="M 1713.5 332.64 H 1708.5 V 311.64 H 1729.5 V 332.64 H 1725" fill="none" stroke="#e2e2e2" stroke-width="1.6"/>
<rect x="1711.2" y="314.34" width="15.6" height="15.6" fill="#c6c6c6"/>
<path d="M 1743.35 332.64 H 1738.35 V 311.64 H 1759.35 V 332.64 H 1754.85" fill="none" stroke="#e2e2e2" stroke-width="1.6"/>
<rect x="1741.05" y="314.34" width="15.6" height="15.6" fill="#c6c6c6"/>
<path d="M 1773.2 332.64 H 1768.2 V 311.64 H 1789.2 V 332.64 H 1784.7" fill="none" stroke="#e2e2e2" stroke-width="1.6"/>
<rect x="1770.9" y="314.34" width="15.6" height="15.6" fill="#c6c6c6"/>
<path d="M 1803.05 332.64 H 1798.05 V 311.64 H 1819.05 V 332.64 H 1814.55" fill="none" stroke="#e2e2e2" stroke-width="1.6"/>
<rect x="1800.75" y="314.34" width="15.6" height="15.6" fill="#c6c6c6"/>
<path d="M 1848.9 315.94 V 311.64 H 1827.9 V 332.64 H 1848.9 V 328.34" fill="none" stroke="#e2e2e2" stroke-width="1.6"/>
<rect x="1834.5" y="318.24" width="7.8" height="7.8" fill="#bcbcbc"/>
<path d="M 1878.75 315.94 V 311.64 H 1857.75 V 332.64 H 1878.75 V 328.34" fill="none" stroke="#e2e2e2" stroke-width="1.6"/>
<rect x="1864.35" y="318.24" width="7.8" height="7.8" fill="#bcbcbc"/>
<path d="M 1908.6 315.94 V 311.64 H 1887.6 V 332.64 H 1908.6 V 328.34" fill="none" stroke="#e2e2e2" stroke-width="1.6"/>
<rect x="1894.2" y="318.24" width="7.8" height="7.8" fill="#bcbcbc"/>
<path d="M 1938.45 315.94 V 311.64 H 1917.45 V 332.64 H 1938.45 V 328.34" fill="none" stroke="#e2e2e2" stroke-width="1.6"/>
<rect x="1924.05" y="318.24" width="7.8" height="7.8" fill="#bcbcbc"/>
<path d="M 1713.5 362.49 H 1708.5 V 341.49 H 1729.5 V 362.49 H 1725" fill="none" stroke="#e2e2e2" stroke-width="1.6"/>
<rect x="1711.2" y="344.19" width="15.6" height="15.6" fill="#c6c6c6"/>
<path d="M 1743.35 362.49 H 1738.35 V 341.49 H 1759.35 V 362.49 H 1754.85" fill="none" stroke="#e2e2e2" stroke-width="1.6"/>
<rect x="1741.05" y="344.19" width="15.6" height="15.6" fill="#c6c6c6"/>
<path d="M 1773.2 362.49 H 1768.2 V 341.49 H 1789.2 V 362.49 H 1784.7" fill="none" stroke="#e2e2e2" stroke-width="1.6"/>
<rect x="1770.9" y="344.19" width="15.6" height="15.6" fill="#c6c6c6"/>
<path d="M 1803.05 362.49 H 1798.05 V 341.49 H 1819.05 V 362.49 H 1814.55" fill="none" stroke="#e2e2e2" stroke-width="1.6"/>
<rect x="1800.75" y="344.19" width="15.6" height="15.6" fill="#c6c6c6"/>
<path d="M 1848.9 345.79 V 341.49 H 1827.9 V 362.49 H 1848.9 V 358.19" fill="none" stroke="#e2e2e2" stroke-width="1.6"/>
<rect x="1834.5" y="348.09" width="7.8" height="7.8" fill="#bcbcbc"/>
<path d="M 1878.75 345.79 V 341.49 H 1857.75 V 362.49 H 1878.75 V 358.19" fill="none" stroke="#e2e2e2" stroke-width="1.6"/>
<rect x="1864.35" y="348.09" width="7.8" height="7.8" fill="#bcbcbc"/>
<path d="M 1908.6 345.79 V 341.49 H 1887.6 V 362.49 H 1908.6 V 358.19" fill="none" stroke="#e2e2e2" stroke-width="1.6"/>
<rect x="1894.2" y="348.09" width="7.8" height="7.8" fill="#bcbcbc"/>
<path d="M 1938.45 345.79 V 341.49 H 1917.45 V 362.49 H 1938.45 V 358.19" fill="none" stroke="#e2e2e2" stroke-width="1.6"/>
<rect x="1924.05" y="348.09" width="7.8" height="7.8" fill="#bcbcbc"/>
<path d="M 1713.5 392.34 H 1708.5 V 371.34 H 1729.5 V 392.34 H 1725" fill="none" stroke="#e2e2e2" stroke-width="1.6"/>
<rect x="1711.2" y="374.04" width="15.6" height="15.6" fill="#c6c6c6"/>
<path d="M 1743.35 392.34 H 1738.35 V 371.34 H 1759.35 V 392.34 H 1754.85" fill="none" stroke="#e2e2e2" stroke-width="1.6"/>
<rect x="1741.05" y="374.04" width="15.6" height="15.6" fill="#c6c6c6"/>
<path d="M 1773.2 392.34 H 1768.2 V 371.34 H 1789.2 V 392.34 H 1784.7" fill="none" stroke="#e2e2e2" stroke-width="1.6"/>
<rect x="1770.9" y="374.04" width="15.6" height="15.6" fill="#c6c6c6"/>
<path d="M 1803.05 392.34 H 1798.05 V 371.34 H 1819.05 V 392.34 H 1814.55" fill="none" stroke="#e2e2e2" stroke-width="1.6"/>
<rect x="1800.75" y="374.04" width="15.6" height="15.6" fill="#c6c6c6"/>
<path d="M 1848.9 375.64 V 371.34 H 1827.9 V 392.34 H 1848.9 V 388.04" fill="none" stroke="#e2e2e2" stroke-width="1.6"/>
<rect x="1834.5" y="377.94" width="7.8" height="7.8" fill="#bcbcbc"/>
<path d="M 1878.75 375.64 V 371.34 H 1857.75 V 392.34 H 1878.75 V 388.04" fill="none" stroke="#e2e2e2" stroke-width="1.6"/>
<rect x="1864.35" y="377.94" width="7.8" height="7.8" fill="#bcbcbc"/>
<path d="M 1908.6 375.64 V 371.34 H 1887.6 V 392.34 H 1908.6 V 388.04" fill="none" stroke="#e2e2e2" stroke-width="1.6"/>
<rect x="1894.2" y="377.94" width="7.8" height="7.8" fill="#bcbcbc"/>
<path d="M 1938.45 375.64 V 371.34 H 1917.45 V 392.34 H 1938.45 V 388.04" fill="none" stroke="#e2e2e2" stroke-width="1.6"/>
<rect x="1924.05" y="377.94" width="7.8" height="7.8" fill="#bcbcbc"/>
<path d="M 1713.5 422.19 H 1708.5 V 401.19 H 1729.5 V 422.19 H 1725" fill="none" stroke="#e2e2e2" stroke-width="1.6"/>
<rect x="1717.3" y="409.99" width="3.4" height="3.4" fill="#e4e4e4"/>
<path d="M 1743.35 422.19 H 1738.35 V 401.19 H 1759.35 V 422.19 H 1754.85" fill="none" stroke="#e2e2e2" stroke-width="1.6"/>
<rect x="1747.15" y="409.99" width="3.4" height="3.4" fill="#e4e4e4"/>
<path d="M 1773.2 422.19 H 1768.2 V 401.19 H 1789.2 V 422.19 H 1784.7" fill="none" stroke="#e2e2e2" stroke-width="1.6"/>
<rect x="1777" y="409.99" width="3.4" height="3.4" fill="#e4e4e4"/>
<path d="M 1803.05 422.19 H 1798.05 V 401.19 H 1819.05 V 422.19 H 1814.55" fill="none" stroke="#e2e2e2" stroke-width="1.6"/>
<rect x="1806.85" y="409.99" width="3.4" height="3.4" fill="#e4e4e4"/>
<path d="M 1848.9 405.49 V 401.19 H 1827.9 V 422.19 H 1848.9 V 417.89" fill="none" stroke="#e2e2e2" stroke-width="1.6"/>
<path d="M 1878.75 405.49 V 401.19 H 1857.75 V 422.19 H 1878.75 V 417.89" fill="none" stroke="#e2e2e2" stroke-width="1.6"/>
<path d="M 1908.6 405.49 V 401.19 H 1887.6 V 422.19 H 1908.6 V 417.89" fill="none" stroke="#e2e2e2" stroke-width="1.6"/>
<path d="M 1938.45 405.49 V 401.19 H 1917.45 V 422.19 H 1938.45 V 417.89" fill="none" stroke="#e2e2e2" stroke-width="1.6"/>
<path d="M 1713.5 452.04 H 1708.5 V 431.04 H 1729.5 V 452.04 H 1725" fill="none" stroke="#e2e2e2" stroke-width="1.6"/>
<rect x="1717.3" y="439.84" width="3.4" height="3.4" fill="#e4e4e4"/>
<path d="M 1743.35 452.04 H 1738.35 V 431.04 H 1759.35 V 452.04 H 1754.85" fill="none" stroke="#e2e2e2" stroke-width="1.6"/>
<rect x="1747.15" y="439.84" width="3.4" height="3.4" fill="#e4e4e4"/>
<path d="M 1773.2 452.04 H 1768.2 V 431.04 H 1789.2 V 452.04 H 1784.7" fill="none" stroke="#e2e2e2" stroke-width="1.6"/>
<rect x="1777" y="439.84" width="3.4" height="3.4" fill="#e4e4e4"/>
<path d="M 1803.05 452.04 H 1798.05 V 431.04 H 1819.05 V 452.04 H 1814.55" fill="none" stroke="#e2e2e2" stroke-width="1.6"/>
<rect x="1806.85" y="439.84" width="3.4" height="3.4" fill="#e4e4e4"/>
<path d="M 1848.9 435.34 V 431.04 H 1827.9 V 452.04 H 1848.9 V 447.74" fill="none" stroke="#e2e2e2" stroke-width="1.6"/>
<path d="M 1878.75 435.34 V 431.04 H 1857.75 V 452.04 H 1878.75 V 447.74" fill="none" stroke="#e2e2e2" stroke-width="1.6"/>
<path d="M 1908.6 435.34 V 431.04 H 1887.6 V 452.04 H 1908.6 V 447.74" fill="none" stroke="#e2e2e2" stroke-width="1.6"/>
<path d="M 1938.45 435.34 V 431.04 H 1917.45 V 452.04 H 1938.45 V 447.74" fill="none" stroke="#e2e2e2" stroke-width="1.6"/>
<path d="M 1713.5 481.89 H 1708.5 V 460.89 H 1729.5 V 481.89 H 1725" fill="none" stroke="#e2e2e2" stroke-width="1.6"/>
<rect x="1717.3" y="469.69" width="3.4" height="3.4" fill="#e4e4e4"/>
<path d="M 1743.35 481.89 H 1738.35 V 460.89 H 1759.35 V 481.89 H 1754.85" fill="none" stroke="#e2e2e2" stroke-width="1.6"/>
<rect x="1747.15" y="469.69" width="3.4" height="3.4" fill="#e4e4e4"/>
<path d="M 1773.2 481.89 H 1768.2 V 460.89 H 1789.2 V 481.89 H 1784.7" fill="none" stroke="#e2e2e2" stroke-width="1.6"/>
<rect x="1777" y="469.69" width="3.4" height="3.4" fill="#e4e4e4"/>
<path d="M 1803.05 481.89 H 1798.05 V 460.89 H 1819.05 V 481.89 H 1814.55" fill="none" stroke="#e2e2e2" stroke-width="1.6"/>
<rect x="1806.85" y="469.69" width="3.4" height="3.4" fill="#e4e4e4"/>
<path d="M 1848.9 465.19 V 460.89 H 1827.9 V 481.89 H 1848.9 V 477.59" fill="none" stroke="#e2e2e2" stroke-width="1.6"/>
<path d="M 1878.75 465.19 V 460.89 H 1857.75 V 481.89 H 1878.75 V 477.59" fill="none" stroke="#e2e2e2" stroke-width="1.6"/>
<path d="M 1908.6 465.19 V 460.89 H 1887.6 V 481.89 H 1908.6 V 477.59" fill="none" stroke="#e2e2e2" stroke-width="1.6"/>
<path d="M 1938.45 465.19 V 460.89 H 1917.45 V 481.89 H 1938.45 V 477.59" fill="none" stroke="#e2e2e2" stroke-width="1.6"/>
<path d="M 1713.5 511.74 H 1708.5 V 490.74 H 1729.5 V 511.74 H 1725" fill="none" stroke="#e2e2e2" stroke-width="1.6"/>
<rect x="1717.3" y="499.54" width="3.4" height="3.4" fill="#e4e4e4"/>
<path d="M 1743.35 511.74 H 1738.35 V 490.74 H 1759.35 V 511.74 H 1754.85" fill="none" stroke="#e2e2e2" stroke-width="1.6"/>
<rect x="1747.15" y="499.54" width="3.4" height="3.4" fill="#e4e4e4"/>
<path d="M 1773.2 511.74 H 1768.2 V 490.74 H 1789.2 V 511.74 H 1784.7" fill="none" stroke="#e2e2e2" stroke-width="1.6"/>
<rect x="1777" y="499.54" width="3.4" height="3.4" fill="#e4e4e4"/>
<path d="M 1803.05 511.74 H 1798.05 V 490.74 H 1819.05 V 511.74 H 1814.55" fill="none" stroke="#e2e2e2" stroke-width="1.6"/>
<rect x="1806.85" y="499.54" width="3.4" height="3.4" fill="#e4e4e4"/>
<path d="M 1848.9 495.04 V 490.74 H 1827.9 V 511.74 H 1848.9 V 507.44" fill="none" stroke="#e2e2e2" stroke-width="1.6"/>
<path d="M 1878.75 495.04 V 490.74 H 1857.75 V 511.74 H 1878.75 V 507.44" fill="none" stroke="#e2e2e2" stroke-width="1.6"/>
<path d="M 1908.6 495.04 V 490.74 H 1887.6 V 511.74 H 1908.6 V 507.44" fill="none" stroke="#e2e2e2" stroke-width="1.6"/>
<path d="M 1938.45 495.04 V 490.74 H 1917.45 V 511.74 H 1938.45 V 507.44" fill="none" stroke="#e2e2e2" stroke-width="1.6"/>
<line x1="1698.9" y1="281.29" x2="1698.9" y2="303.29" stroke="#e2e2e2" stroke-width="2"/>
<line x1="1948.2" y1="281.29" x2="1948.2" y2="303.29" stroke="#e2e2e2" stroke-width="2"/>
<line x1="1698.9" y1="311.14" x2="1698.9" y2="333.14" stroke="#e2e2e2" stroke-width="2"/>
<line x1="1948.2" y1="311.14" x2="1948.2" y2="333.14" stroke="#e2e2e2" stroke-width="2"/>
<line x1="1698.9" y1="340.99" x2="1698.9" y2="362.99" stroke="#e2e2e2" stroke-width="2"/>
<line x1="1948.2" y1="340.99" x2="1948.2" y2="362.99" stroke="#e2e2e2" stroke-width="2"/>
<line x1="1698.9" y1="370.84" x2="1698.9" y2="392.84" stroke="#e2e2e2" stroke-width="2"/>
<line x1="1948.2" y1="370.84" x2="1948.2" y2="392.84" stroke="#e2e2e2" stroke-width="2"/>
<line x1="1698.9" y1="400.69" x2="1698.9" y2="422.69" stroke="#e2e2e2" stroke-width="2"/>
<line x1="1948.2" y1="400.69" x2="1948.2" y2="422.69" stroke="#e2e2e2" stroke-width="2"/>
<line x1="1698.9" y1="430.54" x2="1698.9" y2="452.54" stroke="#e2e2e2" stroke-width="2"/>
<line x1="1948.2" y1="430.54" x2="1948.2" y2="452.54" stroke="#e2e2e2" stroke-width="2"/>
<line x1="1698.9" y1="460.39" x2="1698.9" y2="482.39" stroke="#e2e2e2" stroke-width="2"/>
<line x1="1948.2" y1="460.39" x2="1948.2" y2="482.39" stroke="#e2e2e2" stroke-width="2"/>
<line x1="1698.9" y1="490.24" x2="1698.9" y2="512.24" stroke="#e2e2e2" stroke-width="2"/>
<line x1="1948.2" y1="490.24" x2="1948.2" y2="512.24" stroke="#e2e2e2" stroke-width="2"/>
</svg>
<svg x="58.8" y="533.8" width="431.2" height="323.4" viewBox="58.8 533.8 431.2 323.4" overflow="hidden">
<rect x="58.8" y="533.8" width="431.2" height="323.4" fill="url(#chamberTop)"/>
<polygon points="275.57,592.08 360.41,275.24 377.15,280.21" fill="#2f5eb6"/>
<polygon points="275.68,592.12 377.15,280.21 397.08,287.41" fill="#2a56ae"/>
<polygon points="275.76,592.15 397.08,287.41 403.53,290.06" fill="#121832"/>
<polygon points="275.84,592.18 403.53,290.06 422.07,298.59" fill="#23489a"/>
<polygon points="275.92,592.23 422.07,298.59 432.86,304.21" fill="#1b3574"/>
<polygon points="276.01,592.27 432.86,304.21 449.41,313.85" fill="#23489a"/>
<polygon points="276.1,592.33 449.41,313.85 462.27,322.29" fill="#2f5eb6"/>
<polygon points="276.18,592.39 462.27,322.29 476.94,333" fill="#2a56ae"/>
<polygon points="276.27,592.46 476.94,333 493.06,346.31" fill="#23489a"/>
<polygon points="276.33,592.51 493.06,346.31 497.14,349.97" fill="#121832"/>
<polygon points="276.36,592.53 497.14,349.97 500.63,353.19" fill="#121832"/>
<polygon points="276.4,592.57 500.63,353.19 512,364.37" fill="#2a56ae"/>
<polygon points="276.47,592.65 512,364.37 524.48,378" fill="#2f5eb6"/>
<polygon points="276.52,592.7 524.48,378 527.73,381.8" fill="#121832"/>
<polygon points="276.56,592.75 527.73,381.8 537.42,393.92" fill="#1b3574"/>
<polygon points="276.63,592.84 537.42,393.92 549.63,411.02" fill="#26509f"/>
<polygon points="276.68,592.91 549.63,411.02 554.03,417.82" fill="#121832"/>
<polygon points="276.71,592.96 554.03,417.82 559.62,426.99" fill="#1b3574"/>
<polygon points="276.75,593.03 559.62,426.99 567.12,440.49" fill="#1f4088"/>
<polygon points="276.8,593.13 567.12,440.49 576.9,460.75" fill="#26509f"/>
<polygon points="276.84,593.21 576.9,460.75 579.11,465.87" fill="#121832"/>
<polygon points="276.86,593.27 579.11,465.87 585.07,481.06" fill="#26509f"/>
<polygon points="276.89,593.35 585.07,481.06 588.76,491.74" fill="#26509f"/>
<polygon points="276.91,593.4 588.76,491.74 591.06,499.1" fill="#121832"/>
<polygon points="276.93,593.47 591.06,499.1 594.88,512.9" fill="#23489a"/>
<polygon points="276.95,593.57 594.88,512.9 599.2,532.39" fill="#23489a"/>
<polygon points="276.97,593.65 599.2,532.39 600.57,540.14" fill="#121832"/>
<polygon points="276.98,593.69 600.57,540.14 601.61,546.81" fill="#121832"/>
<polygon points="276.99,593.77 601.61,546.81 603.78,565.69" fill="#2a56ae"/>
<polygon points="277,593.87 603.78,565.69 604.63,578.44" fill="#26509f"/>
<polygon points="277,593.95 604.63,578.44 605,594.12" fill="#2f5eb6"/>
<polygon points="277,594.02 605,594.12 604.93,600.66" fill="#121832"/>
<polygon points="277,594.06 604.93,600.66 604.76,606.51" fill="#121832"/>
<polygon points="277,594.14 604.76,606.51 603.35,627.01" fill="#1f4088"/>
<polygon points="276.99,594.23 603.35,627.01 602.11,637.55" fill="#2a56ae"/>
<polygon points="276.97,594.33 602.11,637.55 598.64,658.45" fill="#26509f"/>
<polygon points="276.95,594.42 598.64,658.45 596.34,669.11" fill="#2a56ae"/>
<polygon points="276.94,594.47 596.34,669.11 594.97,674.74" fill="#121832"/>
<polygon points="276.93,594.53 594.97,674.74 591.1,688.75" fill="#1f4088"/>
<polygon points="276.91,594.61 591.1,688.75 587.67,699.53" fill="#2a56ae"/>
<polygon points="276.88,594.68 587.67,699.53 583.11,712.18" fill="#1b3574"/>
<polygon points="276.85,594.77 583.11,712.18 576.11,729.03" fill="#2a56ae"/>
<polygon points="276.8,594.86 576.11,729.03 568.99,743.9" fill="#1b3574"/>
<polygon points="276.77,594.93 568.99,743.9 566.03,749.56" fill="#121832"/>
<polygon points="276.74,594.98 566.03,749.56 559.02,762.03" fill="#2a56ae"/>
<polygon points="276.7,595.05 559.02,762.03 551.89,773.53" fill="#2a56ae"/>
<polygon points="276.67,595.11 551.89,773.53 547.74,779.78" fill="#121832"/>
<polygon points="276.62,595.17 547.74,779.78 536.55,795.22" fill="#2f5eb6"/>
<polygon points="276.55,595.26 536.55,795.22 525.18,809.2" fill="#2f5eb6"/>
<polygon points="276.51,595.32 525.18,809.2 521.82,813.04" fill="#121832"/>
<polygon points="276.47,595.36 521.82,813.04 512.58,823.03" fill="#26509f"/>
<polygon points="276.41,595.42 512.58,823.03 502.93,832.64" fill="#1b3574"/>
<polygon points="276.34,595.48 502.93,832.64 490.37,844.03" fill="#26509f"/>
<polygon points="276.28,595.54 490.37,844.03 481.16,851.68" fill="#2f5eb6"/>
<polygon points="276.2,595.6 481.16,851.68 464.22,864.36" fill="#1b3574"/>
<polygon points="276.13,595.65 464.22,864.36 459.62,867.53" fill="#121832"/>
<polygon points="276.07,595.69 459.62,867.53 442.84,878.13" fill="#23489a"/>
<polygon points="276.01,595.73 442.84,878.13 440,879.79" fill="#121832"/>
<polygon points="283.1,569.07 285.52,565.45 284.17,565.01" fill="#1a1a22"/>
<polygon points="284.53,564.68 287.37,560.41 285.79,559.9" fill="#1a1a22"/>
<polygon points="286.3,559.23 289.67,554.17 287.79,553.56" fill="#1a1a22"/>
<polygon points="288.51,552.43 292.54,546.39 290.29,545.66" fill="#1a1a22"/>
<polygon points="290.86,545.19 295.59,538.09 292.96,537.23" fill="#1a1a22"/>
<polygon points="293.8,536.14 299.41,527.73 296.29,526.71" fill="#1a1a22"/>
<polygon points="297.76,523.94 304.56,513.76 300.77,512.53" fill="#1a1a22"/>
<polygon points="302.66,508.88 310.91,496.5 306.32,495.01" fill="#1a1a22"/>
<polygon points="308.18,491.89 318.08,477.05 312.57,475.26" fill="#1a1a22"/>
<polygon points="314.85,471.35 326.75,453.52 320.12,451.37" fill="#1a1a22"/>
<polygon points="322.66,447.3 336.89,425.98 328.97,423.4" fill="#1a1a22"/>
<polygon points="330.99,421.67 347.71,396.62 338.4,393.59" fill="#1a1a22"/>
<polygon points="340.49,392.43 360.04,363.12 349.16,359.59" fill="#1a1a22"/>
<polygon points="351.55,358.39 374.41,324.14 361.68,320" fill="#1a1a22"/>
<polygon points="367.76,308.52 395.45,267.01 380.03,262" fill="#1a1a22"/>
<polygon points="286.1,571.13 288.91,567.97 287.67,567.37" fill="#1a1a22"/>
<polygon points="288.31,566.59 291.67,562.8 290.19,562.08" fill="#1a1a22"/>
<polygon points="290.85,561.34 294.85,556.83 293.09,555.98" fill="#1a1a22"/>
<polygon points="294.07,554.71 298.89,549.29 296.76,548.26" fill="#1a1a22"/>
<polygon points="297.56,547.51 303.26,541.09 300.75,539.87" fill="#1a1a22"/>
<polygon points="302.43,537.47 309.37,529.66 306.31,528.18" fill="#1a1a22"/>
<polygon points="307.14,527.77 315.27,518.62 311.69,516.89" fill="#1a1a22"/>
<polygon points="313.38,514.91 323.09,503.98 318.81,501.91" fill="#1a1a22"/>
<polygon points="321.19,498.82 332.86,485.67 327.73,483.18" fill="#1a1a22"/>
<polygon points="330.95,478.72 345.09,462.79 338.86,459.77" fill="#1a1a22"/>
<polygon points="342.33,455.28 359.34,436.11 351.85,432.47" fill="#1a1a22"/>
<polygon points="355.91,427.28 376.36,404.25 367.36,399.88" fill="#1a1a22"/>
<polygon points="372.58,392.93 397.25,365.15 386.39,359.88" fill="#1a1a22"/>
<polygon points="393.26,350.32 423.15,316.65 409.99,310.26" fill="#1a1a22"/>
<polygon points="415.13,305.26 450.54,265.37 434.95,257.8" fill="#1a1a22"/>
<polygon points="298.47,558.66 303.82,554.06 301.91,552.8" fill="#1a1a22"/>
<polygon points="302.88,552.02 309.23,546.56 306.97,545.05" fill="#1a1a22"/>
<polygon points="308.63,543.37 316.28,536.78 313.55,534.97" fill="#1a1a22"/>
<polygon points="315.67,532.77 324.93,524.8 321.62,522.6" fill="#1a1a22"/>
<polygon points="323.62,520.8 334.69,511.27 330.74,508.65" fill="#1a1a22"/>
<polygon points="333.25,506.3 346.51,494.89 341.78,491.75" fill="#1a1a22"/>
<polygon points="344.1,489.96 359.84,476.42 354.22,472.69" fill="#1a1a22"/>
<polygon points="357.64,469.57 376.46,453.38 369.74,448.92" fill="#1a1a22"/>
<polygon points="373.94,445.03 396.47,425.65 388.43,420.31" fill="#1a1a22"/>
<polygon points="390.94,419.43 417.35,396.72 407.92,390.46" fill="#1a1a22"/>
<polygon points="413.98,384.75 445.63,357.52 434.33,350.01" fill="#1a1a22"/>
<polygon points="443.95,339.61 482.43,306.52 468.7,297.39" fill="#1a1a22"/>
<polygon points="296.4,569.19 300.94,566.18 299.6,565.02" fill="#1a1a22"/>
<polygon points="300.75,564.14 306.22,560.52 304.6,559.13" fill="#1a1a22"/>
<polygon points="305.8,558.29 312.33,553.96 310.4,552.3" fill="#1a1a22"/>
<polygon points="311.62,551.54 319.39,546.39 317.1,544.41" fill="#1a1a22"/>
<polygon points="319.25,542.7 328.64,536.48 325.86,534.09" fill="#1a1a22"/>
<polygon points="326.86,533.87 337.86,526.58 334.61,523.78" fill="#1a1a22"/>
<polygon points="337.44,521.6 350.69,512.83 346.78,509.46" fill="#1a1a22"/>
<polygon points="348.02,509.34 363.51,499.08 358.94,495.13" fill="#1a1a22"/>
<polygon points="362.39,492.67 380.93,480.39 375.46,475.67" fill="#1a1a22"/>
<polygon points="379.09,473.31 401.18,458.68 394.66,453.06" fill="#1a1a22"/>
<polygon points="397.73,451.7 423.77,434.45 416.08,427.82" fill="#1a1a22"/>
<polygon points="422.46,423.02 453.75,402.3 444.51,394.33" fill="#1a1a22"/>
<polygon points="450.75,390.21 488.04,365.52 477.04,356.02" fill="#1a1a22"/>
<polygon points="485.46,349.97 530.12,320.39 516.94,309.03" fill="#1a1a22"/>
<polygon points="293.31,576.65 297.02,574.7 296.09,573.71" fill="#1a1a22"/>
<polygon points="296.65,573.48 301.04,571.18 299.93,570.01" fill="#1a1a22"/>
<polygon points="300.99,569.37 306.26,566.6 304.93,565.19" fill="#1a1a22"/>
<polygon points="305.61,564.99 311.82,561.73 310.25,560.07" fill="#1a1a22"/>
<polygon points="311.01,559.88 318.3,556.04 316.46,554.1" fill="#1a1a22"/>
<polygon points="318.62,552.67 327.46,548.02 325.23,545.66" fill="#1a1a22"/>
<polygon points="327.33,544.41 337.94,538.83 335.26,536.01" fill="#1a1a22"/>
<polygon points="337.23,535.03 349.84,528.4 346.66,525.04" fill="#1a1a22"/>
<polygon points="350.35,522.6 365.62,514.57 361.77,510.5" fill="#1a1a22"/>
<polygon points="364.19,509.48 382.27,499.98 377.71,495.16" fill="#1a1a22"/>
<polygon points="382.03,492.58 403.72,481.17 398.24,475.39" fill="#1a1a22"/>
<polygon points="401.03,474.58 426.57,461.14 420.12,454.34" fill="#1a1a22"/>
<polygon points="424.81,452.05 455.17,436.08 447.5,427.99" fill="#1a1a22"/>
<polygon points="455.78,422.71 492.41,403.44 483.16,393.67" fill="#1a1a22"/>
<polygon points="494.08,386.41 538.47,363.06 527.26,351.23" fill="#1a1a22"/>
<polygon points="304.16,571.78 309.83,569.54 308.63,567.96" fill="#1a1a22"/>
<polygon points="309.5,567.71 316.21,565.06 314.79,563.19" fill="#1a1a22"/>
<polygon points="315.53,563.12 323.4,560.01 321.73,557.82" fill="#1a1a22"/>
<polygon points="323.3,557.2 332.69,553.48 330.7,550.88" fill="#1a1a22"/>
<polygon points="333.36,549.54 344.69,545.05 342.29,541.9" fill="#1a1a22"/>
<polygon points="345.54,540.26 359.24,534.83 356.34,531.02" fill="#1a1a22"/>
<polygon points="359.8,529.39 376.27,522.87 372.78,518.29" fill="#1a1a22"/>
<polygon points="377.91,515.59 397.9,507.68 393.67,502.12" fill="#1a1a22"/>
<polygon points="396.56,501.38 420.18,492.03 415.18,485.47" fill="#1a1a22"/>
<polygon points="417.97,485.07 445.75,474.07 439.87,466.35" fill="#1a1a22"/>
<polygon points="445.09,464.41 478.13,451.33 471.13,442.15" fill="#1a1a22"/>
<polygon points="475.91,440.93 514.94,425.48 506.68,414.63" fill="#1a1a22"/>
<polygon points="511.72,413.64 557.72,395.43 547.98,382.65" fill="#1a1a22"/>
<polygon points="305.07,576.34 310.68,574.86 309.73,573.24" fill="#1a1a22"/>
<polygon points="310.58,573.1 317.22,571.36 316.09,569.44" fill="#1a1a22"/>
<polygon points="317.99,568.75 326.01,566.64 324.64,564.32" fill="#1a1a22"/>
<polygon points="327.24,563.32 336.98,560.76 335.32,557.94" fill="#1a1a22"/>
<polygon points="337.15,557.5 348.74,554.45 346.77,551.1" fill="#1a1a22"/>
<polygon points="347.82,551.23 361.39,547.67 359.08,543.73" fill="#1a1a22"/>
<polygon points="360.16,543.98 376.04,539.81 373.34,535.21" fill="#1a1a22"/>
<polygon points="378.04,533.48 397.25,528.44 393.98,522.87" fill="#1a1a22"/>
<polygon points="395.55,523.2 418.03,517.29 414.2,510.78" fill="#1a1a22"/>
<polygon points="419.9,508.89 446.92,501.8 442.32,493.97" fill="#1a1a22"/>
<polygon points="448.22,492.27 480.51,483.78 475.02,474.43" fill="#1a1a22"/>
<polygon points="479.89,473.67 518.08,463.63 511.59,452.57" fill="#1a1a22"/>
<polygon points="522.09,448.88 568.16,436.78 560.32,423.43" fill="#1a1a22"/>
<polygon points="305.9,579.58 311.49,578.66 310.71,576.99" fill="#1a1a22"/>
<polygon points="311.12,577.14 317.66,576.07 316.75,574.12" fill="#1a1a22"/>
<polygon points="318.63,573.64 326.53,572.34 325.43,569.99" fill="#1a1a22"/>
<polygon points="326.46,569.98 335.77,568.46 334.48,565.68" fill="#1a1a22"/>
<polygon points="335.45,565.79 346.4,563.99 344.87,560.73" fill="#1a1a22"/>
<polygon points="345.75,560.98 358.55,558.88 356.77,555.06" fill="#1a1a22"/>
<polygon points="359.77,554.44 375.11,551.92 372.97,547.35" fill="#1a1a22"/>
<polygon points="375.82,546.94 394.07,543.95 391.53,538.51" fill="#1a1a22"/>
<polygon points="395.81,537.62 417.68,534.03 414.63,527.51" fill="#1a1a22"/>
<polygon points="419.91,526.37 446.14,522.07 442.48,514.25" fill="#1a1a22"/>
<polygon points="449.87,512.39 481.52,507.2 477.11,497.76" fill="#1a1a22"/>
<polygon points="487.29,494.92 525.71,488.62 520.36,477.16" fill="#1a1a22"/>
<polygon points="529.93,475.02 576.07,467.46 569.65,453.69" fill="#1a1a22"/>
<polygon points="302.08,584.89 306.83,584.65 306.33,583.19" fill="#1a1a22"/>
<polygon points="306.65,583.35 312.19,583.07 311.61,581.37" fill="#1a1a22"/>
<polygon points="312.68,581.32 319.28,580.99 318.59,578.96" fill="#1a1a22"/>
<polygon points="320.3,578.76 328.24,578.36 327.41,575.91" fill="#1a1a22"/>
<polygon points="328.3,576.07 337.64,575.6 336.67,572.72" fill="#1a1a22"/>
<polygon points="337.95,572.82 348.98,572.27 347.84,568.87" fill="#1a1a22"/>
<polygon points="349.57,568.91 362.64,568.25 361.28,564.23" fill="#1a1a22"/>
<polygon points="364.6,563.86 380.29,563.07 378.66,558.23" fill="#1a1a22"/>
<polygon points="381.89,558.04 400.61,557.1 398.67,551.33" fill="#1a1a22"/>
<polygon points="403,550.94 425.42,549.81 423.09,542.9" fill="#1a1a22"/>
<polygon points="429.15,542.14 456.15,540.78 453.35,532.46" fill="#1a1a22"/>
<polygon points="457.96,532.45 490,530.84 486.68,520.96" fill="#1a1a22"/>
<polygon points="495.65,519.77 534.3,517.82 530.29,505.91" fill="#1a1a22"/>
<polygon points="542.32,504.07 589.14,501.71 584.28,487.28" fill="#1a1a22"/>
<polygon points="313.75,586.61 320.28,587.17 319.88,585.08" fill="#1a1a22"/>
<polygon points="320.5,585.32 328.17,585.98 327.7,583.53" fill="#1a1a22"/>
<polygon points="329.14,583.68 338.26,584.46 337.7,581.54" fill="#1a1a22"/>
<polygon points="339.86,581.63 350.79,582.57 350.12,579.07" fill="#1a1a22"/>
<polygon points="353.58,579.02 366.83,580.15 366.02,575.91" fill="#1a1a22"/>
<polygon points="368.21,576.23 383.92,577.58 382.96,572.54" fill="#1a1a22"/>
<polygon points="386.41,572.76 405.19,574.37 404.05,568.35" fill="#1a1a22"/>
<polygon points="409.83,568.29 432.56,570.24 431.17,562.96" fill="#1a1a22"/>
<polygon points="437.64,562.99 465.06,565.34 463.38,556.56" fill="#1a1a22"/>
<polygon points="472.33,556.37 505.6,559.23 503.57,548.58" fill="#1a1a22"/>
<polygon points="509.88,549.21 549.48,552.62 547.06,539.93" fill="#1a1a22"/>
<polygon points="556.68,540.29 604.17,544.37 601.27,529.16" fill="#1a1a22"/>
<polygon points="316.28,591.38 323.01,592.82 322.87,590.59" fill="#1a1a22"/>
<polygon points="324.49,590.86 332.55,592.59 332.38,589.91" fill="#1a1a22"/>
<polygon points="334.51,590.22 344.2,592.3 344,589.09" fill="#1a1a22"/>
<polygon points="345.12,589.55 356.54,592 356.3,588.21" fill="#1a1a22"/>
<polygon points="359.93,588.61 373.76,591.57 373.47,586.99" fill="#1a1a22"/>
<polygon points="378.19,587.45 395,591.05 394.64,585.48" fill="#1a1a22"/>
<polygon points="400.37,586.05 420.78,590.42 420.36,583.65" fill="#1a1a22"/>
<polygon points="424.66,584.51 449.03,589.72 448.52,581.64" fill="#1a1a22"/>
<polygon points="455.48,582.55 484.88,588.84 484.26,579.09" fill="#1a1a22"/>
<polygon points="488.58,580.45 523.36,587.89 522.63,576.36" fill="#1a1a22"/>
<polygon points="533.79,577.58 575.94,586.6 575.05,572.63" fill="#1a1a22"/>
<polygon points="587.9,574.15 638.86,585.05 637.79,568.16" fill="#1a1a22"/>
<polygon points="308.8,594.96 314.17,596.63 314.22,594.8" fill="#1a1a22"/>
<polygon points="315.38,595.14 321.79,597.14 321.85,594.96" fill="#1a1a22"/>
<polygon points="323.65,595.37 331.37,597.78 331.44,595.16" fill="#1a1a22"/>
<polygon points="332.96,595.64 342.16,598.51 342.25,595.38" fill="#1a1a22"/>
<polygon points="342.78,595.91 353.53,599.27 353.64,595.61" fill="#1a1a22"/>
<polygon points="356.8,596.31 369.78,600.36 369.9,595.94" fill="#1a1a22"/>
<polygon points="370.79,596.71 385.99,601.45 386.14,596.28" fill="#1a1a22"/>
<polygon points="390.56,597.26 408.9,602.99 409.08,596.75" fill="#1a1a22"/>
<polygon points="410.93,597.84 432.51,604.57 432.71,597.23" fill="#1a1a22"/>
<polygon points="435.95,598.55 461.5,606.52 461.75,597.83" fill="#1a1a22"/>
<polygon points="469.08,599.48 499.89,609.09 500.18,598.61" fill="#1a1a22"/>
<polygon points="503,600.44 539.18,611.73 539.53,599.42" fill="#1a1a22"/>
<polygon points="542.93,601.57 585.45,614.84 585.86,600.37" fill="#1a1a22"/>
<polygon points="594.58,603.03 645.31,618.86 645.79,601.6" fill="#1a1a22"/>
<polygon points="313.3,600.16 319.15,602.87 319.48,600.8" fill="#1a1a22"/>
<polygon points="321.47,601.47 328.57,604.76 328.97,602.25" fill="#1a1a22"/>
<polygon points="330.37,602.91 338.83,606.82 339.31,603.83" fill="#1a1a22"/>
<polygon points="342.2,604.81 352.46,609.56 353.05,605.93" fill="#1a1a22"/>
<polygon points="353.76,606.67 365.8,612.24 366.48,607.99" fill="#1a1a22"/>
<polygon points="367.83,608.93 382.02,615.5 382.82,610.49" fill="#1a1a22"/>
<polygon points="385.78,611.82 402.7,619.66 403.66,613.67" fill="#1a1a22"/>
<polygon points="405.93,615.06 425.93,624.32 427.07,617.25" fill="#1a1a22"/>
<polygon points="432.51,619.34 456.57,630.48 457.94,621.97" fill="#1a1a22"/>
<polygon points="463.8,624.37 492.64,637.73 494.28,627.53" fill="#1a1a22"/>
<polygon points="500.25,630.23 534.66,646.17 536.62,634" fill="#1a1a22"/>
<polygon points="547.22,637.79 588.8,657.05 591.17,642.35" fill="#1a1a22"/>
<polygon points="600.27,646.32 649.96,669.33 652.78,651.77" fill="#1a1a22"/>
<polygon points="315.42,605.04 321.39,608.63 321.99,606.45" fill="#1a1a22"/>
<polygon points="323.96,607.38 331.19,611.72 331.92,609.08" fill="#1a1a22"/>
<polygon points="332.68,609.76 341.2,614.88 342.05,611.76" fill="#1a1a22"/>
<polygon points="344.72,613.05 355.02,619.24 356.05,615.47" fill="#1a1a22"/>
<polygon points="359.68,617.14 372.18,624.65 373.43,620.08" fill="#1a1a22"/>
<polygon points="376.03,621.61 390.96,630.57 392.45,625.11" fill="#1a1a22"/>
<polygon points="395.78,627 413.63,637.72 415.41,631.2" fill="#1a1a22"/>
<polygon points="417.24,632.86 438.25,645.48 440.35,637.8" fill="#1a1a22"/>
<polygon points="444.8,640.39 469.88,655.46 472.38,646.29" fill="#1a1a22"/>
<polygon points="477.42,649.31 507.32,667.27 510.31,656.34" fill="#1a1a22"/>
<polygon points="517.31,660.21 553.1,681.7 556.68,668.62" fill="#1a1a22"/>
<polygon points="558.34,671.42 600.19,696.56 604.38,681.26" fill="#1a1a22"/>
<polygon points="305.64,606.28 310,609.62 310.66,607.96" fill="#1a1a22"/>
<polygon points="311.97,608.81 317.22,612.84 318.02,610.85" fill="#1a1a22"/>
<polygon points="319.18,611.7 325.45,616.52 326.41,614.13" fill="#1a1a22"/>
<polygon points="327.64,615.09 335.12,620.83 336.26,617.99" fill="#1a1a22"/>
<polygon points="338.24,619.33 347.21,626.23 348.58,622.81" fill="#1a1a22"/>
<polygon points="349.06,623.67 359.57,631.75 361.18,627.75" fill="#1a1a22"/>
<polygon points="363.42,629.42 375.97,639.06 377.88,634.29" fill="#1a1a22"/>
<polygon points="380.03,636.07 394.94,647.53 397.21,641.86" fill="#1a1a22"/>
<polygon points="402.49,645.07 420.59,658.98 423.35,652.1" fill="#1a1a22"/>
<polygon points="429.56,655.91 451.51,672.78 454.85,664.43" fill="#1a1a22"/>
<polygon points="457.53,667.12 483.44,687.03 487.39,677.17" fill="#1a1a22"/>
<polygon points="492.34,681.06 523.19,704.77 527.9,693.03" fill="#1a1a22"/>
<polygon points="530.17,696.22 566.4,724.06 571.92,710.28" fill="#1a1a22"/>
<polygon points="578.36,715.52 621.42,748.61 627.99,732.23" fill="#1a1a22"/>
<polygon points="305.04,611.02 309.09,615.1 310,613.47" fill="#1a1a22"/>
<polygon points="310.55,614.14 315.33,618.96 316.42,617.04" fill="#1a1a22"/>
<polygon points="316.85,617.71 322.48,623.38 323.76,621.12" fill="#1a1a22"/>
<polygon points="325.12,622.39 331.86,629.19 333.39,626.49" fill="#1a1a22"/>
<polygon points="335.77,628.42 343.94,636.67 345.8,633.39" fill="#1a1a22"/>
<polygon points="346.35,634.42 355.95,644.1 358.13,640.25" fill="#1a1a22"/>
<polygon points="361.01,642.72 372.58,654.39 375.21,649.75" fill="#1a1a22"/>
<polygon points="375.55,650.96 389.08,664.6 392.15,659.17" fill="#1a1a22"/>
<polygon points="393.38,661.06 409.31,677.12 412.93,670.73" fill="#1a1a22"/>
<polygon points="414.56,673.06 433.33,691.99 437.6,684.46" fill="#1a1a22"/>
<polygon points="442.61,688.95 465.16,711.69 470.28,702.64" fill="#1a1a22"/>
<polygon points="473.36,706.37 500.04,733.28 506.11,722.57" fill="#1a1a22"/>
<polygon points="510.07,727.17 541.69,759.05 548.88,746.36" fill="#1a1a22"/>
<polygon points="556.55,753.5 594.42,791.69 603.04,776.49" fill="#1a1a22"/>
<polygon points="297.01,610.42 299.79,614.03 300.68,612.85" fill="#1a1a22"/>
<polygon points="301.24,613.58 304.56,617.89 305.62,616.47" fill="#1a1a22"/>
<polygon points="305.97,617.1 309.88,622.19 311.13,620.52" fill="#1a1a22"/>
<polygon points="311.46,621.2 316.07,627.2 317.54,625.23" fill="#1a1a22"/>
<polygon points="318.52,626.47 324.02,633.62 325.77,631.27" fill="#1a1a22"/>
<polygon points="326.74,632.6 333.28,641.1 335.37,638.31" fill="#1a1a22"/>
<polygon points="336.37,639.78 344.12,649.87 346.6,646.55" fill="#1a1a22"/>
<polygon points="347.89,648.38 357.11,660.36 360.05,656.43" fill="#1a1a22"/>
<polygon points="361.99,658.9 372.99,673.2 376.49,668.5" fill="#1a1a22"/>
<polygon points="377.27,670.3 390.2,687.11 394.32,681.59" fill="#1a1a22"/>
<polygon points="395.46,683.87 410.69,703.67 415.54,697.16" fill="#1a1a22"/>
<polygon points="419.35,701.69 437.59,725.41 443.41,717.62" fill="#1a1a22"/>
<polygon points="448.02,723.08 469.89,751.52 476.86,742.17" fill="#1a1a22"/>
<polygon points="481.48,748.05 507.59,781.98 515.91,770.83" fill="#1a1a22"/>
<polygon points="524.61,780.22 556.17,821.25 566.22,807.77" fill="#1a1a22"/>
<polygon points="296.22,614.71 298.69,618.98 299.81,617.83" fill="#1a1a22"/>
<polygon points="300.54,618.92 303.51,624.06 304.86,622.68" fill="#1a1a22"/>
<polygon points="305.83,624.08 309.41,630.28 311.03,628.62" fill="#1a1a22"/>
<polygon points="312.35,630.44 316.68,637.95 318.65,635.93" fill="#1a1a22"/>
<polygon points="319.19,637.11 324.32,646 326.64,643.61" fill="#1a1a22"/>
<polygon points="327.28,645.01 333.35,655.52 336.1,652.7" fill="#1a1a22"/>
<polygon points="338.38,655.83 345.73,668.58 349.07,665.16" fill="#1a1a22"/>
<polygon points="349.69,666.87 358.36,681.89 362.29,677.86" fill="#1a1a22"/>
<polygon points="365.81,682.6 376.35,700.87 381.14,695.96" fill="#1a1a22"/>
<polygon points="384.94,701.26 397.7,723.37 403.49,717.44" fill="#1a1a22"/>
<polygon points="404.11,719.97 419.1,745.94 425.91,738.97" fill="#1a1a22"/>
<polygon points="427.29,742.58 444.97,773.21 452.99,764.99" fill="#1a1a22"/>
<polygon points="458.18,772.73 479.45,809.57 489.1,799.68" fill="#1a1a22"/>
<polygon points="491.24,804.98 516.34,848.47 527.74,836.79" fill="#1a1a22"/>
<polygon points="295.68,620.27 297.81,625.4 299.22,624.29" fill="#1a1a22"/>
<polygon points="299.94,625.68 302.5,631.87 304.21,630.52" fill="#1a1a22"/>
<polygon points="304.28,631.19 307.29,638.46 309.3,636.88" fill="#1a1a22"/>
<polygon points="309.76,638.16 313.34,646.79 315.72,644.91" fill="#1a1a22"/>
<polygon points="316.75,647.03 321.04,657.4 323.9,655.14" fill="#1a1a22"/>
<polygon points="323.79,655.99 328.81,668.1 332.16,665.47" fill="#1a1a22"/>
<polygon points="332.46,667 338.37,681.26 342.31,678.16" fill="#1a1a22"/>
<polygon points="344,681.65 351.09,698.78 355.83,695.06" fill="#1a1a22"/>
<polygon points="358.61,700.21 367.21,720.97 372.94,716.46" fill="#1a1a22"/>
<polygon points="376.54,722.99 386.98,748.2 393.95,742.72" fill="#1a1a22"/>
<polygon points="394.16,745.38 406.42,774.96 414.59,768.53" fill="#1a1a22"/>
<polygon points="417.07,774.49 431.68,809.76 441.43,802.09" fill="#1a1a22"/>
<polygon points="446.11,811.38 463.71,853.86 475.45,844.62" fill="#1a1a22"/>
<polygon points="478.99,853.14 499.97,903.78 513.96,892.77" fill="#1a1a22"/>
<polygon points="289.25,616.24 290.52,620.44 291.73,619.67" fill="#1a1a22"/>
<polygon points="291.71,620.09 293.21,625.02 294.62,624.11" fill="#1a1a22"/>
<polygon points="294.55,624.52 296.3,630.28 297.95,629.23" fill="#1a1a22"/>
<polygon points="298.35,630.45 300.45,637.34 302.42,636.08" fill="#1a1a22"/>
<polygon points="302.85,637.48 305.35,645.69 307.7,644.19" fill="#1a1a22"/>
<polygon points="308.29,645.97 311.28,655.78 314.08,653.99" fill="#1a1a22"/>
<polygon points="314.12,655.07 317.63,666.6 320.93,664.49" fill="#1a1a22"/>
<polygon points="321.04,665.87 325.17,679.44 329.05,676.95" fill="#1a1a22"/>
<polygon points="329.22,678.65 334.09,694.63 338.66,691.7" fill="#1a1a22"/>
<polygon points="340.52,696.28 346.4,715.59 351.92,712.06" fill="#1a1a22"/>
<polygon points="354.64,718.32 361.78,741.8 368.5,737.5" fill="#1a1a22"/>
<polygon points="371.56,744.74 380.23,773.21 388.37,767.99" fill="#1a1a22"/>
<polygon points="388.22,770.76 398.38,804.13 407.93,798.02" fill="#1a1a22"/>
<polygon points="407.58,800.98 419.48,840.06 430.66,832.9" fill="#1a1a22"/>
<polygon points="435.91,845.2 450.35,892.64 463.92,883.95" fill="#1a1a22"/>
<ellipse cx="300" cy="594" rx="45" ry="25" fill="url(#vpGlow)" opacity="0.5"/>
<ellipse cx="470" cy="640" rx="45" ry="30" fill="url(#vpGlow)" opacity="0.45"/>
<rect x="330" y="533" width="161" height="80" fill="url(#cornerDark)"/>
<polygon points="58,533 268,533 276,560 258,612 58,612" fill="url(#pyr)"/>
<polygon points="150,533 268,533 276,600 200,612 150,612" fill="url(#pyr2)" opacity="0.8"/>
<polygon points="203,598 233,598 234,614 203,614" fill="#2a3a6a"/>
<polygon points="58,608 258,605 262,640 215,690 180,700 118,742 58,742" fill="url(#cones)"/>
<polygon points="58,660 140,660 140,742 58,742" fill="url(#conesBig)"/>
<polygon points="73,542 78,541 88,625 83,626" fill="#2a58b0"/>
<polygon points="59.4,739.37 114.37,739.37 114.37,765.75 59.4,789.94" fill="#4e3432"/>
<polygon points="59.4,789.94 114.37,765.75 118.76,811.93 83.58,855.9 59.4,855.9" fill="#d2b274"/>
<polygon points="415.6,803.13 492.55,772.35 492.55,855.9 428.79,855.9" fill="#1c2a58" opacity="0.6"/>
<polygon points="428.79,803.13 492.55,794.34 492.55,855.9 441.98,855.9" fill="#c8a46a"/>
<polygon points="417.8,785.54 433.19,763.55 441.98,789.94" fill="#15161e"/>
<polygon points="455.18,855.9 468.37,803.13 485.96,855.9" fill="#15161e"/>
<line x1="491.46" y1="712.98" x2="452.98" y2="842.71" stroke="#d0702a" stroke-width="2.6"/>
<polygon points="63.8,825.12 118.76,811.93 195.72,783.34 261.68,755.86 329.85,783.34 347.44,803.13 450.78,803.13 463.97,855.9 59.4,855.9" fill="url(#foamG)"/>
<polygon points="195.72,783.34 261.68,755.86 316.65,785.54 318.85,855.9 164.94,855.9" fill="#5d9fd6"/>
<polygon points="208.91,772.35 261.68,755.86 314.45,783.34 274.88,789.94 230.9,789.94" fill="#8ec2ea"/>
<polygon points="259.49,794.34 274.88,794.34 277.08,855.9 259.49,855.9" fill="#86bce6"/>
<polygon points="316.65,785.54 347.44,803.13 376.02,855.9 323.25,855.9" fill="#4e92cc"/>
<polygon points="265.28,590.12 312.1,646.4 254.54,682.21 205.93,643.84" fill="#2c2c32"/>
<polygon points="255.59,628.49 260.27,634.12 254.33,639.49 249.65,633.86" fill="#7c7c84" opacity="0.75"/>
<polygon points="283.68,662.26 288.36,667.89 282.42,673.26 277.74,667.63" fill="#7c7c84" opacity="0.75"/>
<polygon points="280.25,645.63 284.93,651.26 279,656.63 274.31,651" fill="#7c7c84" opacity="0.75"/>
<polygon points="296.8,640.51 301.48,646.14 295.55,651.51 290.87,645.89" fill="#7c7c84" opacity="0.75"/>
<polygon points="223.74,627.72 228.42,633.35 222.49,638.72 217.8,633.1" fill="#7c7c84" opacity="0.75"/>
<polygon points="237.78,644.61 242.46,650.24 236.53,655.61 231.85,649.98" fill="#7c7c84" opacity="0.75"/>
<polygon points="249.32,683.49 254,689.12 248.07,694.49 243.39,688.86" fill="#7c7c84" opacity="0.75"/>
<polygon points="256.84,617.49 261.52,623.12 255.59,628.49 250.91,622.86" fill="#7c7c84" opacity="0.75"/>
<polygon points="276.82,629 281.5,634.63 275.57,640 270.89,634.37" fill="#7c7c84" opacity="0.75"/>
<polygon points="273.39,612.37 278.07,618 272.14,623.37 267.46,617.75" fill="#7c7c84" opacity="0.75"/>
<polygon points="290.87,645.89 295.55,651.51 289.61,656.89 284.93,651.26" fill="#7c7c84" opacity="0.75"/>
<polygon points="260.27,634.12 264.95,639.75 259.02,645.12 254.33,639.49" fill="#7c7c84" opacity="0.75"/>
<polygon points="225.91,655.35 230.59,660.98 224.66,666.35 219.98,660.72" fill="#7c7c84" opacity="0.75"/>
<polygon points="254,689.12 258.68,694.75 252.75,700.12 248.07,694.49" fill="#7c7c84" opacity="0.75"/>
<polygon points="250.57,672.49 255.26,678.12 249.32,683.49 244.64,677.86" fill="#7c7c84" opacity="0.75"/>
<polygon points="267.13,667.38 271.81,673 265.87,678.38 261.19,672.75" fill="#7c7c84" opacity="0.75"/>
<polygon points="253.41,600.86 258.1,606.49 252.16,611.86 247.48,606.23" fill="#7c7c84" opacity="0.75"/>
<polygon points="267.46,617.75 272.14,623.37 266.2,628.75 261.52,623.12" fill="#7c7c84" opacity="0.75"/>
<polygon points="279,656.63 283.68,662.26 277.74,667.63 273.06,662" fill="#7c7c84" opacity="0.75"/>
<polygon points="227.17,644.35 231.85,649.98 225.91,655.35 221.23,649.72" fill="#7c7c84" opacity="0.75"/>
<polygon points="247.15,655.86 251.83,661.49 245.89,666.86 241.21,661.24" fill="#7c7c84" opacity="0.75"/>
<polygon points="243.72,639.24 248.4,644.86 242.46,650.24 237.78,644.61" fill="#7c7c84" opacity="0.75"/>
<polygon points="261.19,672.75 265.87,678.38 259.94,683.75 255.26,678.12" fill="#7c7c84" opacity="0.75"/>
<polygon points="230.59,660.98 235.28,666.61 229.34,671.98 224.66,666.35" fill="#7c7c84" opacity="0.75"/>
<polygon points="265.28,590.12 312.1,646.4 254.54,682.21 205.93,643.84" fill="none" stroke="#5a5a60" stroke-width="0.6"/>
<polygon points="128.66,682.2 260.58,681.1 260.58,754.76 195.72,783.34 186.93,811.93 118.76,811.93 113.27,754.76 127.56,741.57" fill="#d8d8d4"/>
<polygon points="186.93,752.56 195.72,734.97 244.09,693.19 260.58,682.64 260.58,754.76 195.72,783.34" fill="#c2c4c2"/>
<polygon points="113.27,754.76 186.93,752.56 195.72,783.34 186.93,811.93 118.76,811.93" fill="#c8c8c4"/>
<polygon points="125.8,680 130.86,680 130.86,741.57 125.8,742.66" fill="#e4e4e0"/>
<polygon points="262.78,683.3 269.38,681.76 382.62,682.2 391.41,743.76 409,754.76 404.6,803.13 347.44,803.13 338.64,745.96 262.78,754.76" fill="#d6d6d2"/>
<polygon points="262.78,683.3 269.38,681.76 338.64,745.96 329.85,783.34 262.78,754.76" fill="#cfcfcb"/>
<polygon points="338.64,745.96 409,754.76 404.6,803.13 347.44,803.13" fill="#c6c6c2"/>
<polygon points="385.91,680 390.31,680 391.41,743.76 387.01,743.76" fill="#e0e0dc"/>
<polygon points="96.78,811.93 184.73,809.73 171.53,855.9 83.58,855.9" fill="#b2b4b4"/>
<polygon points="347.44,803.13 406.8,803.13 444.18,841.61 433.19,855.9 378.22,855.9" fill="#b6b8b8"/>
<line x1="106.67" y1="817.42" x2="101.17" y2="829.52" stroke="#2a60a8" stroke-width="3.2" stroke-linecap="round"/>
<line x1="362.83" y1="809.73" x2="369.42" y2="821.82" stroke="#2a60a8" stroke-width="3.2" stroke-linecap="round"/>
<line x1="96.78" y1="838.31" x2="91.28" y2="850.4" stroke="#2a60a8" stroke-width="3.2" stroke-linecap="round"/>
<line x1="373.82" y1="830.62" x2="380.42" y2="842.71" stroke="#2a60a8" stroke-width="3.2" stroke-linecap="round"/>
<line x1="127.56" y1="817.42" x2="122.06" y2="829.52" stroke="#2a60a8" stroke-width="3.2" stroke-linecap="round"/>
<line x1="381.52" y1="809.73" x2="388.11" y2="821.82" stroke="#2a60a8" stroke-width="3.2" stroke-linecap="round"/>
<line x1="117.66" y1="838.31" x2="112.17" y2="850.4" stroke="#2a60a8" stroke-width="3.2" stroke-linecap="round"/>
<line x1="392.51" y1="830.62" x2="399.11" y2="842.71" stroke="#2a60a8" stroke-width="3.2" stroke-linecap="round"/>
<line x1="148.45" y1="817.42" x2="142.95" y2="829.52" stroke="#2a60a8" stroke-width="3.2" stroke-linecap="round"/>
<line x1="400.21" y1="809.73" x2="406.8" y2="821.82" stroke="#2a60a8" stroke-width="3.2" stroke-linecap="round"/>
<line x1="138.55" y1="838.31" x2="133.06" y2="850.4" stroke="#2a60a8" stroke-width="3.2" stroke-linecap="round"/>
<line x1="411.2" y1="830.62" x2="417.8" y2="842.71" stroke="#2a60a8" stroke-width="3.2" stroke-linecap="round"/>
<line x1="169.34" y1="817.42" x2="163.84" y2="829.52" stroke="#2a60a8" stroke-width="3.2" stroke-linecap="round"/>
<line x1="418.9" y1="809.73" x2="425.49" y2="821.82" stroke="#2a60a8" stroke-width="3.2" stroke-linecap="round"/>
<line x1="159.44" y1="838.31" x2="153.94" y2="850.4" stroke="#2a60a8" stroke-width="3.2" stroke-linecap="round"/>
<line x1="429.89" y1="830.62" x2="436.49" y2="842.71" stroke="#2a60a8" stroke-width="3.2" stroke-linecap="round"/>
<circle cx="131.96" cy="767.95" r="2.6" fill="#8a8c8c"/>
<circle cx="147.35" cy="767.95" r="2.6" fill="#8a8c8c"/>
<circle cx="160.54" cy="767.95" r="2.6" fill="#8a8c8c"/>
<circle cx="136.35" cy="794.34" r="2.6" fill="#8a8c8c"/>
<circle cx="151.75" cy="794.34" r="2.6" fill="#8a8c8c"/>
<circle cx="164.94" cy="794.34" r="2.6" fill="#8a8c8c"/>
<circle cx="369.42" cy="763.55" r="2.6" fill="#8a8c8c"/>
<circle cx="382.62" cy="759.16" r="2.6" fill="#8a8c8c"/>
<circle cx="393.61" cy="765.75" r="2.6" fill="#8a8c8c"/>
<circle cx="367.23" cy="787.74" r="2.6" fill="#8a8c8c"/>
<circle cx="378.22" cy="792.14" r="2.6" fill="#8a8c8c"/>
<circle cx="389.21" cy="787.74" r="2.6" fill="#8a8c8c"/>
<line x1="141.85" y1="688.8" x2="153.94" y2="739.37" stroke="#141414" stroke-width="5" stroke-linecap="round"/>
<line x1="384.82" y1="693.19" x2="377.78" y2="738.27" stroke="#141414" stroke-width="5" stroke-linecap="round"/>
<path d="M 59 672 L 60.63 671.34 L 62.8 670.42 L 65.38 669.32 L 68.25 668.12 L 71.28 666.91 L 74.33 665.77 L 77.28 664.77 L 80 664 L 82.53 663.39 L 85.02 662.84 L 87.49 662.37 L 89.94 662 L 92.4 661.75 L 94.88 661.66 L 97.41 661.73 L 100 662 L 102.71 662.48 L 105.55 663.16 L 108.46 664 L 111.38 665 L 114.25 666.12 L 117.02 667.34 L 119.62 668.64 L 122 670 L 124.19 671.5 L 126.25 673.22 L 128.19 675.07 L 130 677 L 131.69 678.93 L 133.25 680.78 L 134.69 682.5 L 136 684 L 137.17 685.34 L 138.2 686.61 L 139.1 687.79 L 139.88 688.88 L 140.54 689.85 L 141.11 690.7 L 141.59 691.42 L 142 692" fill="none" stroke="#1c2a80" stroke-width="5.4" stroke-linejoin="round" stroke-linecap="round"/>
<path d="M 59 672 L 60.63 671.34 L 62.8 670.42 L 65.38 669.32 L 68.25 668.12 L 71.28 666.91 L 74.33 665.77 L 77.28 664.77 L 80 664 L 82.53 663.39 L 85.02 662.84 L 87.49 662.37 L 89.94 662 L 92.4 661.75 L 94.88 661.66 L 97.41 661.73 L 100 662 L 102.71 662.48 L 105.55 663.16 L 108.46 664 L 111.38 665 L 114.25 666.12 L 117.02 667.34 L 119.62 668.64 L 122 670 L 124.19 671.5 L 126.25 673.22 L 128.19 675.07 L 130 677 L 131.69 678.93 L 133.25 680.78 L 134.69 682.5 L 136 684 L 137.17 685.34 L 138.2 686.61 L 139.1 687.79 L 139.88 688.88 L 140.54 689.85 L 141.11 690.7 L 141.59 691.42 L 142 692" fill="none" stroke="#3a5ad0" stroke-width="3.6" stroke-linejoin="round" stroke-linecap="round"/>
<path d="M 59.4 827.32 L 64.12 823.25 L 70.36 817.84 L 77.78 811.39 L 86.06 804.23 L 94.85 796.65 L 103.82 788.98 L 112.64 781.5 L 120.96 774.55 L 128.95 767.88 L 136.99 761.1 L 145.09 754.28 L 153.26 747.47 L 161.51 740.76 L 169.87 734.2 L 178.34 727.85 L 186.93 721.78 L 195.9 715.88 L 205.35 710.05 L 215.06 704.35 L 224.8 698.84 L 234.33 693.59 L 243.44 688.66 L 251.9 684.1 L 259.49 680 L 266.16 676.36 L 272.11 673.14 L 277.49 670.29 L 282.4 667.76 L 286.99 665.52 L 291.36 663.51 L 295.66 661.68 L 300 660 L 304.32 658.5 L 308.47 657.23 L 312.46 656.2 L 316.28 655.38 L 319.94 654.76 L 323.45 654.33 L 326.8 654.08 L 330 654 L 333.01 654.08 L 335.82 654.33 L 338.45 654.76 L 340.94 655.38 L 343.31 656.2 L 345.59 657.23 L 347.81 658.5 L 350 660 L 352.13 661.9 L 354.15 664.25 L 356.08 666.91 L 357.94 669.75 L 359.74 672.62 L 361.51 675.38 L 363.25 677.88 L 365 680 L 366.81 681.8 L 368.7 683.44 L 370.59 684.92 L 372.44 686.25 L 374.17 687.42 L 375.71 688.44 L 377.01 689.3 L 378 690" fill="none" stroke="#1c2a80" stroke-width="5.4" stroke-linejoin="round" stroke-linecap="round"/>
<path d="M 59.4 827.32 L 64.12 823.25 L 70.36 817.84 L 77.78 811.39 L 86.06 804.23 L 94.85 796.65 L 103.82 788.98 L 112.64 781.5 L 120.96 774.55 L 128.95 767.88 L 136.99 761.1 L 145.09 754.28 L 153.26 747.47 L 161.51 740.76 L 169.87 734.2 L 178.34 727.85 L 186.93 721.78 L 195.9 715.88 L 205.35 710.05 L 215.06 704.35 L 224.8 698.84 L 234.33 693.59 L 243.44 688.66 L 251.9 684.1 L 259.49 680 L 266.16 676.36 L 272.11 673.14 L 277.49 670.29 L 282.4 667.76 L 286.99 665.52 L 291.36 663.51 L 295.66 661.68 L 300 660 L 304.32 658.5 L 308.47 657.23 L 312.46 656.2 L 316.28 655.38 L 319.94 654.76 L 323.45 654.33 L 326.8 654.08 L 330 654 L 333.01 654.08 L 335.82 654.33 L 338.45 654.76 L 340.94 655.38 L 343.31 656.2 L 345.59 657.23 L 347.81 658.5 L 350 660 L 352.13 661.9 L 354.15 664.25 L 356.08 666.91 L 357.94 669.75 L 359.74 672.62 L 361.51 675.38 L 363.25 677.88 L 365 680 L 366.81 681.8 L 368.7 683.44 L 370.59 684.92 L 372.44 686.25 L 374.17 687.42 L 375.71 688.44 L 377.01 689.3 L 378 690" fill="none" stroke="#3a5ad0" stroke-width="3.6" stroke-linejoin="round" stroke-linecap="round"/>
</svg>
<text x="256.5" y="646.4" font-family="Liberation Serif, serif" font-size="21.4" font-weight="bold" fill="#ffff00" text-anchor="middle" filter="url(#yshadow)">Sample</text>
<text x="150.6" y="784.4" font-family="Liberation Serif, serif" font-size="21.5" font-weight="bold" fill="#ff0000" text-anchor="middle" filter="url(#rglow)">Transmitting</text>
<text x="150.6" y="809.7" font-family="Liberation Serif, serif" font-size="21.5" font-weight="bold" fill="#ff0000" text-anchor="middle" filter="url(#rglow)">antenna</text>
<text x="372.2" y="782.2" font-family="Liberation Serif, serif" font-size="21.5" font-weight="bold" fill="#ff0000" text-anchor="middle" filter="url(#rglow)">Reciving</text>
<text x="371.6" y="806.4" font-family="Liberation Serif, serif" font-size="21.5" font-weight="bold" fill="#ff0000" text-anchor="middle" filter="url(#rglow)">antenna</text>
<svg x="52.5" y="901.2" width="440.8" height="329.6" viewBox="52.5 901.2 440.8 329.6" overflow="hidden">
<rect x="52.5" y="901.2" width="440.8" height="329.6" fill="url(#chamberTop)"/>
<polygon points="272.81,993.04 329.7,670.01 349.06,674.03" fill="#2d5bb0"/>
<polygon points="272.92,993.07 349.06,674.03 368.11,679.18" fill="#22468e"/>
<polygon points="273,993.09 368.11,679.18 374.55,681.21" fill="#121832"/>
<polygon points="273.07,993.12 374.55,681.21 392.06,687.46" fill="#3262ba"/>
<polygon points="273.14,993.14 392.06,687.46 398.34,689.98" fill="#121832"/>
<polygon points="273.18,993.16 398.34,689.98 404.89,692.76" fill="#121832"/>
<polygon points="273.23,993.18 404.89,692.76 414.46,697.14" fill="#3262ba"/>
<polygon points="273.3,993.21 414.46,697.14 425.8,702.82" fill="#3868c0"/>
<polygon points="273.35,993.24 425.8,702.82 433.08,706.76" fill="#121832"/>
<polygon points="273.39,993.26 433.08,706.76 439.55,710.46" fill="#121832"/>
<polygon points="273.43,993.28 439.55,710.46 443.51,712.83" fill="#121832"/>
<polygon points="273.47,993.31 443.51,712.83 454.51,719.8" fill="#3262ba"/>
<polygon points="273.53,993.35 454.51,719.8 464.77,726.87" fill="#3262ba"/>
<polygon points="273.59,993.39 464.77,726.87 472.04,732.24" fill="#121832"/>
<polygon points="273.66,993.44 472.04,732.24 486.8,744.14" fill="#3262ba"/>
<polygon points="273.72,993.5 486.8,744.14 493.61,750.12" fill="#121832"/>
<polygon points="273.76,993.53 493.61,750.12 500.25,756.28" fill="#121832"/>
<polygon points="273.8,993.58 500.25,756.28 507.83,763.75" fill="#3868c0"/>
<polygon points="273.84,993.61 507.83,763.75 511.49,767.55" fill="#121832"/>
<polygon points="273.86,993.63 511.49,767.55 515.59,771.93" fill="#121832"/>
<polygon points="273.9,993.67 515.59,771.93 522.5,779.71" fill="#2d5bb0"/>
<polygon points="273.94,993.72 522.5,779.71 529.67,788.33" fill="#2550a0"/>
<polygon points="273.99,993.79 529.67,788.33 539.65,801.41" fill="#2550a0"/>
<polygon points="274.03,993.84 539.65,801.41 543.57,806.94" fill="#121832"/>
<polygon points="274.05,993.87 543.57,806.94 546.83,811.73" fill="#121832"/>
<polygon points="274.1,993.95 546.83,811.73 558.63,830.76" fill="#2550a0"/>
<polygon points="274.15,994.03 558.63,830.76 563.75,840.03" fill="#3868c0"/>
<polygon points="274.19,994.11 563.75,840.03 571.64,855.88" fill="#2a54a6"/>
<polygon points="274.24,994.21 571.64,855.88 579.27,873.64" fill="#22468e"/>
<polygon points="274.27,994.3 579.27,873.64 583.77,885.68" fill="#3262ba"/>
<polygon points="274.31,994.4 583.77,885.68 590.44,906.96" fill="#2550a0"/>
<polygon points="274.34,994.53 590.44,906.96 595.53,928.03" fill="#2550a0"/>
<polygon points="274.37,994.63 595.53,928.03 597.71,939.56" fill="#2d5bb0"/>
<polygon points="274.38,994.71 597.71,939.56 599.9,954.42" fill="#2550a0"/>
<polygon points="274.39,994.78 599.9,954.42 600.88,963.33" fill="#121832"/>
<polygon points="274.39,994.83 600.88,963.33 601.41,969.49" fill="#121832"/>
<polygon points="274.4,994.91 601.41,969.49 602.38,991.46" fill="#2550a0"/>
<polygon points="274.4,995 602.38,991.46 602.37,999.31" fill="#121832"/>
<polygon points="274.4,995.05 602.37,999.31 602.18,1007.07" fill="#121832"/>
<polygon points="274.4,995.14 602.18,1007.07 600.79,1027.51" fill="#2d5bb0"/>
<polygon points="274.39,995.22 600.79,1027.51 599.94,1035.25" fill="#121832"/>
<polygon points="274.38,995.28 599.94,1035.25 598.19,1047.54" fill="#2a54a6"/>
<polygon points="274.37,995.34 598.19,1047.54 596.94,1054.8" fill="#121832"/>
<polygon points="274.36,995.39 596.94,1054.8 594.81,1065.36" fill="#2d5bb0"/>
<polygon points="274.34,995.49 594.81,1065.36 589.73,1085.57" fill="#3868c0"/>
<polygon points="274.31,995.58 589.73,1085.57 586.16,1097.25" fill="#2d5bb0"/>
<polygon points="274.3,995.64 586.16,1097.25 583.96,1103.77" fill="#121832"/>
<polygon points="274.28,995.69 583.96,1103.77 579.79,1115.04" fill="#2d5bb0"/>
<polygon points="274.25,995.76 579.79,1115.04 575.21,1126.18" fill="#3868c0"/>
<polygon points="274.23,995.81 575.21,1126.18 572.52,1132.22" fill="#121832"/>
<polygon points="274.21,995.85 572.52,1132.22 568.88,1139.91" fill="#121832"/>
<polygon points="274.19,995.9 568.88,1139.91 565.88,1145.89" fill="#121832"/>
<polygon points="274.15,995.97 565.88,1145.89 555.61,1164.39" fill="#22468e"/>
<polygon points="274.09,996.07 555.61,1164.39 546.76,1178.38" fill="#2d5bb0"/>
<polygon points="274.04,996.15 546.76,1178.38 538.83,1189.72" fill="#3868c0"/>
<polygon points="273.99,996.21 538.83,1189.72 531.44,1199.45" fill="#3868c0"/>
<polygon points="273.94,996.28 531.44,1199.45 520.49,1212.6" fill="#3262ba"/>
<polygon points="273.87,996.36 520.49,1212.6 509.17,1224.87" fill="#2550a0"/>
<polygon points="273.82,996.41 509.17,1224.87 504.33,1229.75" fill="#121832"/>
<polygon points="273.77,996.46 504.33,1229.75 491.71,1241.59" fill="#22468e"/>
<polygon points="273.68,996.53 491.71,1241.59 476.11,1254.62" fill="#2550a0"/>
<polygon points="273.59,996.61 476.11,1254.62 461.01,1265.79" fill="#2550a0"/>
<polygon points="273.49,996.67 461.01,1265.79 444.87,1276.34" fill="#2550a0"/>
<polygon points="273.41,996.73 444.87,1276.34 433.02,1283.27" fill="#2d5bb0"/>
<polygon points="273.31,996.78 433.02,1283.27 413.02,1293.54" fill="#2550a0"/>
<polygon points="273.2,996.83 413.02,1293.54 396.79,1300.66" fill="#2a54a6"/>
<polygon points="273.12,996.87 396.79,1300.66 385.27,1305.1" fill="#2550a0"/>
<polygon points="281.05,957.55 284.11,951.95 282.09,951.48" fill="#1a1a22"/>
<polygon points="282.69,950.43 286.34,943.76 283.94,943.2" fill="#1a1a22"/>
<polygon points="284.82,941.19 289.23,933.14 286.33,932.47" fill="#1a1a22"/>
<polygon points="287.3,930.48 292.58,920.83 289.1,920.03" fill="#1a1a22"/>
<polygon points="290.37,917.17 296.74,905.53 292.54,904.56" fill="#1a1a22"/>
<polygon points="293.69,902.8 301.24,889 296.26,887.85" fill="#1a1a22"/>
<polygon points="297.92,884.46 306.98,867.92 301.01,866.54" fill="#1a1a22"/>
<polygon points="303.11,861.97 314.01,842.07 306.83,840.41" fill="#1a1a22"/>
<polygon points="309.49,834.34 322.66,810.3 313.98,808.29" fill="#1a1a22"/>
<polygon points="316.35,804.64 331.94,776.16 321.67,773.79" fill="#1a1a22"/>
<polygon points="325.51,764.96 344.36,730.55 331.94,727.68" fill="#1a1a22"/>
<polygon points="336.65,716.71 359.45,675.08 344.42,671.61" fill="#1a1a22"/>
<polygon points="289.58,954.35 294.15,948.62 291.96,947.69" fill="#1a1a22"/>
<polygon points="292.89,946.51 298.35,939.67 295.73,938.57" fill="#1a1a22"/>
<polygon points="296.85,937.13 303.37,928.97 300.24,927.65" fill="#1a1a22"/>
<polygon points="301.15,926.95 308.82,917.35 305.14,915.8" fill="#1a1a22"/>
<polygon points="307.14,912.78 316.4,901.19 311.96,899.31" fill="#1a1a22"/>
<polygon points="314.54,895.27 325.77,881.21 320.38,878.93" fill="#1a1a22"/>
<polygon points="322.58,876.23 335.96,859.48 329.54,856.77" fill="#1a1a22"/>
<polygon points="332.68,852.33 348.74,832.22 341.04,828.96" fill="#1a1a22"/>
<polygon points="344.89,823.44 364.21,799.25 354.94,795.33" fill="#1a1a22"/>
<polygon points="359.61,788.6 382.85,759.5 371.7,754.79" fill="#1a1a22"/>
<polygon points="374.98,752.22 402.31,717.99 389.2,712.45" fill="#1a1a22"/>
<polygon points="396.05,702.34 429,661.08 413.2,654.4" fill="#1a1a22"/>
<polygon points="289.89,966.53 293.97,962.76 292.44,961.82" fill="#1a1a22"/>
<polygon points="293.36,960.89 298.24,956.38 296.4,955.25" fill="#1a1a22"/>
<polygon points="297.66,953.89 303.55,948.45 301.33,947.09" fill="#1a1a22"/>
<polygon points="302.67,945.73 309.73,939.21 307.07,937.58" fill="#1a1a22"/>
<polygon points="308.8,935.75 317.29,927.91 314.09,925.94" fill="#1a1a22"/>
<polygon points="314.97,925.72 324.89,916.55 321.15,914.25" fill="#1a1a22"/>
<polygon points="322.44,913.55 334.12,902.77 329.72,900.07" fill="#1a1a22"/>
<polygon points="331.91,898.14 345.79,885.32 340.56,882.11" fill="#1a1a22"/>
<polygon points="343.77,878.85 360.41,863.47 354.14,859.62" fill="#1a1a22"/>
<polygon points="356.51,858.11 376.12,839.99 368.73,835.45" fill="#1a1a22"/>
<polygon points="373.4,830.61 396.96,808.85 388.09,803.39" fill="#1a1a22"/>
<polygon points="393.43,798.01 421.66,771.94 411.02,765.4" fill="#1a1a22"/>
<polygon points="414.01,764.52 447.04,734.01 434.59,726.37" fill="#1a1a22"/>
<polygon points="441,720.58 480.33,684.26 465.51,675.16" fill="#1a1a22"/>
<polygon points="289.35,973.13 293.05,970.39 291.87,969.48" fill="#1a1a22"/>
<polygon points="292.46,969.12 296.83,965.89 295.44,964.8" fill="#1a1a22"/>
<polygon points="296,964.55 301.15,960.74 299.51,959.47" fill="#1a1a22"/>
<polygon points="300.19,959.15 306.25,954.67 304.31,953.17" fill="#1a1a22"/>
<polygon points="304.9,953.07 311.99,947.82 309.73,946.07" fill="#1a1a22"/>
<polygon points="311.09,945.09 319.53,938.84 316.83,936.75" fill="#1a1a22"/>
<polygon points="318.3,935.79 328.31,928.38 325.11,925.91" fill="#1a1a22"/>
<polygon points="327.36,924.11 339.34,915.24 335.51,912.27" fill="#1a1a22"/>
<polygon points="338.15,910.19 352.48,899.58 347.9,896.03" fill="#1a1a22"/>
<polygon points="349.94,894.97 366.85,882.46 361.45,878.27" fill="#1a1a22"/>
<polygon points="366.33,873.83 386.81,858.67 380.27,853.6" fill="#1a1a22"/>
<polygon points="382.12,853.47 406.04,835.76 398.4,829.84" fill="#1a1a22"/>
<polygon points="402.68,826.94 431.09,805.91 422.01,798.88" fill="#1a1a22"/>
<polygon points="426.31,796.46 459.87,771.62 449.15,763.31" fill="#1a1a22"/>
<polygon points="455.2,759.2 495.06,729.69 482.32,719.82" fill="#1a1a22"/>
<polygon points="296.19,972.9 301,970.43 299.8,969.14" fill="#1a1a22"/>
<polygon points="300.23,969.14 305.85,966.26 304.45,964.76" fill="#1a1a22"/>
<polygon points="305.73,964.04 312.45,960.58 310.78,958.78" fill="#1a1a22"/>
<polygon points="311.48,958.7 319.37,954.65 317.41,952.54" fill="#1a1a22"/>
<polygon points="319.07,951.65 328.49,946.81 326.14,944.29" fill="#1a1a22"/>
<polygon points="327.67,943.66 338.82,937.93 336.05,934.94" fill="#1a1a22"/>
<polygon points="338.49,933.6 351.83,926.75 348.52,923.18" fill="#1a1a22"/>
<polygon points="352.64,920.46 368.83,912.14 364.81,907.81" fill="#1a1a22"/>
<polygon points="369.27,905.01 388.82,894.97 383.96,889.74" fill="#1a1a22"/>
<polygon points="387.49,888.08 410.72,876.15 404.95,869.94" fill="#1a1a22"/>
<polygon points="411.32,865.95 439.36,851.55 432.39,844.05" fill="#1a1a22"/>
<polygon points="438.94,840.29 472.55,823.03 464.2,814.03" fill="#1a1a22"/>
<polygon points="469.88,811.55 509.73,791.08 499.82,780.42" fill="#1a1a22"/>
<polygon points="504.4,779.48 551.22,755.43 539.58,742.91" fill="#1a1a22"/>
<polygon points="308.72,969.91 315.66,967.53 314.31,965.57" fill="#1a1a22"/>
<polygon points="316.51,964.53 324.94,961.64 323.29,959.26" fill="#1a1a22"/>
<polygon points="325.21,958.52 335.3,955.06 333.33,952.21" fill="#1a1a22"/>
<polygon points="334.97,951.78 346.93,947.68 344.59,944.3" fill="#1a1a22"/>
<polygon points="348.17,942.66 362.65,937.7 359.82,933.61" fill="#1a1a22"/>
<polygon points="360.9,933.87 377.81,928.07 374.51,923.29" fill="#1a1a22"/>
<polygon points="376.23,923.28 396.07,916.48 392.19,910.87" fill="#1a1a22"/>
<polygon points="396.49,909.28 420.2,901.15 415.57,894.45" fill="#1a1a22"/>
<polygon points="421,892.35 449.4,882.61 443.85,874.59" fill="#1a1a22"/>
<polygon points="446.97,874.41 480.33,862.97 473.81,853.55" fill="#1a1a22"/>
<polygon points="481.57,850.51 521.54,836.8 513.74,825.51" fill="#1a1a22"/>
<polygon points="525.66,820.05 574.05,803.46 564.61,789.78" fill="#1a1a22"/>
<polygon points="298.73,981.64 303.54,980.68 302.82,979.26" fill="#1a1a22"/>
<polygon points="303.52,979.2 309.21,978.08 308.36,976.4" fill="#1a1a22"/>
<polygon points="310.2,975.81 317.11,974.45 316.08,972.4" fill="#1a1a22"/>
<polygon points="317.24,972.24 325.44,970.62 324.21,968.2" fill="#1a1a22"/>
<polygon points="326.84,967.37 336.8,965.4 335.31,962.46" fill="#1a1a22"/>
<polygon points="338.38,961.51 350.44,959.12 348.64,955.56" fill="#1a1a22"/>
<polygon points="351.35,954.93 365.79,952.07 363.62,947.81" fill="#1a1a22"/>
<polygon points="365.6,947.7 382.64,944.32 380.09,939.29" fill="#1a1a22"/>
<polygon points="385.65,937.52 406.35,933.42 403.25,927.31" fill="#1a1a22"/>
<polygon points="407.37,926.5 432.05,921.61 428.35,914.32" fill="#1a1a22"/>
<polygon points="432.74,913.63 462.05,907.82 457.66,899.16" fill="#1a1a22"/>
<polygon points="462.13,898.71 496.82,891.84 491.62,881.59" fill="#1a1a22"/>
<polygon points="502.97,877.98 545.12,869.63 538.8,857.18" fill="#1a1a22"/>
<polygon points="547.14,855.56 597.38,845.61 589.85,830.78" fill="#1a1a22"/>
<polygon points="298.34,986.07 302.9,985.8 302.41,984.4" fill="#1a1a22"/>
<polygon points="303.48,984.3 308.93,983.99 308.35,982.31" fill="#1a1a22"/>
<polygon points="309.36,982.27 315.84,981.9 315.16,979.9" fill="#1a1a22"/>
<polygon points="316.09,979.96 323.75,979.52 322.94,977.16" fill="#1a1a22"/>
<polygon points="325.06,976.86 334.31,976.33 333.33,973.49" fill="#1a1a22"/>
<polygon points="336,973.1 347.16,972.46 345.98,969.02" fill="#1a1a22"/>
<polygon points="346.73,969.4 359.77,968.65 358.39,964.64" fill="#1a1a22"/>
<polygon points="361.11,964.45 376.68,963.56 375.03,958.76" fill="#1a1a22"/>
<polygon points="377.18,958.92 395.57,957.86 393.63,952.2" fill="#1a1a22"/>
<polygon points="399.49,951.24 421.8,949.95 419.43,943.09" fill="#1a1a22"/>
<polygon points="425.61,942.24 452.5,940.69 449.65,932.42" fill="#1a1a22"/>
<polygon points="453.16,932.75 484.88,930.93 481.52,921.17" fill="#1a1a22"/>
<polygon points="485.85,921.5 523.31,919.34 519.34,907.82" fill="#1a1a22"/>
<polygon points="523.3,908.6 567.33,906.07 562.66,892.52" fill="#1a1a22"/>
<polygon points="577.36,889.99 630.87,886.91 625.2,870.44" fill="#1a1a22"/>
<polygon points="306.31,988.67 312.02,989.19 311.68,987.36" fill="#1a1a22"/>
<polygon points="313.05,987.41 319.9,988.03 319.49,985.83" fill="#1a1a22"/>
<polygon points="321.06,985.92 329.26,986.66 328.77,984.03" fill="#1a1a22"/>
<polygon points="330.97,984.07 340.84,984.96 340.25,981.8" fill="#1a1a22"/>
<polygon points="341.15,982.17 352.72,983.21 352.03,979.5" fill="#1a1a22"/>
<polygon points="355.2,979.55 369.15,980.8 368.31,976.33" fill="#1a1a22"/>
<polygon points="370.31,976.73 386.8,978.21 385.81,972.93" fill="#1a1a22"/>
<polygon points="389.27,973.19 408.95,974.96 407.77,968.65" fill="#1a1a22"/>
<polygon points="410.79,969.18 434.09,971.27 432.7,963.8" fill="#1a1a22"/>
<polygon points="436.01,964.47 463.56,966.95 461.91,958.12" fill="#1a1a22"/>
<polygon points="467.65,958.57 500.53,961.53 498.57,950.98" fill="#1a1a22"/>
<polygon points="504.81,951.64 543.94,955.16 541.6,942.61" fill="#1a1a22"/>
<polygon points="547.88,943.6 594.27,947.77 591.49,932.9" fill="#1a1a22"/>
<polygon points="298.11,994.01 302.27,995.01 302.21,993.62" fill="#1a1a22"/>
<polygon points="302.74,993.83 307.65,995.01 307.58,993.37" fill="#1a1a22"/>
<polygon points="308.5,993.61 314.34,995.01 314.26,993.06" fill="#1a1a22"/>
<polygon points="316.15,993.31 323.23,995.01 323.14,992.65" fill="#1a1a22"/>
<polygon points="325.37,992.96 333.94,995.02 333.83,992.16" fill="#1a1a22"/>
<polygon points="335.66,992.56 345.89,995.02 345.75,991.6" fill="#1a1a22"/>
<polygon points="346.33,992.15 358.28,995.02 358.13,991.03" fill="#1a1a22"/>
<polygon points="361.51,991.57 375.92,995.03 375.74,990.22" fill="#1a1a22"/>
<polygon points="378.31,990.92 395.44,995.03 395.22,989.31" fill="#1a1a22"/>
<polygon points="399.03,990.12 419.51,995.04 419.24,988.2" fill="#1a1a22"/>
<polygon points="424.61,989.14 449.22,995.05 448.91,986.83" fill="#1a1a22"/>
<polygon points="454.79,987.97 484.29,995.06 483.91,985.21" fill="#1a1a22"/>
<polygon points="489.66,986.63 524.79,995.07 524.34,983.34" fill="#1a1a22"/>
<polygon points="535.66,984.86 578.24,995.08 577.69,980.87" fill="#1a1a22"/>
<polygon points="584.76,982.97 635.28,995.1 634.63,978.23" fill="#1a1a22"/>
<polygon points="301.1,998.63 305.53,1000.5 305.73,998.95" fill="#1a1a22"/>
<polygon points="306.33,999.29 311.57,1001.5 311.8,999.67" fill="#1a1a22"/>
<polygon points="313.38,1000.18 319.71,1002.85 319.99,1000.64" fill="#1a1a22"/>
<polygon points="320.4,1001.07 327.81,1004.2 328.13,1001.6" fill="#1a1a22"/>
<polygon points="330.39,1002.33 339.34,1006.11 339.73,1002.98" fill="#1a1a22"/>
<polygon points="342.07,1003.8 352.82,1008.35 353.29,1004.58" fill="#1a1a22"/>
<polygon points="355.22,1005.46 368,1010.87 368.56,1006.39" fill="#1a1a22"/>
<polygon points="370.27,1007.37 385.37,1013.75 386.04,1008.46" fill="#1a1a22"/>
<polygon points="390.38,1009.91 408.58,1017.6 409.39,1011.23" fill="#1a1a22"/>
<polygon points="415.35,1013.06 437.41,1022.39 438.39,1014.67" fill="#1a1a22"/>
<polygon points="440.35,1016.22 466.27,1027.18 467.41,1018.11" fill="#1a1a22"/>
<polygon points="472.42,1020.27 503.29,1033.32 504.65,1022.52" fill="#1a1a22"/>
<polygon points="511.3,1025.19 548.16,1040.77 549.79,1027.87" fill="#1a1a22"/>
<polygon points="557.14,1030.98 601.08,1049.55 603.02,1034.17" fill="#1a1a22"/>
<polygon points="308.05,1003.77 313.36,1006.78 313.84,1004.85" fill="#1a1a22"/>
<polygon points="315.43,1005.58 321.84,1009.21 322.41,1006.89" fill="#1a1a22"/>
<polygon points="322.81,1007.4 330.31,1011.65 330.98,1008.93" fill="#1a1a22"/>
<polygon points="331.83,1009.61 340.68,1014.63 341.47,1011.42" fill="#1a1a22"/>
<polygon points="344.15,1012.64 354.84,1018.7 355.79,1014.82" fill="#1a1a22"/>
<polygon points="358.93,1016.28 371.82,1023.58 372.97,1018.91" fill="#1a1a22"/>
<polygon points="376.23,1020.53 391.69,1029.29 393.07,1023.68" fill="#1a1a22"/>
<polygon points="393.8,1024.85 411.88,1035.09 413.49,1028.54" fill="#1a1a22"/>
<polygon points="418.4,1030.9 440.15,1043.22 442.09,1035.34" fill="#1a1a22"/>
<polygon points="449.79,1038.62 476.21,1053.59 478.57,1044.01" fill="#1a1a22"/>
<polygon points="488.09,1048.04 520.22,1066.23 523.08,1054.59" fill="#1a1a22"/>
<polygon points="531.59,1058.74 570.19,1080.6 573.63,1066.6" fill="#1a1a22"/>
<polygon points="575.74,1069.6 620.92,1095.18 624.95,1078.8" fill="#1a1a22"/>
<polygon points="307.87,1008.4 312.94,1012.14 313.66,1010.22" fill="#1a1a22"/>
<polygon points="315.45,1011.26 321.6,1015.8 322.48,1013.47" fill="#1a1a22"/>
<polygon points="324.15,1014.55 331.55,1020 332.61,1017.21" fill="#1a1a22"/>
<polygon points="333.18,1017.96 341.87,1024.37 343.11,1021.09" fill="#1a1a22"/>
<polygon points="344.25,1022.14 354.52,1029.71 355.99,1025.83" fill="#1a1a22"/>
<polygon points="359.48,1027.89 371.94,1037.07 373.71,1032.37" fill="#1a1a22"/>
<polygon points="374.74,1033.66 389.37,1044.45 391.46,1038.92" fill="#1a1a22"/>
<polygon points="394.93,1041.28 412.45,1054.2 414.95,1047.59" fill="#1a1a22"/>
<polygon points="417.95,1049.98 438.77,1065.32 441.73,1057.46" fill="#1a1a22"/>
<polygon points="443.53,1059.64 468,1077.68 471.49,1068.44" fill="#1a1a22"/>
<polygon points="477.39,1072.43 506.71,1094.04 510.89,1082.97" fill="#1a1a22"/>
<polygon points="512.26,1085.6 546.56,1110.89 551.45,1097.94" fill="#1a1a22"/>
<polygon points="553.8,1101.29 594.04,1130.96 599.78,1115.77" fill="#1a1a22"/>
<polygon points="295.7,1006.86 298.9,1009.81 299.54,1008.55" fill="#1a1a22"/>
<polygon points="300.26,1009.19 304.08,1012.71 304.85,1011.2" fill="#1a1a22"/>
<polygon points="305.94,1012.07 310.54,1016.32 311.46,1014.5" fill="#1a1a22"/>
<polygon points="312.99,1015.66 318.55,1020.79 319.67,1018.6" fill="#1a1a22"/>
<polygon points="320.07,1019.27 326.6,1025.29 327.91,1022.72" fill="#1a1a22"/>
<polygon points="329.06,1023.85 336.83,1031.01 338.39,1027.95" fill="#1a1a22"/>
<polygon points="339.44,1029.13 348.63,1037.61 350.47,1033.99" fill="#1a1a22"/>
<polygon points="352.63,1035.85 363.63,1045.99 365.83,1041.66" fill="#1a1a22"/>
<polygon points="367.99,1043.67 381.1,1055.76 383.73,1050.59" fill="#1a1a22"/>
<polygon points="388.36,1054.04 404.26,1068.7 407.45,1062.44" fill="#1a1a22"/>
<polygon points="409.92,1065.01 428.78,1082.4 432.56,1074.98" fill="#1a1a22"/>
<polygon points="433.4,1076.96 455.47,1097.32 459.89,1088.63" fill="#1a1a22"/>
<polygon points="465.83,1093.48 492.35,1117.94 497.67,1107.49" fill="#1a1a22"/>
<polygon points="499.73,1110.74 530.9,1139.48 537.15,1127.21" fill="#1a1a22"/>
<polygon points="544.81,1133.69 582.16,1168.13 589.65,1153.42" fill="#1a1a22"/>
<polygon points="301.37,1016.53 305.04,1021.28 306.2,1019.72" fill="#1a1a22"/>
<polygon points="307.1,1020.79 311.49,1026.48 312.89,1024.61" fill="#1a1a22"/>
<polygon points="313.37,1025.45 318.56,1032.17 320.2,1029.96" fill="#1a1a22"/>
<polygon points="321.34,1031.37 327.53,1039.4 329.5,1036.75" fill="#1a1a22"/>
<polygon points="330.16,1037.93 337.47,1047.4 339.78,1044.28" fill="#1a1a22"/>
<polygon points="341.94,1046.69 350.74,1058.09 353.53,1054.33" fill="#1a1a22"/>
<polygon points="355.35,1056.65 365.85,1070.25 369.18,1065.77" fill="#1a1a22"/>
<polygon points="369.82,1067.41 382.15,1083.38 386.06,1078.12" fill="#1a1a22"/>
<polygon points="387.28,1080.39 401.82,1099.22 406.43,1093.02" fill="#1a1a22"/>
<polygon points="408.63,1096.25 425.87,1118.59 431.34,1111.23" fill="#1a1a22"/>
<polygon points="436.33,1116.85 457.08,1143.72 463.66,1134.87" fill="#1a1a22"/>
<polygon points="465.28,1138.36 489.69,1169.98 497.44,1159.57" fill="#1a1a22"/>
<polygon points="504.29,1167.36 533.64,1205.37 542.95,1192.85" fill="#1a1a22"/>
<polygon points="300.47,1021.14 303.79,1026.59 305.2,1025.07" fill="#1a1a22"/>
<polygon points="305.31,1025.65 309.2,1032.03 310.85,1030.26" fill="#1a1a22"/>
<polygon points="311.04,1030.98 315.6,1038.48 317.54,1036.39" fill="#1a1a22"/>
<polygon points="318.63,1038.05 324.09,1047.02 326.41,1044.53" fill="#1a1a22"/>
<polygon points="326.92,1045.78 333.36,1056.36 336.1,1053.41" fill="#1a1a22"/>
<polygon points="338.38,1056.45 346.17,1069.25 349.49,1065.68" fill="#1a1a22"/>
<polygon points="350.98,1068.19 360.26,1083.43 364.22,1079.19" fill="#1a1a22"/>
<polygon points="365.41,1081.62 376.39,1099.66 381.07,1094.64" fill="#1a1a22"/>
<polygon points="384.59,1099.48 397.83,1121.25 403.48,1115.19" fill="#1a1a22"/>
<polygon points="403.59,1117.18 419.09,1142.64 425.68,1135.55" fill="#1a1a22"/>
<polygon points="430.2,1141.96 448.83,1172.58 456.77,1164.05" fill="#1a1a22"/>
<polygon points="457.11,1167.03 478.93,1202.87 488.22,1192.89" fill="#1a1a22"/>
<polygon points="489.48,1197.17 515.12,1239.29 526.04,1227.57" fill="#1a1a22"/>
<polygon points="290.66,1018.12 292.55,1022.64 293.8,1021.65" fill="#1a1a22"/>
<polygon points="293.83,1022.13 296.04,1027.43 297.51,1026.28" fill="#1a1a22"/>
<polygon points="298.44,1027.95 301.12,1034.4 302.9,1032.99" fill="#1a1a22"/>
<polygon points="303.64,1034.54 306.86,1042.27 309,1040.59" fill="#1a1a22"/>
<polygon points="310.12,1042.74 314.01,1052.08 316.59,1050.04" fill="#1a1a22"/>
<polygon points="316.71,1051.08 321.28,1062.05 324.31,1059.66" fill="#1a1a22"/>
<polygon points="325.48,1062.19 330.96,1075.33 334.58,1072.46" fill="#1a1a22"/>
<polygon points="335.31,1074.62 341.79,1090.19 346.09,1086.79" fill="#1a1a22"/>
<polygon points="346.58,1088.89 354.23,1107.25 359.3,1103.25" fill="#1a1a22"/>
<polygon points="360.23,1106.17 369.28,1127.91 375.29,1123.16" fill="#1a1a22"/>
<polygon points="377.58,1128.12 388.41,1154.15 395.6,1148.47" fill="#1a1a22"/>
<polygon points="397.01,1152.71 409.85,1183.55 418.36,1176.82" fill="#1a1a22"/>
<polygon points="420.25,1182.13 435.48,1218.72 445.59,1210.74" fill="#1a1a22"/>
<polygon points="446.05,1214.79 463.95,1257.77 475.82,1248.39" fill="#1a1a22"/>
<polygon points="292.77,1030.68 294.42,1037.31 296.35,1036.21" fill="#1a1a22"/>
<polygon points="296.62,1037.42 298.58,1045.3 300.87,1043.99" fill="#1a1a22"/>
<polygon points="301.68,1046.28 304.05,1055.81 306.82,1054.22" fill="#1a1a22"/>
<polygon points="307.32,1056.17 310.16,1067.53 313.46,1065.65" fill="#1a1a22"/>
<polygon points="314.18,1068.19 317.57,1081.78 321.53,1079.52" fill="#1a1a22"/>
<polygon points="322.35,1082.5 326.41,1098.75 331.13,1096.05" fill="#1a1a22"/>
<polygon points="332.52,1100.31 337.4,1119.86 343.08,1116.62" fill="#1a1a22"/>
<polygon points="343.76,1120 349.55,1143.21 356.3,1139.36" fill="#1a1a22"/>
<polygon points="356.08,1141.58 362.87,1168.8 370.79,1164.28" fill="#1a1a22"/>
<polygon points="370.27,1166.44 378.21,1198.27 387.47,1192.99" fill="#1a1a22"/>
<polygon points="387.66,1196.91 397.02,1234.4 407.92,1228.18" fill="#1a1a22"/>
<polygon points="407.24,1231.21 418.19,1275.07 430.95,1267.79" fill="#1a1a22"/>
<polygon points="435.65,1280.98 448.91,1334.08 464.35,1325.26" fill="#1a1a22"/>
<ellipse cx="297.4" cy="995" rx="45" ry="25" fill="url(#vpGlow)" opacity="0.5"/>
<polygon points="52,901 262,901 278,960 272,1015 52,1018" fill="url(#pyr)"/>
<polygon points="140,901 262,901 276,990 200,1015 140,1015" fill="url(#pyr2)" opacity="0.8"/>
<ellipse cx="290" cy="905" rx="45" ry="25" fill="url(#lightGlow)"/>
<polygon points="201.21,1005.63 230.12,1005.63 230.12,1020.08 201.21,1020.08" fill="#24386a"/>
<polygon points="52,1012 205,1010 215,1060 200,1143 52,1143" fill="url(#cones)"/>
<polygon points="52,1060 120,1060 120,1143 52,1143" fill="url(#conesBig)"/>
<polygon points="75,945 82,945 84,1033 77,1033" fill="#2a62c0"/>
<circle cx="73.5" cy="937" r="7.8" fill="#6a6a6e"/>
<rect x="58" y="933" width="10" height="6" fill="#c8a050"/>
<polygon points="53.34,1142.29 150.07,1142.29 150.07,1131.17 53.34,1164.53" fill="#4a2c2a"/>
<polygon points="53.34,1164.53 150.07,1131.17 101.15,1195.66 74.46,1231.24 53.34,1231.24" fill="#d2ae74"/>
<polygon points="405.79,1164.53 479.18,1184.54 493.63,1195.66 493.63,1231.24 416.91,1231.24" fill="#d0ac72"/>
<polygon points="383.56,1128.95 390.23,1153.41 376.88,1153.41" fill="#17181e"/>
<polygon points="428.03,1155.63 434.7,1193.44 421.36,1193.44" fill="#17181e"/>
<polygon points="350.2,1106.71 354.65,1126.72 345.75,1126.72" fill="#17181e"/>
<polygon points="396.9,1133.4 401.35,1155.63 392.45,1155.63" fill="#17181e"/>
<line x1="492.52" y1="1073.36" x2="458.05" y2="1230.79" stroke="#d06a28" stroke-width="3"/>
<polygon points="116.71,1135.62 161.19,1128.95 350.2,1133.4 405.79,1162.3 479.18,1184.54 410.24,1231.24 78.91,1231.24 101.15,1195.66" fill="url(#foamG)"/>
<polygon points="156.74,1133.4 345.75,1135.62 379.11,1182.32 388,1231.24 116.71,1231.24" fill="#6eb4e6"/>
<polygon points="227.9,1173.42 272.37,1173.42 274.59,1231.24 223.45,1231.24" fill="#a6d2f0"/>
<polygon points="294.61,1164.53 356.87,1164.53 370.21,1195.66 305.73,1195.66" fill="#8cc6ee"/>
<polygon points="116.71,1195.66 156.74,1193.44 147.84,1231.24 112.26,1231.24" fill="#9ccdee"/>
<polygon points="263.48,993.4 310.17,1047.88 251.25,1100.13 205.66,1044.54" fill="#2c2c32"/>
<polygon points="254.36,1030.2 259.03,1035.65 253.25,1040.76 248.58,1035.31" fill="#7c7c84" opacity="0.75"/>
<polygon points="282.38,1062.89 287.05,1068.33 281.27,1073.45 276.6,1068" fill="#7c7c84" opacity="0.75"/>
<polygon points="278.82,1046.88 283.49,1052.32 277.71,1057.44 273.04,1051.99" fill="#7c7c84" opacity="0.75"/>
<polygon points="295.05,1042.09 299.72,1047.54 293.94,1052.66 289.27,1047.21" fill="#7c7c84" opacity="0.75"/>
<polygon points="223,1029.2 227.67,1034.65 221.89,1039.76 217.22,1034.31" fill="#7c7c84" opacity="0.75"/>
<polygon points="237.01,1045.54 241.68,1050.99 235.9,1056.1 231.23,1050.66" fill="#7c7c84" opacity="0.75"/>
<polygon points="248.8,1083.01 253.47,1088.46 247.69,1093.57 243.02,1088.13" fill="#7c7c84" opacity="0.75"/>
<polygon points="255.47,1019.64 260.14,1025.08 254.36,1030.2 249.69,1024.75" fill="#7c7c84" opacity="0.75"/>
<polygon points="275.26,1030.87 279.93,1036.31 274.15,1041.43 269.48,1035.98" fill="#7c7c84" opacity="0.75"/>
<polygon points="271.7,1014.85 276.37,1020.3 270.59,1025.42 265.92,1019.97" fill="#7c7c84" opacity="0.75"/>
<polygon points="289.27,1047.21 293.94,1052.66 288.16,1057.77 283.49,1052.32" fill="#7c7c84" opacity="0.75"/>
<polygon points="259.03,1035.65 263.7,1041.09 257.92,1046.21 253.25,1040.76" fill="#7c7c84" opacity="0.75"/>
<polygon points="225.45,1055.77 230.12,1061.22 224.34,1066.33 219.67,1060.89" fill="#7c7c84" opacity="0.75"/>
<polygon points="253.47,1088.46 258.14,1093.91 252.36,1099.02 247.69,1093.57" fill="#7c7c84" opacity="0.75"/>
<polygon points="249.91,1072.45 254.58,1077.9 248.8,1083.01 244.13,1077.56" fill="#7c7c84" opacity="0.75"/>
<polygon points="266.14,1067.67 270.81,1073.12 265.03,1078.23 260.36,1072.78" fill="#7c7c84" opacity="0.75"/>
<polygon points="251.91,1003.62 256.58,1009.07 250.8,1014.19 246.13,1008.74" fill="#7c7c84" opacity="0.75"/>
<polygon points="265.92,1019.97 270.59,1025.42 264.81,1030.53 260.14,1025.08" fill="#7c7c84" opacity="0.75"/>
<polygon points="277.71,1057.44 282.38,1062.89 276.6,1068 271.93,1062.55" fill="#7c7c84" opacity="0.75"/>
<polygon points="226.56,1045.21 231.23,1050.66 225.45,1055.77 220.78,1050.32" fill="#7c7c84" opacity="0.75"/>
<polygon points="246.35,1056.44 251.02,1061.89 245.24,1067 240.57,1061.55" fill="#7c7c84" opacity="0.75"/>
<polygon points="242.8,1040.43 247.46,1045.88 241.68,1050.99 237.01,1045.54" fill="#7c7c84" opacity="0.75"/>
<polygon points="260.36,1072.78 265.03,1078.23 259.25,1083.34 254.58,1077.9" fill="#7c7c84" opacity="0.75"/>
<polygon points="230.12,1061.22 234.79,1066.67 229.01,1071.78 224.34,1066.33" fill="#7c7c84" opacity="0.75"/>
<polygon points="263.48,993.4 310.17,1047.88 251.25,1100.13 205.66,1044.54" fill="none" stroke="#5a5a60" stroke-width="0.6"/>
<polygon points="205.66,1071.13 297.94,1071.13 297.94,1094.48 205.66,1094.48" fill="#dcdcd8"/>
<polygon points="231.23,1106.71 252.36,1076.69 252.36,1111.16" fill="#b8bcc0"/>
<polygon points="252.36,1076.69 273.48,1106.71 252.36,1111.16" fill="#cacaca"/>
<polygon points="231.23,1106.71 252.36,1111.16 273.48,1106.71 273.48,1133.4 231.23,1133.4" fill="#7ab8e0"/>
<polygon points="161.19,1092.26 230.12,1093.37 231.23,1157.86 164.52,1157.86" fill="#d2d2ce"/>
<polygon points="274.59,1095.59 341.31,1095.59 339.08,1160.08 274.59,1162.3" fill="#d2d2ce"/>
<polygon points="192.32,1095.59 205.66,1095.59 203.44,1155.63 192.32,1155.63" fill="#7e807e"/>
<polygon points="214.55,1095.59 226.78,1095.59 225.67,1155.63 215.67,1155.63" fill="#7e807e"/>
<polygon points="292.38,1097.82 305.73,1097.82 303.5,1117.83 291.27,1117.83" fill="#8a969c"/>
<polygon points="313.51,1104.49 327.96,1104.49 323.52,1137.84 311.29,1137.84" fill="#8a969c"/>
<polygon points="293.5,1124.5 300.17,1124.5 299.05,1144.51 294.61,1144.51" fill="#8a969c"/>
<line x1="203.3" y1="1064" x2="204.7" y2="1092.5" stroke="#141414" stroke-width="5" stroke-linecap="round"/>
<line x1="299.3" y1="1064" x2="299.9" y2="1092.5" stroke="#141414" stroke-width="5" stroke-linecap="round"/>
<path d="M 52 1192 L 54.59 1186.8 L 58.06 1179.81 L 62.18 1171.47 L 66.76 1162.25 L 71.58 1152.6 L 76.41 1142.99 L 81.06 1133.87 L 85.3 1125.7 L 89.22 1118.17 L 93.07 1110.7 L 96.85 1103.36 L 100.59 1096.24 L 104.3 1089.4 L 108.02 1082.92 L 111.74 1076.86 L 115.5 1071.3 L 119.28 1066.22 L 123.07 1061.55 L 126.86 1057.28 L 130.65 1053.37 L 134.44 1049.82 L 138.23 1046.6 L 142.02 1043.7 L 145.8 1041.1 L 149.66 1038.85 L 153.64 1036.99 L 157.66 1035.48 L 161.66 1034.29 L 165.57 1033.38 L 169.3 1032.72 L 172.8 1032.27 L 176 1032 L 178.9 1031.92 L 181.59 1032.08 L 184.07 1032.48 L 186.37 1033.11 L 188.5 1033.97 L 190.49 1035.08 L 192.35 1036.42 L 194.1 1038 L 195.73 1040.02 L 197.21 1042.57 L 198.56 1045.47 L 199.76 1048.55 L 200.83 1051.64 L 201.75 1054.56 L 202.55 1057.14 L 203.2 1059.2 L 203.66 1060.79 L 203.9 1062.07 L 203.97 1063.1 L 203.92 1063.93 L 203.8 1064.58 L 203.65 1065.12 L 203.54 1065.57 L 203.5 1066" fill="none" stroke="#1c2a80" stroke-width="5.2" stroke-linejoin="round" stroke-linecap="round"/>
<path d="M 52 1192 L 54.59 1186.8 L 58.06 1179.81 L 62.18 1171.47 L 66.76 1162.25 L 71.58 1152.6 L 76.41 1142.99 L 81.06 1133.87 L 85.3 1125.7 L 89.22 1118.17 L 93.07 1110.7 L 96.85 1103.36 L 100.59 1096.24 L 104.3 1089.4 L 108.02 1082.92 L 111.74 1076.86 L 115.5 1071.3 L 119.28 1066.22 L 123.07 1061.55 L 126.86 1057.28 L 130.65 1053.37 L 134.44 1049.82 L 138.23 1046.6 L 142.02 1043.7 L 145.8 1041.1 L 149.66 1038.85 L 153.64 1036.99 L 157.66 1035.48 L 161.66 1034.29 L 165.57 1033.38 L 169.3 1032.72 L 172.8 1032.27 L 176 1032 L 178.9 1031.92 L 181.59 1032.08 L 184.07 1032.48 L 186.37 1033.11 L 188.5 1033.97 L 190.49 1035.08 L 192.35 1036.42 L 194.1 1038 L 195.73 1040.02 L 197.21 1042.57 L 198.56 1045.47 L 199.76 1048.55 L 200.83 1051.64 L 201.75 1054.56 L 202.55 1057.14 L 203.2 1059.2 L 203.66 1060.79 L 203.9 1062.07 L 203.97 1063.1 L 203.92 1063.93 L 203.8 1064.58 L 203.65 1065.12 L 203.54 1065.57 L 203.5 1066" fill="none" stroke="#3a5ad0" stroke-width="3.4" stroke-linejoin="round" stroke-linecap="round"/>
<path d="M 76.3 1230.9 L 79.28 1226.79 L 83.2 1221.39 L 87.86 1214.96 L 93.06 1207.78 L 98.62 1200.12 L 104.35 1192.28 L 110.04 1184.51 L 115.5 1177.1 L 120.88 1169.72 L 126.42 1161.97 L 132.08 1154.01 L 137.82 1145.99 L 143.61 1138.09 L 149.41 1130.47 L 155.19 1123.29 L 160.9 1116.7 L 166.57 1110.67 L 172.23 1105.04 L 177.89 1099.75 L 183.56 1094.79 L 189.22 1090.1 L 194.88 1085.67 L 200.54 1081.45 L 206.2 1077.4 L 211.97 1073.54 L 217.88 1069.9 L 223.85 1066.49 L 229.79 1063.32 L 235.61 1060.4 L 241.23 1057.73 L 246.56 1055.33 L 251.5 1053.2 L 256.11 1051.35 L 260.49 1049.78 L 264.63 1048.47 L 268.54 1047.41 L 272.21 1046.61 L 275.65 1046.04 L 278.84 1045.71 L 281.8 1045.6 L 284.5 1045.79 L 286.94 1046.31 L 289.13 1047.11 L 291.09 1048.12 L 292.84 1049.3 L 294.37 1050.58 L 295.72 1051.9 L 296.9 1053.2 L 297.82 1054.64 L 298.45 1056.33 L 298.84 1058.18 L 299.04 1060.08 L 299.13 1061.91 L 299.17 1063.58 L 299.2 1064.98 L 299.3 1066" fill="none" stroke="#1c2a80" stroke-width="5.2" stroke-linejoin="round" stroke-linecap="round"/>
<path d="M 76.3 1230.9 L 79.28 1226.79 L 83.2 1221.39 L 87.86 1214.96 L 93.06 1207.78 L 98.62 1200.12 L 104.35 1192.28 L 110.04 1184.51 L 115.5 1177.1 L 120.88 1169.72 L 126.42 1161.97 L 132.08 1154.01 L 137.82 1145.99 L 143.61 1138.09 L 149.41 1130.47 L 155.19 1123.29 L 160.9 1116.7 L 166.57 1110.67 L 172.23 1105.04 L 177.89 1099.75 L 183.56 1094.79 L 189.22 1090.1 L 194.88 1085.67 L 200.54 1081.45 L 206.2 1077.4 L 211.97 1073.54 L 217.88 1069.9 L 223.85 1066.49 L 229.79 1063.32 L 235.61 1060.4 L 241.23 1057.73 L 246.56 1055.33 L 251.5 1053.2 L 256.11 1051.35 L 260.49 1049.78 L 264.63 1048.47 L 268.54 1047.41 L 272.21 1046.61 L 275.65 1046.04 L 278.84 1045.71 L 281.8 1045.6 L 284.5 1045.79 L 286.94 1046.31 L 289.13 1047.11 L 291.09 1048.12 L 292.84 1049.3 L 294.37 1050.58 L 295.72 1051.9 L 296.9 1053.2 L 297.82 1054.64 L 298.45 1056.33 L 298.84 1058.18 L 299.04 1060.08 L 299.13 1061.91 L 299.17 1063.58 L 299.2 1064.98 L 299.3 1066" fill="none" stroke="#3a5ad0" stroke-width="3.4" stroke-linejoin="round" stroke-linecap="round"/>
</svg>
<text x="257.5" y="1036.6" font-family="Liberation Serif, serif" font-size="21" font-weight="bold" fill="#ffff00" text-anchor="middle" filter="url(#yshadow)">Sample</text>
<text x="174.5" y="1169" font-family="Liberation Serif, serif" font-size="21.5" font-weight="bold" fill="#ff0000" text-anchor="middle" filter="url(#rglow)">Transmitting</text>
<text x="174.5" y="1194.5" font-family="Liberation Serif, serif" font-size="21.5" font-weight="bold" fill="#ff0000" text-anchor="middle" filter="url(#rglow)">antenna</text>
<text x="341.9" y="1169" font-family="Liberation Serif, serif" font-size="21.5" font-weight="bold" fill="#ff0000" text-anchor="middle" filter="url(#rglow)">Reciving</text>
<text x="341.3" y="1194.5" font-family="Liberation Serif, serif" font-size="21.5" font-weight="bold" fill="#ff0000" text-anchor="middle" filter="url(#rglow)">antenna</text>
<text x="194.1" y="888.5" font-family="Liberation Serif, serif" font-size="31.7" font-weight="bold" fill="#000" text-anchor="start" >@2-6GHz</text>
<text x="190.2" y="1263.2" font-family="Liberation Serif, serif" font-size="31.6" font-weight="bold" fill="#000" text-anchor="start" >@6-12GHz</text>
<rect x="577" y="636.6" width="181" height="457.4" fill="#fdb483"/>
<rect x="758" y="636.6" width="308.6" height="457.4" fill="#88fefe"/>
<rect x="1066.6" y="636.6" width="119.2" height="457.4" fill="#fdb483"/>
<text x="781.8" y="678" font-family="Liberation Serif, serif" font-size="34.1" font-weight="bold" fill="#000" text-anchor="start" >The RCS of copper</text>
<text x="863.8" y="810.8" font-family="Liberation Serif, serif" font-size="32.1" font-weight="bold" fill="#000" text-anchor="start" >The reducation of RCS</text>
<text x="826.2" y="1013.7" font-family="Liberation Serif, serif" font-size="34" font-weight="bold" fill="#000" text-anchor="start" >The RCS of metasurface</text>
<text x="756.8" y="1071" font-family="Liberation Serif, serif" font-size="34.9" font-weight="bold" fill="#000" text-anchor="start" >5GHz</text>
<text x="1066.5" y="1071" font-family="Liberation Serif, serif" font-size="34.9" font-weight="bold" fill="#000" text-anchor="start" >10GHz</text>
<polyline points="577,868.96 589.23,854.85 601.46,846.22 613.69,838.64 625.92,828.97 638.15,818.65 650.38,810.41 662.61,803.88 674.84,797.47 687.07,789.89 699.3,784.93 711.53,783.88 723.76,781.79 735.99,782.84 748.22,799.7 760.45,826.75 772.68,894.18 784.91,923.32 797.14,831.32 809.37,849.36 821.6,839.29 833.83,860.6 846.06,879.68 858.29,889.74 870.52,874.06 882.75,884.12 894.98,914.31 907.21,932.34 919.44,921.1 931.67,905.42 943.9,891.96 956.13,875.1 968.36,856.02 980.59,855.5 992.82,871.57 1005.05,900.98 1017.28,913.65 1029.51,884.77 1041.74,899.93 1053.97,877.72 1066.2,824 1078.43,791.07 1090.66,772.77 1102.89,787.54 1115.12,759.71 1127.35,745.98 1139.58,734.74 1151.81,727.69 1164.04,722.07 1176.27,716.06 1188.5,717.63" fill="none" stroke="#ff0000" stroke-width="3.2" stroke-linejoin="round"/>
<rect x="573.2" y="865.16" width="7.6" height="7.6" fill="#ff0000"/>
<rect x="585.43" y="851.05" width="7.6" height="7.6" fill="#ff0000"/>
<rect x="597.66" y="842.42" width="7.6" height="7.6" fill="#ff0000"/>
<rect x="609.89" y="834.84" width="7.6" height="7.6" fill="#ff0000"/>
<rect x="622.12" y="825.17" width="7.6" height="7.6" fill="#ff0000"/>
<rect x="634.35" y="814.85" width="7.6" height="7.6" fill="#ff0000"/>
<rect x="646.58" y="806.61" width="7.6" height="7.6" fill="#ff0000"/>
<rect x="658.81" y="800.08" width="7.6" height="7.6" fill="#ff0000"/>
<rect x="671.04" y="793.67" width="7.6" height="7.6" fill="#ff0000"/>
<rect x="683.27" y="786.09" width="7.6" height="7.6" fill="#ff0000"/>
<rect x="695.5" y="781.13" width="7.6" height="7.6" fill="#ff0000"/>
<rect x="707.73" y="780.08" width="7.6" height="7.6" fill="#ff0000"/>
<rect x="719.96" y="777.99" width="7.6" height="7.6" fill="#ff0000"/>
<rect x="732.19" y="779.04" width="7.6" height="7.6" fill="#ff0000"/>
<rect x="744.42" y="795.9" width="7.6" height="7.6" fill="#ff0000"/>
<rect x="756.65" y="822.95" width="7.6" height="7.6" fill="#ff0000"/>
<rect x="768.88" y="890.38" width="7.6" height="7.6" fill="#ff0000"/>
<rect x="781.11" y="919.52" width="7.6" height="7.6" fill="#ff0000"/>
<rect x="793.34" y="827.52" width="7.6" height="7.6" fill="#ff0000"/>
<rect x="805.57" y="845.56" width="7.6" height="7.6" fill="#ff0000"/>
<rect x="817.8" y="835.49" width="7.6" height="7.6" fill="#ff0000"/>
<rect x="830.03" y="856.8" width="7.6" height="7.6" fill="#ff0000"/>
<rect x="842.26" y="875.88" width="7.6" height="7.6" fill="#ff0000"/>
<rect x="854.49" y="885.94" width="7.6" height="7.6" fill="#ff0000"/>
<rect x="866.72" y="870.26" width="7.6" height="7.6" fill="#ff0000"/>
<rect x="878.95" y="880.32" width="7.6" height="7.6" fill="#ff0000"/>
<rect x="891.18" y="910.51" width="7.6" height="7.6" fill="#ff0000"/>
<rect x="903.41" y="928.54" width="7.6" height="7.6" fill="#ff0000"/>
<rect x="915.64" y="917.3" width="7.6" height="7.6" fill="#ff0000"/>
<rect x="927.87" y="901.62" width="7.6" height="7.6" fill="#ff0000"/>
<rect x="940.1" y="888.16" width="7.6" height="7.6" fill="#ff0000"/>
<rect x="952.33" y="871.3" width="7.6" height="7.6" fill="#ff0000"/>
<rect x="964.56" y="852.22" width="7.6" height="7.6" fill="#ff0000"/>
<rect x="976.79" y="851.7" width="7.6" height="7.6" fill="#ff0000"/>
<rect x="989.02" y="867.77" width="7.6" height="7.6" fill="#ff0000"/>
<rect x="1001.25" y="897.18" width="7.6" height="7.6" fill="#ff0000"/>
<rect x="1013.48" y="909.85" width="7.6" height="7.6" fill="#ff0000"/>
<rect x="1025.71" y="880.97" width="7.6" height="7.6" fill="#ff0000"/>
<rect x="1037.94" y="896.13" width="7.6" height="7.6" fill="#ff0000"/>
<rect x="1050.17" y="873.92" width="7.6" height="7.6" fill="#ff0000"/>
<rect x="1062.4" y="820.2" width="7.6" height="7.6" fill="#ff0000"/>
<rect x="1074.63" y="787.27" width="7.6" height="7.6" fill="#ff0000"/>
<rect x="1086.86" y="768.97" width="7.6" height="7.6" fill="#ff0000"/>
<rect x="1099.09" y="783.74" width="7.6" height="7.6" fill="#ff0000"/>
<rect x="1111.32" y="755.91" width="7.6" height="7.6" fill="#ff0000"/>
<rect x="1123.55" y="742.18" width="7.6" height="7.6" fill="#ff0000"/>
<rect x="1135.78" y="730.94" width="7.6" height="7.6" fill="#ff0000"/>
<rect x="1148.01" y="723.89" width="7.6" height="7.6" fill="#ff0000"/>
<rect x="1160.24" y="718.27" width="7.6" height="7.6" fill="#ff0000"/>
<rect x="1172.47" y="712.26" width="7.6" height="7.6" fill="#ff0000"/>
<rect x="1184.7" y="713.83" width="7.6" height="7.6" fill="#ff0000"/>
<polyline points="577,875.34 589.23,862.09 601.46,850.4 613.69,839.94 625.92,830.5 638.15,821.9 650.38,814 662.61,806.7 674.84,799.92 687.07,793.58 699.3,787.63 711.53,782.02 723.76,776.71 735.99,771.67 748.22,766.87 760.45,762.29 772.68,757.91 784.91,753.7 797.14,749.65 809.37,745.76 821.6,741.99 833.83,738.36 846.06,734.83 858.29,731.42 870.52,728.1 882.75,724.88 894.98,721.74 907.21,718.69 919.44,715.7 931.67,712.79 943.9,709.95 956.13,707.17 968.36,704.44 980.59,701.78 992.82,699.16 1005.05,696.6 1017.28,694.08 1029.51,691.61 1041.74,689.18 1053.97,686.79 1066.2,684.44 1078.43,682.13 1090.66,679.86 1102.89,677.62 1115.12,675.41 1127.35,673.23 1139.58,671.09 1151.81,668.97 1164.04,666.88 1176.27,664.82 1188.5,662.78" fill="none" stroke="#0000ff" stroke-width="3.4" stroke-linejoin="round"/>
<circle cx="577" cy="875.34" r="3.9" fill="#0000ff"/>
<circle cx="589.23" cy="862.09" r="3.9" fill="#0000ff"/>
<circle cx="601.46" cy="850.4" r="3.9" fill="#0000ff"/>
<circle cx="613.69" cy="839.94" r="3.9" fill="#0000ff"/>
<circle cx="625.92" cy="830.5" r="3.9" fill="#0000ff"/>
<circle cx="638.15" cy="821.9" r="3.9" fill="#0000ff"/>
<circle cx="650.38" cy="814" r="3.9" fill="#0000ff"/>
<circle cx="662.61" cy="806.7" r="3.9" fill="#0000ff"/>
<circle cx="674.84" cy="799.92" r="3.9" fill="#0000ff"/>
<circle cx="687.07" cy="793.58" r="3.9" fill="#0000ff"/>
<circle cx="699.3" cy="787.63" r="3.9" fill="#0000ff"/>
<circle cx="711.53" cy="782.02" r="3.9" fill="#0000ff"/>
<circle cx="723.76" cy="776.71" r="3.9" fill="#0000ff"/>
<circle cx="735.99" cy="771.67" r="3.9" fill="#0000ff"/>
<circle cx="748.22" cy="766.87" r="3.9" fill="#0000ff"/>
<circle cx="760.45" cy="762.29" r="3.9" fill="#0000ff"/>
<circle cx="772.68" cy="757.91" r="3.9" fill="#0000ff"/>
<circle cx="784.91" cy="753.7" r="3.9" fill="#0000ff"/>
<circle cx="797.14" cy="749.65" r="3.9" fill="#0000ff"/>
<circle cx="809.37" cy="745.76" r="3.9" fill="#0000ff"/>
<circle cx="821.6" cy="741.99" r="3.9" fill="#0000ff"/>
<circle cx="833.83" cy="738.36" r="3.9" fill="#0000ff"/>
<circle cx="846.06" cy="734.83" r="3.9" fill="#0000ff"/>
<circle cx="858.29" cy="731.42" r="3.9" fill="#0000ff"/>
<circle cx="870.52" cy="728.1" r="3.9" fill="#0000ff"/>
<circle cx="882.75" cy="724.88" r="3.9" fill="#0000ff"/>
<circle cx="894.98" cy="721.74" r="3.9" fill="#0000ff"/>
<circle cx="907.21" cy="718.69" r="3.9" fill="#0000ff"/>
<circle cx="919.44" cy="715.7" r="3.9" fill="#0000ff"/>
<circle cx="931.67" cy="712.79" r="3.9" fill="#0000ff"/>
<circle cx="943.9" cy="709.95" r="3.9" fill="#0000ff"/>
<circle cx="956.13" cy="707.17" r="3.9" fill="#0000ff"/>
<circle cx="968.36" cy="704.44" r="3.9" fill="#0000ff"/>
<circle cx="980.59" cy="701.78" r="3.9" fill="#0000ff"/>
<circle cx="992.82" cy="699.16" r="3.9" fill="#0000ff"/>
<circle cx="1005.05" cy="696.6" r="3.9" fill="#0000ff"/>
<circle cx="1017.28" cy="694.08" r="3.9" fill="#0000ff"/>
<circle cx="1029.51" cy="691.61" r="3.9" fill="#0000ff"/>
<circle cx="1041.74" cy="689.18" r="3.9" fill="#0000ff"/>
<circle cx="1053.97" cy="686.79" r="3.9" fill="#0000ff"/>
<circle cx="1066.2" cy="684.44" r="3.9" fill="#0000ff"/>
<circle cx="1078.43" cy="682.13" r="3.9" fill="#0000ff"/>
<circle cx="1090.66" cy="679.86" r="3.9" fill="#0000ff"/>
<circle cx="1102.89" cy="677.62" r="3.9" fill="#0000ff"/>
<circle cx="1115.12" cy="675.41" r="3.9" fill="#0000ff"/>
<circle cx="1127.35" cy="673.23" r="3.9" fill="#0000ff"/>
<circle cx="1139.58" cy="671.09" r="3.9" fill="#0000ff"/>
<circle cx="1151.81" cy="668.97" r="3.9" fill="#0000ff"/>
<circle cx="1164.04" cy="666.88" r="3.9" fill="#0000ff"/>
<circle cx="1176.27" cy="664.82" r="3.9" fill="#0000ff"/>
<circle cx="1188.5" cy="662.78" r="3.9" fill="#0000ff"/>
<line x1="857.8" y1="736.42" x2="857.8" y2="881.74" stroke="#000" stroke-width="2"/>
<polygon points="857.8,727.42 853.3,739.42 862.3,739.42" fill="#000"/>
<polygon points="857.8,890.74 853.3,878.74 862.3,878.74" fill="#000"/>
<rect x="577" y="636.6" width="611.5" height="457.4" fill="none" stroke="#000" stroke-width="2.8"/>
<line x1="638.15" y1="1094" x2="638.15" y2="1090.8" stroke="#000" stroke-width="2.4"/>
<line x1="699.3" y1="1094" x2="699.3" y2="1088" stroke="#000" stroke-width="2.4"/>
<line x1="760.45" y1="1094" x2="760.45" y2="1090.8" stroke="#000" stroke-width="2.4"/>
<line x1="821.6" y1="1094" x2="821.6" y2="1088" stroke="#000" stroke-width="2.4"/>
<line x1="882.75" y1="1094" x2="882.75" y2="1090.8" stroke="#000" stroke-width="2.4"/>
<line x1="943.9" y1="1094" x2="943.9" y2="1088" stroke="#000" stroke-width="2.4"/>
<line x1="1005.05" y1="1094" x2="1005.05" y2="1090.8" stroke="#000" stroke-width="2.4"/>
<line x1="1066.2" y1="1094" x2="1066.2" y2="1088" stroke="#000" stroke-width="2.4"/>
<line x1="1127.35" y1="1094" x2="1127.35" y2="1090.8" stroke="#000" stroke-width="2.4"/>
<line x1="577" y1="1028.66" x2="580.2" y2="1028.66" stroke="#000" stroke-width="2.4"/>
<line x1="577" y1="963.31" x2="583.5" y2="963.31" stroke="#000" stroke-width="2.4"/>
<line x1="577" y1="897.97" x2="580.2" y2="897.97" stroke="#000" stroke-width="2.4"/>
<line x1="577" y1="832.63" x2="583.5" y2="832.63" stroke="#000" stroke-width="2.4"/>
<line x1="577" y1="767.29" x2="580.2" y2="767.29" stroke="#000" stroke-width="2.4"/>
<line x1="577" y1="701.94" x2="583.5" y2="701.94" stroke="#000" stroke-width="2.4"/>
<text transform="translate(577 1123.6) scale(1.0 1.07)" x="0" y="0" font-family="Liberation Serif, serif" font-size="26.0" font-weight="bold" text-anchor="middle">2</text>
<text transform="translate(699.3 1123.6) scale(1.0 1.07)" x="0" y="0" font-family="Liberation Serif, serif" font-size="26.0" font-weight="bold" text-anchor="middle">4</text>
<text transform="translate(821.6 1123.6) scale(1.0 1.07)" x="0" y="0" font-family="Liberation Serif, serif" font-size="26.0" font-weight="bold" text-anchor="middle">6</text>
<text transform="translate(943.9 1123.6) scale(1.0 1.07)" x="0" y="0" font-family="Liberation Serif, serif" font-size="26.0" font-weight="bold" text-anchor="middle">8</text>
<text transform="translate(1066.2 1123.6) scale(1.0 1.07)" x="0" y="0" font-family="Liberation Serif, serif" font-size="26.0" font-weight="bold" text-anchor="middle">10</text>
<text transform="translate(1188.5 1123.6) scale(1.0 1.07)" x="0" y="0" font-family="Liberation Serif, serif" font-size="26.0" font-weight="bold" text-anchor="middle">12</text>
<text transform="translate(568.3 1102.1) scale(1.0 1.08)" x="0" y="0" font-family="Liberation Serif, serif" font-size="26.2" font-weight="bold" text-anchor="end">-10</text>
<text transform="translate(568.3 971.41) scale(1.0 1.08)" x="0" y="0" font-family="Liberation Serif, serif" font-size="26.2" font-weight="bold" text-anchor="end">0</text>
<text transform="translate(568.3 840.73) scale(1.0 1.08)" x="0" y="0" font-family="Liberation Serif, serif" font-size="26.2" font-weight="bold" text-anchor="end">10</text>
<text transform="translate(568.3 710.04) scale(1.0 1.08)" x="0" y="0" font-family="Liberation Serif, serif" font-size="26.2" font-weight="bold" text-anchor="end">20</text>
<text x="714.8" y="1154.2" font-family="Liberation Serif, serif" font-size="45.5" font-weight="bold" fill="#000" text-anchor="start" >Frequency (GHz)</text>
<text x="0" y="0" transform="translate(530.5 1145.3) rotate(-90)" font-family="Liberation Serif, serif" font-size="35.6" font-weight="bold">Simulation values of the RCS(dB)</text>
<rect x="1330.3" y="636.1" width="615.9" height="468.3" fill="#fdb483"/>
<rect x="1524.6" y="636.1" width="307.1" height="468.3" fill="#88fefe"/>
<line x1="1524.6" y1="636.1" x2="1524.6" y2="1104.4" stroke="#4a9cf0" stroke-width="1.6"/>
<line x1="1831.7" y1="636.1" x2="1831.7" y2="1104.4" stroke="#4a9cf0" stroke-width="1.6"/>
<line x1="1330.3" y1="840.98" x2="1946.2" y2="840.98" stroke="#000" stroke-width="2.6" stroke-dasharray="14.2 12.93" stroke-dashoffset="0"/>
<text x="1350.3" y="866.5" font-family="Liberation Serif, serif" font-size="30.3" font-weight="bold" fill="#000" text-anchor="start" >-5dB</text>
<text x="1524.2" y="1068.8" font-family="Liberation Serif, serif" font-size="31.7" font-weight="bold" fill="#000" text-anchor="start" >5.1GHz</text>
<text x="1827.6" y="1068.8" font-family="Liberation Serif, serif" font-size="31.55" font-weight="bold" fill="#000" text-anchor="start" >10.1GHz</text>
<text x="1524.7" y="781.7" font-family="Liberation Serif, serif" font-size="30.96" font-weight="bold" fill="#000" text-anchor="start" >Stealth frequency band</text>
<line x1="1538.6" y1="794.5" x2="1817.7" y2="794.5" stroke="#000" stroke-width="2.2"/>
<polygon points="1525.6,794.5 1544.6,789.0 1544.6,800.0" fill="#000"/>
<polygon points="1830.7,794.5 1811.7,789.0 1811.7,800.0" fill="#000"/>
<polyline points="1330.3,778.58 1342.62,778.93 1354.94,778.93 1367.25,778.93 1379.57,778.93 1391.89,778.93 1404.21,779.17 1416.53,779.52 1428.84,779.87 1441.16,780.34 1453.48,781.04 1465.8,783.26 1478.12,785.96 1490.43,793.45 1502.75,811.95 1515.07,840.86 1527.39,904.2 1539.71,934.64 1552.02,856.2 1564.34,874.93 1576.66,870.25 1588.98,892.49 1601.3,913.57 1613.61,924.1 1625.93,912.4 1638.25,925.28 1650.57,954.54 1662.89,973.28 1675.2,966.25 1687.52,953.37 1699.84,945.18 1712.16,932.3 1724.48,918.25 1736.79,918.25 1749.11,935.81 1761.43,965.08 1773.75,979.13 1786.07,954.54 1798.38,970.93 1810.7,953.37 1823.02,906.54 1835.34,879.62 1847.66,866.74 1859.97,883.13 1872.29,858.54 1884.61,848.01 1896.93,840.98 1909.25,836.3 1921.56,832.79 1933.88,829.27 1946.2,831.62" fill="none" stroke="#ff0000" stroke-width="3.2" stroke-linejoin="round"/>
<rect x="1326.5" y="774.78" width="7.6" height="7.6" fill="#ff0000"/>
<rect x="1338.82" y="775.13" width="7.6" height="7.6" fill="#ff0000"/>
<rect x="1351.14" y="775.13" width="7.6" height="7.6" fill="#ff0000"/>
<rect x="1363.45" y="775.13" width="7.6" height="7.6" fill="#ff0000"/>
<rect x="1375.77" y="775.13" width="7.6" height="7.6" fill="#ff0000"/>
<rect x="1388.09" y="775.13" width="7.6" height="7.6" fill="#ff0000"/>
<rect x="1400.41" y="775.37" width="7.6" height="7.6" fill="#ff0000"/>
<rect x="1412.73" y="775.72" width="7.6" height="7.6" fill="#ff0000"/>
<rect x="1425.04" y="776.07" width="7.6" height="7.6" fill="#ff0000"/>
<rect x="1437.36" y="776.54" width="7.6" height="7.6" fill="#ff0000"/>
<rect x="1449.68" y="777.24" width="7.6" height="7.6" fill="#ff0000"/>
<rect x="1462" y="779.46" width="7.6" height="7.6" fill="#ff0000"/>
<rect x="1474.32" y="782.16" width="7.6" height="7.6" fill="#ff0000"/>
<rect x="1486.63" y="789.65" width="7.6" height="7.6" fill="#ff0000"/>
<rect x="1498.95" y="808.15" width="7.6" height="7.6" fill="#ff0000"/>
<rect x="1511.27" y="837.06" width="7.6" height="7.6" fill="#ff0000"/>
<rect x="1523.59" y="900.4" width="7.6" height="7.6" fill="#ff0000"/>
<rect x="1535.91" y="930.84" width="7.6" height="7.6" fill="#ff0000"/>
<rect x="1548.22" y="852.4" width="7.6" height="7.6" fill="#ff0000"/>
<rect x="1560.54" y="871.13" width="7.6" height="7.6" fill="#ff0000"/>
<rect x="1572.86" y="866.45" width="7.6" height="7.6" fill="#ff0000"/>
<rect x="1585.18" y="888.69" width="7.6" height="7.6" fill="#ff0000"/>
<rect x="1597.5" y="909.77" width="7.6" height="7.6" fill="#ff0000"/>
<rect x="1609.81" y="920.3" width="7.6" height="7.6" fill="#ff0000"/>
<rect x="1622.13" y="908.6" width="7.6" height="7.6" fill="#ff0000"/>
<rect x="1634.45" y="921.48" width="7.6" height="7.6" fill="#ff0000"/>
<rect x="1646.77" y="950.74" width="7.6" height="7.6" fill="#ff0000"/>
<rect x="1659.09" y="969.48" width="7.6" height="7.6" fill="#ff0000"/>
<rect x="1671.4" y="962.45" width="7.6" height="7.6" fill="#ff0000"/>
<rect x="1683.72" y="949.57" width="7.6" height="7.6" fill="#ff0000"/>
<rect x="1696.04" y="941.38" width="7.6" height="7.6" fill="#ff0000"/>
<rect x="1708.36" y="928.5" width="7.6" height="7.6" fill="#ff0000"/>
<rect x="1720.68" y="914.45" width="7.6" height="7.6" fill="#ff0000"/>
<rect x="1732.99" y="914.45" width="7.6" height="7.6" fill="#ff0000"/>
<rect x="1745.31" y="932.01" width="7.6" height="7.6" fill="#ff0000"/>
<rect x="1757.63" y="961.28" width="7.6" height="7.6" fill="#ff0000"/>
<rect x="1769.95" y="975.33" width="7.6" height="7.6" fill="#ff0000"/>
<rect x="1782.27" y="950.74" width="7.6" height="7.6" fill="#ff0000"/>
<rect x="1794.58" y="967.13" width="7.6" height="7.6" fill="#ff0000"/>
<rect x="1806.9" y="949.57" width="7.6" height="7.6" fill="#ff0000"/>
<rect x="1819.22" y="902.74" width="7.6" height="7.6" fill="#ff0000"/>
<rect x="1831.54" y="875.82" width="7.6" height="7.6" fill="#ff0000"/>
<rect x="1843.86" y="862.94" width="7.6" height="7.6" fill="#ff0000"/>
<rect x="1856.17" y="879.33" width="7.6" height="7.6" fill="#ff0000"/>
<rect x="1868.49" y="854.74" width="7.6" height="7.6" fill="#ff0000"/>
<rect x="1880.81" y="844.21" width="7.6" height="7.6" fill="#ff0000"/>
<rect x="1893.13" y="837.18" width="7.6" height="7.6" fill="#ff0000"/>
<rect x="1905.45" y="832.5" width="7.6" height="7.6" fill="#ff0000"/>
<rect x="1917.76" y="828.99" width="7.6" height="7.6" fill="#ff0000"/>
<rect x="1930.08" y="825.47" width="7.6" height="7.6" fill="#ff0000"/>
<rect x="1942.4" y="827.82" width="7.6" height="7.6" fill="#ff0000"/>
<polyline points="1330.3,762.66 1332.15,686.44 1335.84,759.03 1339.54,823.42 1342.62,792.51 1346.31,725.55 1350.01,770.74 1353.7,807.03 1354.94,801.76 1361.1,701.66 1365.41,759.03 1370.33,802.7 1373.41,764.88 1378.34,702.25 1379.57,718.05 1384.5,783.26 1388.19,747.32 1390.66,726.48 1393.12,723.91 1396.2,741.47 1399.28,751.65 1404.21,745.1 1407.29,705.17 1410.37,729.76 1413.45,725.08 1417.14,751.65 1421.45,718.05 1426.38,690.19 1428.84,732.1 1432.54,756.22 1436.23,723.91 1439.93,697.68 1443.01,729.76 1446.09,749.66 1450.4,723.91 1453.48,693.94 1455.94,723.91 1458.41,745.1 1462.72,723.91 1465.8,714.54 1470.11,746.15 1473.8,735.61 1478.12,725.55 1482.43,727.42 1486.12,737.96 1489.82,749.66 1495.36,727.42 1499.06,741.47 1502.75,749.66 1506.45,764.88 1510.76,786.89 1513.22,781.51 1516.92,800.01 1521.23,814.87 1525.54,834.19 1527.7,860.53 1529.85,902.45 1532.93,879.26 1535.39,888.51 1537.86,888.51 1540.94,946.35 1544.02,899.28 1549.56,961.57 1552.64,908.88 1555.72,842.03 1559.41,845.08 1563.73,826.46 1567.42,824.94 1571.73,849.64 1576.04,851.28 1577.89,882.31 1582.2,811.71 1585.28,838.87 1587.13,886.87 1590.83,868.26 1593.91,837.35 1598.22,863.69 1603.76,851.28 1609.3,873.06 1613,894.72 1616.69,873.06 1621,874.58 1624.7,938.15 1628.4,888.51 1632.09,869.9 1634.55,900.69 1637.63,913.57 1643.18,860.65 1646.26,876.1 1648.72,975.62 1651.8,919.42 1655.5,885.47 1658.57,903.97 1664.73,945.18 1667.2,914.74 1670.89,913.57 1672.74,934.17 1673.97,914.74 1678.28,927.62 1683.83,948.69 1685.67,907.13 1688.14,919.42 1691.22,944.01 1693.68,922.93 1696.14,921.76 1699.84,931.13 1702.3,919.07 1706,966.25 1709.69,942.84 1713.39,917.67 1716.47,947.05 1720.78,905.37 1723.24,908.88 1725.09,908.88 1728.17,959.23 1731.87,893.9 1736.18,926.09 1739.26,959.23 1742.95,897.41 1748.5,927.62 1754.04,885.47 1758.35,917.67 1762.66,940.03 1766.36,895.3 1770.67,936.98 1774.36,922.93 1776.21,973.28 1779.91,903.73 1784.83,917.67 1787.91,931.6 1789.76,892.49 1790.99,977.96 1794.69,864.4 1796.54,929.96 1799.62,910.06 1805.77,899.52 1808.85,907.71 1813.78,878.45 1816.86,900.69 1818.71,896.01 1821.79,903.73 1826.1,871.42 1829.18,868.85 1832.26,836.3 1835.34,835.13 1839.03,860.53 1840.88,867.91 1843.96,832.55 1846.42,831.62 1851.97,857.72 1853.2,803.75 1856.89,814.05 1860.59,801.88 1866.75,821.43 1870.44,791.58 1873.52,796.49 1877.84,825.06 1880.91,799.07 1885.23,794.03 1887.07,819.91 1891.38,819.44 1893.23,809.37 1896.93,814.87 1903.7,789.82 1908.63,799.07 1911.09,817.57 1913.56,803.75 1918.48,820.49 1920.33,787.95 1922.18,805.86 1924.03,783.38 1928.95,798.01 1931.42,785.14 1935.11,796.49 1938.19,785.14 1940.66,805.62 1943.74,772.14 1946.2,773.08" fill="none" stroke="#0000ff" stroke-width="3.4" stroke-linejoin="round"/>
<circle cx="1330.3" cy="762.66" r="3.8" fill="#0000ff"/>
<circle cx="1342.62" cy="792.51" r="3.8" fill="#0000ff"/>
<circle cx="1354.94" cy="801.76" r="3.8" fill="#0000ff"/>
<circle cx="1367.25" cy="775.4" r="3.8" fill="#0000ff"/>
<circle cx="1379.57" cy="718.05" r="3.8" fill="#0000ff"/>
<circle cx="1391.89" cy="725.19" r="3.8" fill="#0000ff"/>
<circle cx="1404.21" cy="745.1" r="3.8" fill="#0000ff"/>
<circle cx="1416.53" cy="747.22" r="3.8" fill="#0000ff"/>
<circle cx="1428.84" cy="732.1" r="3.8" fill="#0000ff"/>
<circle cx="1441.16" cy="710.51" r="3.8" fill="#0000ff"/>
<circle cx="1453.48" cy="693.94" r="3.8" fill="#0000ff"/>
<circle cx="1465.8" cy="714.54" r="3.8" fill="#0000ff"/>
<circle cx="1478.12" cy="725.55" r="3.8" fill="#0000ff"/>
<circle cx="1490.43" cy="747.19" r="3.8" fill="#0000ff"/>
<circle cx="1502.75" cy="749.66" r="3.8" fill="#0000ff"/>
<circle cx="1515.07" cy="790.76" r="3.8" fill="#0000ff"/>
<circle cx="1527.39" cy="856.77" r="3.8" fill="#0000ff"/>
<circle cx="1539.71" cy="923.21" r="3.8" fill="#0000ff"/>
<circle cx="1552.02" cy="919.42" r="3.8" fill="#0000ff"/>
<circle cx="1564.34" cy="826.21" r="3.8" fill="#0000ff"/>
<circle cx="1576.66" cy="861.63" r="3.8" fill="#0000ff"/>
<circle cx="1588.98" cy="877.57" r="3.8" fill="#0000ff"/>
<circle cx="1601.3" cy="856.8" r="3.8" fill="#0000ff"/>
<circle cx="1613.61" cy="891.11" r="3.8" fill="#0000ff"/>
<circle cx="1625.93" cy="921.61" r="3.8" fill="#0000ff"/>
<circle cx="1638.25" cy="907.69" r="3.8" fill="#0000ff"/>
<circle cx="1650.57" cy="941.9" r="3.8" fill="#0000ff"/>
<circle cx="1662.89" cy="932.81" r="3.8" fill="#0000ff"/>
<circle cx="1675.2" cy="918.42" r="3.8" fill="#0000ff"/>
<circle cx="1687.52" cy="916.35" r="3.8" fill="#0000ff"/>
<circle cx="1699.84" cy="931.13" r="3.8" fill="#0000ff"/>
<circle cx="1712.16" cy="926.06" r="3.8" fill="#0000ff"/>
<circle cx="1724.48" cy="908.88" r="3.8" fill="#0000ff"/>
<circle cx="1736.79" cy="932.72" r="3.8" fill="#0000ff"/>
<circle cx="1749.11" cy="922.93" r="3.8" fill="#0000ff"/>
<circle cx="1761.43" cy="933.64" r="3.8" fill="#0000ff"/>
<circle cx="1773.75" cy="925.28" r="3.8" fill="#0000ff"/>
<circle cx="1786.07" cy="923.24" r="3.8" fill="#0000ff"/>
<circle cx="1798.38" cy="918.02" r="3.8" fill="#0000ff"/>
<circle cx="1810.7" cy="896.74" r="3.8" fill="#0000ff"/>
<circle cx="1823.02" cy="894.5" r="3.8" fill="#0000ff"/>
<circle cx="1835.34" cy="835.13" r="3.8" fill="#0000ff"/>
<circle cx="1847.66" cy="837.42" r="3.8" fill="#0000ff"/>
<circle cx="1859.97" cy="803.91" r="3.8" fill="#0000ff"/>
<circle cx="1872.29" cy="794.53" r="3.8" fill="#0000ff"/>
<circle cx="1884.61" cy="794.75" r="3.8" fill="#0000ff"/>
<circle cx="1896.93" cy="814.87" r="3.8" fill="#0000ff"/>
<circle cx="1909.25" cy="803.69" r="3.8" fill="#0000ff"/>
<circle cx="1921.56" cy="799.89" r="3.8" fill="#0000ff"/>
<circle cx="1933.88" cy="792.71" r="3.8" fill="#0000ff"/>
<circle cx="1946.2" cy="773.08" r="3.8" fill="#0000ff"/>
<line x1="1554.4" y1="672.5" x2="1625.2" y2="672.5" stroke="#0000ff" stroke-width="3.2"/>
<circle cx="1589.6" cy="672.5" r="4" fill="#0000ff"/>
<line x1="1554.4" y1="708.6" x2="1625.2" y2="708.6" stroke="#ff0000" stroke-width="3.2"/>
<rect x="1586" y="705" width="7.2" height="7.2" fill="#ff0000"/>
<text x="1632.2" y="683.4" font-family="Liberation Serif, serif" font-size="31.3" font-weight="bold" fill="#000" text-anchor="start" >Measurement</text>
<text x="1631.8" y="719.4" font-family="Liberation Serif, serif" font-size="31.45" font-weight="bold" fill="#000" text-anchor="start" >Simulation</text>
<rect x="1330.3" y="636.1" width="615.9" height="468.3" fill="none" stroke="#000" stroke-width="2.6"/>
<line x1="1391.89" y1="1104.4" x2="1391.89" y2="1101.2" stroke="#000" stroke-width="2.2"/>
<line x1="1453.48" y1="1104.4" x2="1453.48" y2="1098.4" stroke="#000" stroke-width="2.2"/>
<line x1="1515.07" y1="1104.4" x2="1515.07" y2="1101.2" stroke="#000" stroke-width="2.2"/>
<line x1="1576.66" y1="1104.4" x2="1576.66" y2="1098.4" stroke="#000" stroke-width="2.2"/>
<line x1="1638.25" y1="1104.4" x2="1638.25" y2="1101.2" stroke="#000" stroke-width="2.2"/>
<line x1="1699.84" y1="1104.4" x2="1699.84" y2="1098.4" stroke="#000" stroke-width="2.2"/>
<line x1="1761.43" y1="1104.4" x2="1761.43" y2="1101.2" stroke="#000" stroke-width="2.2"/>
<line x1="1823.02" y1="1104.4" x2="1823.02" y2="1098.4" stroke="#000" stroke-width="2.2"/>
<line x1="1884.61" y1="1104.4" x2="1884.61" y2="1101.2" stroke="#000" stroke-width="2.2"/>
<line x1="1330.3" y1="636.1" x2="1333.5" y2="636.1" stroke="#000" stroke-width="2.2"/>
<line x1="1330.3" y1="665.37" x2="1336.8" y2="665.37" stroke="#000" stroke-width="2.2"/>
<line x1="1330.3" y1="694.64" x2="1333.5" y2="694.64" stroke="#000" stroke-width="2.2"/>
<line x1="1330.3" y1="723.91" x2="1336.8" y2="723.91" stroke="#000" stroke-width="2.2"/>
<line x1="1330.3" y1="753.18" x2="1333.5" y2="753.18" stroke="#000" stroke-width="2.2"/>
<line x1="1330.3" y1="782.44" x2="1336.8" y2="782.44" stroke="#000" stroke-width="2.2"/>
<line x1="1330.3" y1="811.71" x2="1333.5" y2="811.71" stroke="#000" stroke-width="2.2"/>
<line x1="1330.3" y1="840.98" x2="1336.8" y2="840.98" stroke="#000" stroke-width="2.2"/>
<line x1="1330.3" y1="870.25" x2="1333.5" y2="870.25" stroke="#000" stroke-width="2.2"/>
<line x1="1330.3" y1="899.52" x2="1336.8" y2="899.52" stroke="#000" stroke-width="2.2"/>
<line x1="1330.3" y1="928.79" x2="1333.5" y2="928.79" stroke="#000" stroke-width="2.2"/>
<line x1="1330.3" y1="958.06" x2="1336.8" y2="958.06" stroke="#000" stroke-width="2.2"/>
<line x1="1330.3" y1="987.33" x2="1333.5" y2="987.33" stroke="#000" stroke-width="2.2"/>
<line x1="1330.3" y1="1016.59" x2="1336.8" y2="1016.59" stroke="#000" stroke-width="2.2"/>
<line x1="1330.3" y1="1045.86" x2="1333.5" y2="1045.86" stroke="#000" stroke-width="2.2"/>
<line x1="1330.3" y1="1075.13" x2="1336.8" y2="1075.13" stroke="#000" stroke-width="2.2"/>
<text transform="translate(1330.3 1131.2) scale(1.0 1.06)" x="0" y="0" font-family="Liberation Serif, serif" font-size="24.4" font-weight="bold" text-anchor="middle">2</text>
<text transform="translate(1453.48 1131.2) scale(1.0 1.06)" x="0" y="0" font-family="Liberation Serif, serif" font-size="24.4" font-weight="bold" text-anchor="middle">4</text>
<text transform="translate(1576.66 1131.2) scale(1.0 1.06)" x="0" y="0" font-family="Liberation Serif, serif" font-size="24.4" font-weight="bold" text-anchor="middle">6</text>
<text transform="translate(1699.84 1131.2) scale(1.0 1.06)" x="0" y="0" font-family="Liberation Serif, serif" font-size="24.4" font-weight="bold" text-anchor="middle">8</text>
<text transform="translate(1823.02 1131.2) scale(1.0 1.06)" x="0" y="0" font-family="Liberation Serif, serif" font-size="24.4" font-weight="bold" text-anchor="middle">10</text>
<text transform="translate(1946.2 1131.2) scale(1.0 1.06)" x="0" y="0" font-family="Liberation Serif, serif" font-size="24.4" font-weight="bold" text-anchor="middle">12</text>
<text transform="translate(1322.5 673.97) scale(1.0 1.07)" x="0" y="0" font-family="Liberation Serif, serif" font-size="24.4" font-weight="bold" text-anchor="end">10</text>
<text transform="translate(1322.5 732.51) scale(1.0 1.07)" x="0" y="0" font-family="Liberation Serif, serif" font-size="24.4" font-weight="bold" text-anchor="end">5</text>
<text transform="translate(1322.5 791.04) scale(1.0 1.07)" x="0" y="0" font-family="Liberation Serif, serif" font-size="24.4" font-weight="bold" text-anchor="end">0</text>
<text transform="translate(1322.5 849.58) scale(1.0 1.07)" x="0" y="0" font-family="Liberation Serif, serif" font-size="24.4" font-weight="bold" text-anchor="end">-5</text>
<text transform="translate(1322.5 908.12) scale(1.0 1.07)" x="0" y="0" font-family="Liberation Serif, serif" font-size="24.4" font-weight="bold" text-anchor="end">-10</text>
<text transform="translate(1322.5 966.66) scale(1.0 1.07)" x="0" y="0" font-family="Liberation Serif, serif" font-size="24.4" font-weight="bold" text-anchor="end">-15</text>
<text transform="translate(1322.5 1025.19) scale(1.0 1.07)" x="0" y="0" font-family="Liberation Serif, serif" font-size="24.4" font-weight="bold" text-anchor="end">-20</text>
<text transform="translate(1322.5 1083.73) scale(1.0 1.07)" x="0" y="0" font-family="Liberation Serif, serif" font-size="24.4" font-weight="bold" text-anchor="end">-25</text>
<text x="1484.5" y="1162.4" font-family="Liberation Serif, serif" font-size="41.6" font-weight="bold" fill="#000" text-anchor="start" >Frequency (GHz)</text>
<text x="0" y="0" transform="translate(1287.5 1113.5) rotate(-90)" font-family="Liberation Serif, serif" font-size="42.05" font-weight="bold">The reduction of RCS (dB)</text>
<line x1="4" y1="3.6" x2="1997.5" y2="3.6" stroke="#0a55c4" stroke-width="2.4" stroke-dasharray="1.9 4.6" stroke-linecap="round"/>
<line x1="5" y1="3" x2="5" y2="518" stroke="#0a55c4" stroke-width="2.4" stroke-dasharray="1.9 4.6" stroke-linecap="round"/>
<line x1="1997" y1="3" x2="1997" y2="518" stroke="#0a55c4" stroke-width="2.4" stroke-dasharray="1.9 4.6" stroke-linecap="round"/>
<line x1="3" y1="518.6" x2="1997" y2="518.6" stroke="#1466cc" stroke-width="2.2"/>
<line x1="3.6" y1="520" x2="3.6" y2="1287" stroke="#0a55c4" stroke-width="2.4" stroke-dasharray="1.9 4.6" stroke-linecap="round"/>
<line x1="1995.6" y1="520" x2="1995.6" y2="1287" stroke="#0a55c4" stroke-width="2.4" stroke-dasharray="1.9 4.6" stroke-linecap="round"/>
<line x1="3" y1="1286.4" x2="1996" y2="1286.4" stroke="#0a55c4" stroke-width="2.4" stroke-dasharray="1.9 4.6" stroke-linecap="round"/>
<text x="8.5" y="35.5" font-family="Liberation Sans, sans-serif" font-size="41.5" font-weight="bold">(a)</text>
<text x="1612.5" y="35" font-family="Liberation Sans, sans-serif" font-size="42" font-weight="bold">(b)</text>
<text x="8.5" y="556" font-family="Liberation Sans, sans-serif" font-size="42" font-weight="bold">(c)</text>
<text x="503" y="556" font-family="Liberation Sans, sans-serif" font-size="42" font-weight="bold">(d)</text>
<text x="1241.5" y="556" font-family="Liberation Sans, sans-serif" font-size="42" font-weight="bold">(e)</text>
</svg>
</body></html>
